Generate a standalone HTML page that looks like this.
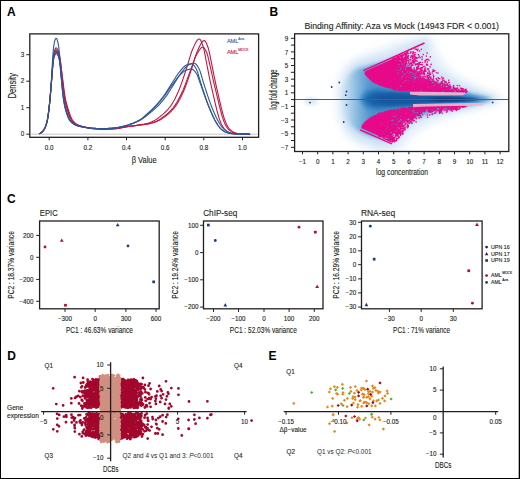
<!DOCTYPE html>
<html><head><meta charset="utf-8"><style>
html,body{margin:0;padding:0;background:#fff;}
body{width:520px;height:479px;overflow:hidden;}
svg{display:block;font-family:"Liberation Sans",sans-serif;}
</style></head><body>
<svg width="520" height="479" viewBox="0 0 520 479">
<rect x="0" y="0" width="520" height="479" fill="#fff"/>
<text x="6.9" y="15.7" font-size="12" fill="#000" font-weight="bold">A</text>
<rect x="29.8" y="33.9" width="228.8" height="103.4" fill="none" stroke="#231f20" stroke-width="1.3"/>
<line x1="31" y1="134.2" x2="257.5" y2="134.2" stroke="#d9d9d9" stroke-width="1.4"/>
<line x1="26.3" y1="134.2" x2="29.8" y2="134.2" stroke="#231f20" stroke-width="1"/>
<text x="24.2" y="136.4" font-size="6.3" fill="#231f20" stroke="#231f20" stroke-width="0.12" text-anchor="end">0</text>
<line x1="26.3" y1="107.7" x2="29.8" y2="107.7" stroke="#231f20" stroke-width="1"/>
<text x="24.2" y="109.9" font-size="6.3" fill="#231f20" stroke="#231f20" stroke-width="0.12" text-anchor="end">1</text>
<line x1="26.3" y1="81.2" x2="29.8" y2="81.2" stroke="#231f20" stroke-width="1"/>
<text x="24.2" y="83.4" font-size="6.3" fill="#231f20" stroke="#231f20" stroke-width="0.12" text-anchor="end">2</text>
<line x1="26.3" y1="54.7" x2="29.8" y2="54.7" stroke="#231f20" stroke-width="1"/>
<text x="24.2" y="56.9" font-size="6.3" fill="#231f20" stroke="#231f20" stroke-width="0.12" text-anchor="end">3</text>
<line x1="49.2" y1="137.3" x2="49.2" y2="140.3" stroke="#231f20" stroke-width="1"/>
<text x="49.2" y="149.6" font-size="6.3" fill="#231f20" stroke="#231f20" stroke-width="0.12" text-anchor="middle">0.0</text>
<line x1="87.9" y1="137.3" x2="87.9" y2="140.3" stroke="#231f20" stroke-width="1"/>
<text x="87.9" y="149.6" font-size="6.3" fill="#231f20" stroke="#231f20" stroke-width="0.12" text-anchor="middle">0.2</text>
<line x1="126.5" y1="137.3" x2="126.5" y2="140.3" stroke="#231f20" stroke-width="1"/>
<text x="126.5" y="149.6" font-size="6.3" fill="#231f20" stroke="#231f20" stroke-width="0.12" text-anchor="middle">0.4</text>
<line x1="165.2" y1="137.3" x2="165.2" y2="140.3" stroke="#231f20" stroke-width="1"/>
<text x="165.2" y="149.6" font-size="6.3" fill="#231f20" stroke="#231f20" stroke-width="0.12" text-anchor="middle">0.6</text>
<line x1="203.8" y1="137.3" x2="203.8" y2="140.3" stroke="#231f20" stroke-width="1"/>
<text x="203.8" y="149.6" font-size="6.3" fill="#231f20" stroke="#231f20" stroke-width="0.12" text-anchor="middle">0.8</text>
<line x1="242.5" y1="137.3" x2="242.5" y2="140.3" stroke="#231f20" stroke-width="1"/>
<text x="242.5" y="149.6" font-size="6.3" fill="#231f20" stroke="#231f20" stroke-width="0.12" text-anchor="middle">1.0</text>
<text x="131.7" y="162.5" font-size="9" fill="#231f20" stroke="#231f20" stroke-width="0.12" textLength="25" lengthAdjust="spacingAndGlyphs">&#946; Value</text>
<text transform="translate(15.8 98.5) rotate(-90)" font-size="10.4" fill="#231f20" stroke="#231f20" stroke-width="0.12" textLength="25.5" lengthAdjust="spacingAndGlyphs">Density</text>
<text x="226.9" y="42.8" font-size="5.6" fill="#3b5b9b" stroke="#3b5b9b" stroke-width="0.12">AML</text>
<text x="238.3" y="39.6" font-size="3.4" fill="#3b5b9b" stroke="#3b5b9b" stroke-width="0.12">Aza</text>
<text x="226.9" y="53.8" font-size="5.6" fill="#c0234a" stroke="#c0234a" stroke-width="0.12">AML</text>
<text x="238.3" y="50.5" font-size="3.4" fill="#c0234a" stroke="#c0234a" stroke-width="0.12">MOCK</text>
<g fill="none" stroke-width="1.1" stroke-linejoin="round">
<path d="M38.96 133.62 L39.66 133.48 L40.37 133.19 L41.07 132.82 L41.78 132.32 L42.49 131.64 L43.19 130.73 L43.90 129.66 L44.60 128.41 L45.31 126.92 L46.02 125.11 L46.72 122.83 L47.43 119.82 L48.13 115.60 L48.84 110.07 L49.55 103.60 L50.25 96.25 L50.96 87.75 L51.67 78.32 L52.37 68.21 L53.08 59.18 L53.78 53.65 L54.49 50.68 L55.20 48.83 L55.90 47.91 L56.61 47.93 L57.31 48.75 L58.02 50.19 L58.73 52.12 L59.43 54.68 L60.14 58.64 L60.85 64.39 L61.55 71.02 L62.26 77.53 L62.96 83.84 L63.67 89.96 L64.38 95.34 L65.08 99.58 L65.79 102.93 L66.49 105.74 L67.20 108.23 L67.91 110.53 L68.61 112.73 L69.32 114.81 L70.02 116.68 L70.73 118.28 L71.44 119.56 L72.14 120.59 L72.85 121.48 L73.56 122.26 L74.26 122.94 L74.97 123.52 L75.67 123.99 L76.38 124.38 L77.09 124.73 L77.79 125.04 L78.50 125.32 L79.20 125.58 L79.91 125.81 L80.62 126.03 L81.32 126.23 L82.03 126.42 L82.74 126.61 L83.44 126.79 L84.15 126.96 L84.85 127.14 L85.56 127.31 L86.27 127.48 L86.97 127.64 L87.68 127.79 L88.38 127.94 L89.09 128.08 L89.80 128.21 L90.50 128.32 L91.21 128.43 L91.92 128.52 L92.62 128.59 L93.33 128.65 L94.03 128.71 L94.74 128.76 L95.45 128.82 L96.15 128.87 L96.86 128.91 L97.56 128.96 L98.27 129.00 L98.98 129.04 L99.68 129.07 L100.39 129.10 L101.09 129.12 L101.80 129.14 L102.51 129.15 L103.21 129.16 L103.92 129.16 L104.63 129.16 L105.33 129.15 L106.04 129.14 L106.74 129.12 L107.45 129.09 L108.16 129.07 L108.86 129.03 L109.57 129.00 L110.27 128.96 L110.98 128.92 L111.69 128.88 L112.39 128.84 L113.10 128.79 L113.81 128.74 L114.51 128.69 L115.22 128.64 L115.92 128.58 L116.63 128.51 L117.34 128.42 L118.04 128.32 L118.75 128.21 L119.45 128.09 L120.16 127.96 L120.87 127.83 L121.57 127.69 L122.28 127.56 L122.98 127.42 L123.69 127.28 L124.40 127.15 L125.10 127.02 L125.81 126.90 L126.52 126.78 L127.22 126.67 L127.93 126.57 L128.63 126.46 L129.34 126.36 L130.05 126.26 L130.75 126.16 L131.46 126.06 L132.16 125.97 L132.87 125.87 L133.58 125.77 L134.28 125.67 L134.99 125.57 L135.70 125.47 L136.40 125.37 L137.11 125.27 L137.81 125.16 L138.52 125.05 L139.23 124.94 L139.93 124.83 L140.64 124.71 L141.34 124.60 L142.05 124.49 L142.76 124.38 L143.46 124.26 L144.17 124.13 L144.88 123.99 L145.58 123.85 L146.29 123.69 L146.99 123.51 L147.70 123.31 L148.41 123.09 L149.11 122.85 L149.82 122.59 L150.52 122.31 L151.23 122.01 L151.94 121.69 L152.64 121.36 L153.35 121.02 L154.05 120.67 L154.76 120.29 L155.47 119.88 L156.17 119.44 L156.88 118.97 L157.59 118.48 L158.29 117.97 L159.00 117.43 L159.70 116.88 L160.41 116.32 L161.12 115.74 L161.82 115.15 L162.53 114.56 L163.23 113.95 L163.94 113.33 L164.65 112.68 L165.35 112.02 L166.06 111.33 L166.77 110.61 L167.47 109.86 L168.18 109.07 L168.88 108.24 L169.59 107.37 L170.30 106.44 L171.00 105.45 L171.71 104.39 L172.41 103.26 L173.12 102.07 L173.83 100.81 L174.53 99.50 L175.24 98.14 L175.94 96.72 L176.65 95.26 L177.36 93.76 L178.06 92.22 L178.77 90.59 L179.48 88.87 L180.18 87.05 L180.89 85.13 L181.59 83.15 L182.30 81.10 L183.01 79.01 L183.71 76.89 L184.42 74.75 L185.12 72.61 L185.83 70.47 L186.54 68.33 L187.24 66.11 L187.95 63.78 L188.66 61.38 L189.36 58.95 L190.07 56.58 L190.77 54.31 L191.48 52.21 L192.19 50.33 L192.89 48.67 L193.60 47.13 L194.30 45.61 L195.01 44.13 L195.72 42.73 L196.42 41.47 L197.13 40.40 L197.84 39.58 L198.54 39.07 L199.25 38.95 L199.95 39.34 L200.66 40.28 L201.37 41.68 L202.07 43.43 L202.78 45.41 L203.48 47.68 L204.19 50.59 L204.90 54.17 L205.60 57.96 L206.31 61.63 L207.01 65.24 L207.72 68.84 L208.43 72.44 L209.13 76.02 L209.84 79.49 L210.55 82.79 L211.25 85.95 L211.96 89.05 L212.66 92.16 L213.37 95.28 L214.08 98.39 L214.78 101.46 L215.49 104.49 L216.19 107.45 L216.90 110.27 L217.61 112.92 L218.31 115.45 L219.02 117.82 L219.73 119.95 L220.43 121.81 L221.14 123.45 L221.84 124.95 L222.55 126.28 L223.26 127.42 L223.96 128.35 L224.67 129.12 L225.37 129.81 L226.08 130.44 L226.79 130.99 L227.49 131.47 L228.20 131.88 L228.90 132.22 L229.61 132.51 L230.32 132.76 L231.02 133.00 L231.73 133.21 L232.44 133.40 L233.14 133.55 L233.85 133.68 L234.55 133.76 L235.26 133.82 L235.97 133.86 L236.67 133.89 L237.38 133.93 L238.08 133.96 L238.79 133.99 L239.50 134.01 L240.20 134.04 L240.91 134.06 L241.62 134.09 L242.32 134.10 L243.03 134.12 L243.73 134.14 L244.44 134.15 L245.15 134.17 L245.85 134.18 L246.56 134.18 L247.26 134.19 L247.97 134.20 L248.68 134.20 L249.38 134.20 L250.09 134.20" stroke="#c0183f"/>
<path d="M38.96 133.62 L39.66 133.48 L40.37 133.19 L41.07 132.82 L41.78 132.32 L42.49 131.64 L43.19 130.73 L43.90 129.66 L44.60 128.41 L45.31 126.93 L46.02 125.11 L46.72 122.84 L47.43 119.85 L48.13 115.65 L48.84 110.19 L49.55 103.83 L50.25 96.68 L50.96 88.53 L51.67 79.64 L52.37 70.35 L53.08 62.22 L53.78 57.32 L54.49 54.74 L55.20 53.15 L55.90 52.35 L56.61 52.34 L57.31 52.97 L58.02 54.07 L58.73 55.57 L59.43 57.46 L60.14 60.27 L60.85 64.59 L61.55 70.05 L62.26 75.77 L62.96 81.33 L63.67 86.90 L64.38 92.27 L65.08 96.88 L65.79 100.52 L66.49 103.47 L67.20 106.02 L67.91 108.32 L68.61 110.51 L69.32 112.64 L70.02 114.68 L70.73 116.56 L71.44 118.17 L72.14 119.47 L72.85 120.51 L73.56 121.41 L74.26 122.20 L74.97 122.89 L75.67 123.47 L76.38 123.95 L77.09 124.35 L77.79 124.70 L78.50 125.01 L79.20 125.30 L79.91 125.56 L80.62 125.79 L81.32 126.01 L82.03 126.22 L82.74 126.41 L83.44 126.59 L84.15 126.77 L84.85 126.95 L85.56 127.12 L86.27 127.29 L86.97 127.46 L87.68 127.62 L88.38 127.78 L89.09 127.93 L89.80 128.07 L90.50 128.19 L91.21 128.31 L91.92 128.42 L92.62 128.51 L93.33 128.58 L94.03 128.65 L94.74 128.70 L95.45 128.76 L96.15 128.81 L96.86 128.86 L97.56 128.91 L98.27 128.95 L98.98 128.99 L99.68 129.03 L100.39 129.07 L101.09 129.10 L101.80 129.12 L102.51 129.14 L103.21 129.15 L103.92 129.16 L104.63 129.16 L105.33 129.16 L106.04 129.15 L106.74 129.14 L107.45 129.12 L108.16 129.10 L108.86 129.07 L109.57 129.04 L110.27 129.01 L110.98 128.97 L111.69 128.93 L112.39 128.89 L113.10 128.84 L113.81 128.80 L114.51 128.75 L115.22 128.70 L115.92 128.64 L116.63 128.58 L117.34 128.50 L118.04 128.41 L118.75 128.30 L119.45 128.17 L120.16 128.04 L120.87 127.90 L121.57 127.75 L122.28 127.60 L122.98 127.45 L123.69 127.30 L124.40 127.16 L125.10 127.02 L125.81 126.90 L126.52 126.78 L127.22 126.68 L127.93 126.58 L128.63 126.48 L129.34 126.38 L130.05 126.29 L130.75 126.20 L131.46 126.11 L132.16 126.03 L132.87 125.94 L133.58 125.86 L134.28 125.77 L134.99 125.69 L135.70 125.60 L136.40 125.52 L137.11 125.43 L137.81 125.35 L138.52 125.26 L139.23 125.17 L139.93 125.07 L140.64 124.98 L141.34 124.88 L142.05 124.79 L142.76 124.69 L143.46 124.60 L144.17 124.51 L144.88 124.41 L145.58 124.31 L146.29 124.21 L146.99 124.10 L147.70 123.99 L148.41 123.86 L149.11 123.73 L149.82 123.59 L150.52 123.44 L151.23 123.27 L151.94 123.08 L152.64 122.88 L153.35 122.67 L154.05 122.44 L154.76 122.20 L155.47 121.94 L156.17 121.68 L156.88 121.40 L157.59 121.10 L158.29 120.80 L159.00 120.48 L159.70 120.12 L160.41 119.74 L161.12 119.32 L161.82 118.88 L162.53 118.41 L163.23 117.92 L163.94 117.42 L164.65 116.89 L165.35 116.35 L166.06 115.80 L166.77 115.23 L167.47 114.66 L168.18 114.06 L168.88 113.45 L169.59 112.81 L170.30 112.15 L171.00 111.46 L171.71 110.74 L172.41 109.99 L173.12 109.20 L173.83 108.38 L174.53 107.51 L175.24 106.60 L175.94 105.62 L176.65 104.57 L177.36 103.45 L178.06 102.27 L178.77 101.03 L179.48 99.74 L180.18 98.39 L180.89 96.99 L181.59 95.55 L182.30 94.07 L183.01 92.54 L183.71 90.95 L184.42 89.26 L185.12 87.47 L185.83 85.59 L186.54 83.64 L187.24 81.63 L187.95 79.58 L188.66 77.50 L189.36 75.40 L190.07 73.30 L190.77 71.22 L191.48 69.13 L192.19 66.98 L192.89 64.72 L193.60 62.39 L194.30 60.04 L195.01 57.73 L195.72 55.52 L196.42 53.47 L197.13 51.63 L197.84 50.02 L198.54 48.53 L199.25 47.07 L199.95 45.64 L200.66 44.29 L201.37 43.07 L202.07 42.03 L202.78 41.22 L203.48 40.69 L204.19 40.53 L204.90 40.84 L205.60 41.67 L206.31 42.96 L207.01 44.60 L207.72 46.47 L208.43 48.61 L209.13 51.32 L209.84 54.71 L210.55 58.37 L211.25 61.95 L211.96 65.46 L212.66 68.96 L213.37 72.48 L214.08 75.99 L214.78 79.41 L215.49 82.68 L216.19 85.81 L216.90 88.87 L217.61 91.94 L218.31 95.04 L219.02 98.12 L219.73 101.17 L220.43 104.19 L221.14 107.15 L221.84 109.98 L222.55 112.64 L223.26 115.17 L223.96 117.56 L224.67 119.72 L225.37 121.61 L226.08 123.27 L226.79 124.78 L227.49 126.13 L228.20 127.30 L228.90 128.25 L229.61 129.04 L230.32 129.74 L231.02 130.37 L231.73 130.93 L232.44 131.42 L233.14 131.84 L233.85 132.19 L234.55 132.48 L235.26 132.73 L235.97 132.97 L236.67 133.19 L237.38 133.38 L238.08 133.54 L238.79 133.66 L239.50 133.75 L240.20 133.81 L240.91 133.85 L241.62 133.89 L242.32 133.92 L243.03 133.95 L243.73 133.98 L244.44 134.01 L245.15 134.04 L245.85 134.06 L246.56 134.08 L247.26 134.10 L247.97 134.12 L248.68 134.14 L249.38 134.15 L250.09 134.16" stroke="#c0183f"/>
<path d="M38.96 133.62 L39.66 133.48 L40.37 133.19 L41.07 132.82 L41.78 132.32 L42.49 131.64 L43.19 130.73 L43.90 129.66 L44.60 128.41 L45.31 126.93 L46.02 125.11 L46.72 122.85 L47.43 119.85 L48.13 115.66 L48.84 110.22 L49.55 103.90 L50.25 96.81 L50.96 88.76 L51.67 80.03 L52.37 70.99 L53.08 63.11 L53.78 58.40 L54.49 55.94 L55.20 54.42 L55.90 53.67 L56.61 53.71 L57.31 54.41 L58.02 55.66 L58.73 57.35 L59.43 59.70 L60.14 63.48 L60.85 68.86 L61.55 74.92 L62.26 80.93 L62.96 86.94 L63.67 92.71 L64.38 97.60 L65.08 101.41 L65.79 104.52 L66.49 107.19 L67.20 109.58 L67.91 111.83 L68.61 113.96 L69.32 115.92 L70.02 117.64 L70.73 119.05 L71.44 120.17 L72.14 121.11 L72.85 121.94 L73.56 122.66 L74.26 123.28 L74.97 123.80 L75.67 124.22 L76.38 124.58 L77.09 124.91 L77.79 125.20 L78.50 125.47 L79.20 125.71 L79.91 125.94 L80.62 126.15 L81.32 126.34 L82.03 126.53 L82.74 126.71 L83.44 126.89 L84.15 127.06 L84.85 127.23 L85.56 127.40 L86.27 127.57 L86.97 127.73 L87.68 127.88 L88.38 128.02 L89.09 128.15 L89.80 128.27 L90.50 128.38 L91.21 128.48 L91.92 128.56 L92.62 128.63 L93.33 128.68 L94.03 128.74 L94.74 128.79 L95.45 128.84 L96.15 128.89 L96.86 128.94 L97.56 128.98 L98.27 129.02 L98.98 129.05 L99.68 129.09 L100.39 129.11 L101.09 129.13 L101.80 129.15 L102.51 129.16 L103.21 129.16 L103.92 129.16 L104.63 129.15 L105.33 129.14 L106.04 129.12 L106.74 129.10 L107.45 129.08 L108.16 129.05 L108.86 129.02 L109.57 128.98 L110.27 128.94 L110.98 128.90 L111.69 128.85 L112.39 128.81 L113.10 128.76 L113.81 128.71 L114.51 128.66 L115.22 128.61 L115.92 128.54 L116.63 128.47 L117.34 128.37 L118.04 128.27 L118.75 128.16 L119.45 128.04 L120.16 127.92 L120.87 127.79 L121.57 127.66 L122.28 127.52 L122.98 127.39 L123.69 127.26 L124.40 127.13 L125.10 127.01 L125.81 126.89 L126.52 126.79 L127.22 126.68 L127.93 126.58 L128.63 126.49 L129.34 126.39 L130.05 126.30 L130.75 126.21 L131.46 126.12 L132.16 126.03 L132.87 125.94 L133.58 125.85 L134.28 125.76 L134.99 125.67 L135.70 125.59 L136.40 125.50 L137.11 125.40 L137.81 125.31 L138.52 125.22 L139.23 125.12 L139.93 125.02 L140.64 124.92 L141.34 124.82 L142.05 124.72 L142.76 124.63 L143.46 124.53 L144.17 124.43 L144.88 124.33 L145.58 124.22 L146.29 124.11 L146.99 123.99 L147.70 123.86 L148.41 123.72 L149.11 123.57 L149.82 123.41 L150.52 123.22 L151.23 123.02 L151.94 122.81 L152.64 122.58 L153.35 122.34 L154.05 122.08 L154.76 121.81 L155.47 121.52 L156.17 121.22 L156.88 120.91 L157.59 120.58 L158.29 120.23 L159.00 119.85 L159.70 119.43 L160.41 118.99 L161.12 118.52 L161.82 118.03 L162.53 117.52 L163.23 117.00 L163.94 116.45 L164.65 115.90 L165.35 115.34 L166.06 114.76 L166.77 114.18 L167.47 113.57 L168.18 112.94 L168.88 112.29 L169.59 111.61 L170.30 110.90 L171.00 110.17 L171.71 109.39 L172.41 108.59 L173.12 107.74 L173.83 106.85 L174.53 105.89 L175.24 104.87 L175.94 103.79 L176.65 102.64 L177.36 101.44 L178.06 100.18 L178.77 98.87 L179.48 97.53 L180.18 96.14 L180.89 94.72 L181.59 93.26 L182.30 91.75 L183.01 90.15 L183.71 88.47 L184.42 86.70 L185.12 84.88 L185.83 83.00 L186.54 81.09 L187.24 79.17 L187.95 77.24 L188.66 75.32 L189.36 73.42 L190.07 71.54 L190.77 69.63 L191.48 67.65 L192.19 65.61 L192.89 63.56 L193.60 61.56 L194.30 59.65 L195.01 57.88 L195.72 56.31 L196.42 54.95 L197.13 53.71 L197.84 52.52 L198.54 51.35 L199.25 50.24 L199.95 49.24 L200.66 48.39 L201.37 47.72 L202.07 47.28 L202.78 47.12 L203.48 47.34 L204.19 47.97 L204.90 48.98 L205.60 50.28 L206.31 51.79 L207.01 53.52 L207.72 55.72 L208.43 58.54 L209.13 61.67 L209.84 64.77 L210.55 67.85 L211.25 70.98 L211.96 74.15 L212.66 77.35 L213.37 80.51 L214.08 83.56 L214.78 86.50 L215.49 89.40 L216.19 92.32 L216.90 95.29 L217.61 98.27 L218.31 101.23 L219.02 104.17 L219.73 107.08 L220.43 109.87 L221.14 112.51 L221.84 115.03 L222.55 117.41 L223.26 119.58 L223.96 121.48 L224.67 123.15 L225.37 124.67 L226.08 126.03 L226.79 127.21 L227.49 128.18 L228.20 128.98 L228.90 129.68 L229.61 130.32 L230.32 130.88 L231.02 131.38 L231.73 131.81 L232.44 132.16 L233.14 132.45 L233.85 132.71 L234.55 132.95 L235.26 133.17 L235.97 133.36 L236.67 133.53 L237.38 133.65 L238.08 133.75 L238.79 133.81 L239.50 133.85 L240.20 133.88 L240.91 133.92 L241.62 133.95 L242.32 133.98 L243.03 134.01 L243.73 134.03 L244.44 134.06 L245.15 134.08 L245.85 134.10 L246.56 134.12 L247.26 134.14 L247.97 134.15 L248.68 134.16 L249.38 134.17 L250.09 134.18" stroke="#c0183f"/>
<path d="M38.96 133.62 L39.66 133.48 L40.37 133.19 L41.07 132.82 L41.78 132.32 L42.49 131.64 L43.19 130.73 L43.90 129.65 L44.60 128.41 L45.31 126.92 L46.02 125.10 L46.72 122.81 L47.43 119.77 L48.13 115.48 L48.84 109.83 L49.55 103.11 L50.25 95.31 L50.96 86.06 L51.67 75.43 L52.37 63.54 L53.08 52.56 L53.78 45.66 L54.49 41.85 L55.20 39.43 L55.90 38.25 L56.61 38.48 L57.31 40.09 L58.02 42.83 L58.73 46.75 L59.43 52.96 L60.14 61.85 L60.85 71.49 L61.55 80.54 L62.26 88.85 L62.96 95.75 L63.67 100.89 L64.38 104.84 L65.08 108.04 L65.79 110.73 L66.49 113.12 L67.20 115.25 L67.91 117.10 L68.61 118.62 L69.32 119.82 L70.02 120.82 L70.73 121.69 L71.44 122.45 L72.14 123.10 L72.85 123.64 L73.56 124.09 L74.26 124.47 L74.97 124.82 L75.67 125.13 L76.38 125.42 L77.09 125.68 L77.79 125.92 L78.50 126.13 L79.20 126.33 L79.91 126.51 L80.62 126.67 L81.32 126.82 L82.03 126.95 L82.74 127.08 L83.44 127.21 L84.15 127.32 L84.85 127.43 L85.56 127.54 L86.27 127.63 L86.97 127.73 L87.68 127.81 L88.38 127.89 L89.09 127.96 L89.80 128.02 L90.50 128.08 L91.21 128.13 L91.92 128.19 L92.62 128.24 L93.33 128.29 L94.03 128.34 L94.74 128.38 L95.45 128.43 L96.15 128.47 L96.86 128.51 L97.56 128.54 L98.27 128.57 L98.98 128.59 L99.68 128.61 L100.39 128.62 L101.09 128.63 L101.80 128.63 L102.51 128.62 L103.21 128.61 L103.92 128.60 L104.63 128.58 L105.33 128.55 L106.04 128.52 L106.74 128.49 L107.45 128.46 L108.16 128.42 L108.86 128.38 L109.57 128.34 L110.27 128.29 L110.98 128.24 L111.69 128.19 L112.39 128.14 L113.10 128.09 L113.81 128.03 L114.51 127.96 L115.22 127.87 L115.92 127.78 L116.63 127.67 L117.34 127.55 L118.04 127.43 L118.75 127.29 L119.45 127.15 L120.16 127.00 L120.87 126.85 L121.57 126.69 L122.28 126.52 L122.98 126.35 L123.69 126.18 L124.40 126.00 L125.10 125.82 L125.81 125.63 L126.52 125.45 L127.22 125.26 L127.93 125.06 L128.63 124.86 L129.34 124.64 L130.05 124.42 L130.75 124.19 L131.46 123.94 L132.16 123.69 L132.87 123.43 L133.58 123.16 L134.28 122.88 L134.99 122.59 L135.70 122.29 L136.40 121.99 L137.11 121.67 L137.81 121.34 L138.52 121.01 L139.23 120.66 L139.93 120.30 L140.64 119.93 L141.34 119.54 L142.05 119.12 L142.76 118.65 L143.46 118.16 L144.17 117.64 L144.88 117.10 L145.58 116.54 L146.29 115.97 L146.99 115.39 L147.70 114.81 L148.41 114.22 L149.11 113.64 L149.82 113.07 L150.52 112.50 L151.23 111.92 L151.94 111.34 L152.64 110.74 L153.35 110.14 L154.05 109.53 L154.76 108.91 L155.47 108.27 L156.17 107.61 L156.88 106.94 L157.59 106.25 L158.29 105.54 L159.00 104.80 L159.70 104.05 L160.41 103.27 L161.12 102.47 L161.82 101.66 L162.53 100.82 L163.23 99.96 L163.94 99.08 L164.65 98.19 L165.35 97.27 L166.06 96.33 L166.77 95.36 L167.47 94.35 L168.18 93.29 L168.88 92.20 L169.59 91.09 L170.30 89.95 L171.00 88.81 L171.71 87.66 L172.41 86.52 L173.12 85.38 L173.83 84.26 L174.53 83.16 L175.24 82.04 L175.94 80.91 L176.65 79.76 L177.36 78.62 L178.06 77.48 L178.77 76.35 L179.48 75.26 L180.18 74.20 L180.89 73.18 L181.59 72.23 L182.30 71.32 L183.01 70.46 L183.71 69.59 L184.42 68.74 L185.12 67.91 L185.83 67.12 L186.54 66.40 L187.24 65.76 L187.95 65.22 L188.66 64.80 L189.36 64.46 L190.07 64.17 L190.77 63.90 L191.48 63.66 L192.19 63.46 L192.89 63.31 L193.60 63.23 L194.30 63.25 L195.01 63.48 L195.72 63.97 L196.42 64.69 L197.13 65.60 L197.84 66.66 L198.54 67.82 L199.25 69.14 L199.95 70.84 L200.66 73.01 L201.37 75.47 L202.07 77.95 L202.78 80.31 L203.48 82.60 L204.19 84.87 L204.90 87.12 L205.60 89.34 L206.31 91.53 L207.01 93.69 L207.72 95.83 L208.43 97.92 L209.13 99.95 L209.84 101.91 L210.55 103.84 L211.25 105.71 L211.96 107.54 L212.66 109.30 L213.37 111.00 L214.08 112.64 L214.78 114.24 L215.49 115.80 L216.19 117.31 L216.90 118.75 L217.61 120.12 L218.31 121.41 L219.02 122.64 L219.73 123.82 L220.43 124.94 L221.14 125.97 L221.84 126.90 L222.55 127.72 L223.26 128.46 L223.96 129.15 L224.67 129.80 L225.37 130.39 L226.08 130.91 L226.79 131.37 L227.49 131.74 L228.20 132.06 L228.90 132.34 L229.61 132.60 L230.32 132.84 L231.02 133.05 L231.73 133.23 L232.44 133.38 L233.14 133.49 L233.85 133.59 L234.55 133.67 L235.26 133.74 L235.97 133.80 L236.67 133.86 L237.38 133.91 L238.08 133.96 L238.79 133.99 L239.50 134.02 L240.20 134.04 L240.91 134.06 L241.62 134.07 L242.32 134.08 L243.03 134.10 L243.73 134.11 L244.44 134.12 L245.15 134.13 L245.85 134.14 L246.56 134.15 L247.26 134.16 L247.97 134.17 L248.68 134.18 L249.38 134.18 L250.09 134.19" stroke="#2e5596"/>
<path d="M38.96 133.62 L39.66 133.48 L40.37 133.19 L41.07 132.82 L41.78 132.32 L42.49 131.64 L43.19 130.73 L43.90 129.66 L44.60 128.41 L45.31 126.93 L46.02 125.11 L46.72 122.84 L47.43 119.83 L48.13 115.62 L48.84 110.12 L49.55 103.70 L50.25 96.43 L50.96 88.07 L51.67 78.86 L52.37 69.09 L53.08 60.43 L53.78 55.16 L54.49 52.35 L55.20 50.61 L55.90 49.75 L56.61 49.86 L57.31 50.86 L58.02 52.59 L58.73 54.99 L59.43 58.69 L60.14 64.50 L60.85 71.67 L61.55 78.88 L62.26 85.92 L62.96 92.53 L63.67 97.98 L64.38 102.15 L65.08 105.51 L65.79 108.34 L66.49 110.83 L67.20 113.11 L67.91 115.19 L68.61 117.03 L69.32 118.56 L70.02 119.78 L70.73 120.78 L71.44 121.65 L72.14 122.41 L72.85 123.07 L73.56 123.62 L74.26 124.07 L74.97 124.46 L75.67 124.80 L76.38 125.11 L77.09 125.40 L77.79 125.67 L78.50 125.91 L79.20 126.12 L79.91 126.32 L80.62 126.50 L81.32 126.66 L82.03 126.81 L82.74 126.95 L83.44 127.08 L84.15 127.20 L84.85 127.32 L85.56 127.43 L86.27 127.53 L86.97 127.63 L87.68 127.72 L88.38 127.81 L89.09 127.88 L89.80 127.96 L90.50 128.02 L91.21 128.08 L91.92 128.13 L92.62 128.18 L93.33 128.24 L94.03 128.29 L94.74 128.34 L95.45 128.38 L96.15 128.43 L96.86 128.47 L97.56 128.51 L98.27 128.54 L98.98 128.57 L99.68 128.59 L100.39 128.61 L101.09 128.63 L101.80 128.63 L102.51 128.63 L103.21 128.63 L103.92 128.62 L104.63 128.60 L105.33 128.58 L106.04 128.56 L106.74 128.53 L107.45 128.50 L108.16 128.47 L108.86 128.43 L109.57 128.39 L110.27 128.35 L110.98 128.30 L111.69 128.25 L112.39 128.20 L113.10 128.15 L113.81 128.10 L114.51 128.04 L115.22 127.96 L115.92 127.87 L116.63 127.77 L117.34 127.66 L118.04 127.53 L118.75 127.40 L119.45 127.25 L120.16 127.10 L120.87 126.93 L121.57 126.76 L122.28 126.59 L122.98 126.41 L123.69 126.22 L124.40 126.03 L125.10 125.84 L125.81 125.65 L126.52 125.45 L127.22 125.25 L127.93 125.04 L128.63 124.82 L129.34 124.59 L130.05 124.35 L130.75 124.10 L131.46 123.83 L132.16 123.56 L132.87 123.28 L133.58 122.98 L134.28 122.68 L134.99 122.36 L135.70 122.04 L136.40 121.70 L137.11 121.35 L137.81 120.98 L138.52 120.61 L139.23 120.22 L139.93 119.82 L140.64 119.38 L141.34 118.90 L142.05 118.37 L142.76 117.81 L143.46 117.23 L144.17 116.61 L144.88 115.99 L145.58 115.35 L146.29 114.71 L146.99 114.07 L147.70 113.44 L148.41 112.81 L149.11 112.17 L149.82 111.53 L150.52 110.88 L151.23 110.22 L151.94 109.54 L152.64 108.86 L153.35 108.16 L154.05 107.44 L154.76 106.71 L155.47 105.97 L156.17 105.20 L156.88 104.42 L157.59 103.62 L158.29 102.80 L159.00 101.97 L159.70 101.12 L160.41 100.25 L161.12 99.36 L161.82 98.45 L162.53 97.53 L163.23 96.58 L163.94 95.61 L164.65 94.60 L165.35 93.55 L166.06 92.47 L166.77 91.37 L167.47 90.25 L168.18 89.13 L168.88 87.99 L169.59 86.86 L170.30 85.74 L171.00 84.64 L171.71 83.55 L172.41 82.45 L173.12 81.33 L173.83 80.20 L174.53 79.07 L175.24 77.94 L175.94 76.83 L176.65 75.75 L177.36 74.70 L178.06 73.69 L178.77 72.74 L179.48 71.84 L180.18 70.99 L180.89 70.14 L181.59 69.30 L182.30 68.48 L183.01 67.70 L183.71 66.98 L184.42 66.34 L185.12 65.79 L185.83 65.36 L186.54 65.02 L187.24 64.72 L187.95 64.46 L188.66 64.22 L189.36 64.02 L190.07 63.86 L190.77 63.77 L191.48 63.76 L192.19 63.95 L192.89 64.38 L193.60 65.06 L194.30 65.92 L195.01 66.93 L195.72 68.06 L196.42 69.32 L197.13 70.91 L197.84 72.97 L198.54 75.36 L199.25 77.82 L199.95 80.17 L200.66 82.43 L201.37 84.68 L202.07 86.91 L202.78 89.12 L203.48 91.29 L204.19 93.44 L204.90 95.56 L205.60 97.65 L206.31 99.68 L207.01 101.64 L207.72 103.56 L208.43 105.44 L209.13 107.27 L209.84 109.04 L210.55 110.74 L211.25 112.39 L211.96 113.99 L212.66 115.56 L213.37 117.07 L214.08 118.52 L214.78 119.90 L215.49 121.20 L216.19 122.44 L216.90 123.62 L217.61 124.76 L218.31 125.81 L219.02 126.75 L219.73 127.59 L220.43 128.34 L221.14 129.04 L221.84 129.69 L222.55 130.29 L223.26 130.83 L223.96 131.30 L224.67 131.68 L225.37 132.01 L226.08 132.30 L226.79 132.56 L227.49 132.80 L228.20 133.01 L228.90 133.20 L229.61 133.35 L230.32 133.48 L231.02 133.57 L231.73 133.65 L232.44 133.73 L233.14 133.79 L233.85 133.85 L234.55 133.90 L235.26 133.95 L235.97 133.99 L236.67 134.02 L237.38 134.04 L238.08 134.05 L238.79 134.07 L239.50 134.08 L240.20 134.10 L240.91 134.11 L241.62 134.12 L242.32 134.13 L243.03 134.14 L243.73 134.15 L244.44 134.16 L245.15 134.17 L245.85 134.17 L246.56 134.18 L247.26 134.19 L247.97 134.19 L248.68 134.19 L249.38 134.20 L250.09 134.20" stroke="#2e5596"/>
<path d="M38.96 133.62 L39.66 133.48 L40.37 133.19 L41.07 132.82 L41.78 132.32 L42.49 131.64 L43.19 130.73 L43.90 129.66 L44.60 128.41 L45.31 126.93 L46.02 125.11 L46.72 122.84 L47.43 119.84 L48.13 115.63 L48.84 110.15 L49.55 103.76 L50.25 96.55 L50.96 88.30 L51.67 79.25 L52.37 69.72 L53.08 61.33 L53.78 56.24 L54.49 53.55 L55.20 51.88 L55.90 51.07 L56.61 51.20 L57.31 52.22 L58.02 53.99 L58.73 56.50 L59.43 60.54 L60.14 66.73 L60.85 74.03 L61.55 81.30 L62.26 88.41 L62.96 94.83 L63.67 99.89 L64.38 103.79 L65.08 106.99 L65.79 109.70 L66.49 112.11 L67.20 114.29 L67.91 116.25 L68.61 117.92 L69.32 119.27 L70.02 120.35 L70.73 121.27 L71.44 122.08 L72.14 122.79 L72.85 123.38 L73.56 123.88 L74.26 124.29 L74.97 124.65 L75.67 124.98 L76.38 125.28 L77.09 125.55 L77.79 125.80 L78.50 126.03 L79.20 126.24 L79.91 126.42 L80.62 126.59 L81.32 126.75 L82.03 126.89 L82.74 127.02 L83.44 127.15 L84.15 127.27 L84.85 127.38 L85.56 127.49 L86.27 127.59 L86.97 127.68 L87.68 127.77 L88.38 127.85 L89.09 127.92 L89.80 127.99 L90.50 128.05 L91.21 128.11 L91.92 128.16 L92.62 128.21 L93.33 128.26 L94.03 128.31 L94.74 128.36 L95.45 128.41 L96.15 128.45 L96.86 128.49 L97.56 128.52 L98.27 128.56 L98.98 128.58 L99.68 128.60 L100.39 128.62 L101.09 128.63 L101.80 128.63 L102.51 128.63 L103.21 128.62 L103.92 128.61 L104.63 128.59 L105.33 128.57 L106.04 128.55 L106.74 128.52 L107.45 128.48 L108.16 128.45 L108.86 128.41 L109.57 128.36 L110.27 128.32 L110.98 128.27 L111.69 128.23 L112.39 128.18 L113.10 128.12 L113.81 128.07 L114.51 128.00 L115.22 127.92 L115.92 127.83 L116.63 127.73 L117.34 127.61 L118.04 127.49 L118.75 127.35 L119.45 127.21 L120.16 127.06 L120.87 126.90 L121.57 126.74 L122.28 126.57 L122.98 126.39 L123.69 126.21 L124.40 126.03 L125.10 125.84 L125.81 125.65 L126.52 125.46 L127.22 125.26 L127.93 125.06 L128.63 124.84 L129.34 124.61 L130.05 124.37 L130.75 124.12 L131.46 123.86 L132.16 123.59 L132.87 123.31 L133.58 123.02 L134.28 122.71 L134.99 122.40 L135.70 122.07 L136.40 121.73 L137.11 121.38 L137.81 121.02 L138.52 120.65 L139.23 120.27 L139.93 119.87 L140.64 119.43 L141.34 118.96 L142.05 118.44 L142.76 117.89 L143.46 117.30 L144.17 116.70 L144.88 116.08 L145.58 115.46 L146.29 114.83 L146.99 114.20 L147.70 113.58 L148.41 112.97 L149.11 112.35 L149.82 111.72 L150.52 111.08 L151.23 110.44 L151.94 109.78 L152.64 109.12 L153.35 108.44 L154.05 107.75 L154.76 107.05 L155.47 106.33 L156.17 105.59 L156.88 104.84 L157.59 104.08 L158.29 103.30 L159.00 102.50 L159.70 101.69 L160.41 100.87 L161.12 100.03 L161.82 99.18 L162.53 98.31 L163.23 97.43 L163.94 96.52 L164.65 95.59 L165.35 94.62 L166.06 93.63 L166.77 92.62 L167.47 91.60 L168.18 90.57 L168.88 89.55 L169.59 88.53 L170.30 87.53 L171.00 86.55 L171.71 85.58 L172.41 84.62 L173.12 83.64 L173.83 82.66 L174.53 81.68 L175.24 80.72 L175.94 79.77 L176.65 78.84 L177.36 77.95 L178.06 77.11 L178.77 76.31 L179.48 75.57 L180.18 74.86 L180.89 74.17 L181.59 73.48 L182.30 72.82 L183.01 72.19 L183.71 71.61 L184.42 71.09 L185.12 70.66 L185.83 70.31 L186.54 70.04 L187.24 69.81 L187.95 69.60 L188.66 69.41 L189.36 69.25 L190.07 69.13 L190.77 69.05 L191.48 69.05 L192.19 69.20 L192.89 69.54 L193.60 70.08 L194.30 70.76 L195.01 71.57 L195.72 72.48 L196.42 73.50 L197.13 74.80 L197.84 76.52 L198.54 78.53 L199.25 80.61 L199.95 82.63 L200.66 84.60 L201.37 86.58 L202.07 88.58 L202.78 90.57 L203.48 92.54 L204.19 94.52 L204.90 96.48 L205.60 98.43 L206.31 100.34 L207.01 102.20 L207.72 104.03 L208.43 105.82 L209.13 107.59 L209.84 109.30 L210.55 110.95 L211.25 112.56 L211.96 114.13 L212.66 115.66 L213.37 117.15 L214.08 118.58 L214.78 119.95 L215.49 121.24 L216.19 122.46 L216.90 123.64 L217.61 124.77 L218.31 125.82 L219.02 126.76 L219.73 127.59 L220.43 128.34 L221.14 129.04 L221.84 129.69 L222.55 130.29 L223.26 130.83 L223.96 131.30 L224.67 131.68 L225.37 132.01 L226.08 132.30 L226.79 132.56 L227.49 132.80 L228.20 133.01 L228.90 133.20 L229.61 133.35 L230.32 133.48 L231.02 133.57 L231.73 133.65 L232.44 133.73 L233.14 133.79 L233.85 133.85 L234.55 133.90 L235.26 133.95 L235.97 133.99 L236.67 134.02 L237.38 134.04 L238.08 134.05 L238.79 134.07 L239.50 134.08 L240.20 134.10 L240.91 134.11 L241.62 134.12 L242.32 134.13 L243.03 134.14 L243.73 134.15 L244.44 134.16 L245.15 134.17 L245.85 134.17 L246.56 134.18 L247.26 134.19 L247.97 134.19 L248.68 134.19 L249.38 134.20 L250.09 134.20" stroke="#2e5596"/>
</g>
<text x="269.6" y="15.6" font-size="12" fill="#000" font-weight="bold">B</text>
<defs><clipPath id="bclip"><rect x="294.6" y="33.8" width="214.2" height="117.7"/></clipPath>
<filter id="bl4" x="-20%" y="-20%" width="140%" height="140%"><feGaussianBlur stdDeviation="4"/></filter>
<filter id="bl3" x="-20%" y="-20%" width="140%" height="140%"><feGaussianBlur stdDeviation="3"/></filter>
<filter id="bl2" x="-20%" y="-20%" width="140%" height="140%"><feGaussianBlur stdDeviation="2"/></filter>
<filter id="bl1" x="-20%" y="-20%" width="140%" height="140%"><feGaussianBlur stdDeviation="1.2"/></filter>
</defs>
<g clip-path="url(#bclip)">
<polygon points="336,99 337,84 341,72 348,63 360,56 385,47 405,40 425,35 433,40 436,50 444,64 458,76 480,88 500,96 504,99.2 500,103 482,108 462,113 445,118 428,125 412,135 402,148 390,152 372,150 355,143 344,133 338,118" fill="#e4eff9" filter="url(#bl4)"/>
<polygon points="342,99 343,86 347,74 353,65 362,61 385,55 405,46.5 424,39.5 429,42 428,50 428,60 440,72 460,84 490,95 499,99.2 490,103 470,107.5 455,111 432,116 414,123 402,134 394,146 380,147 360,140 349,132 344,120" fill="#cfe3f3" filter="url(#bl3)"/>
<linearGradient id="cg" gradientUnits="userSpaceOnUse" x1="342" y1="0" x2="372" y2="0"><stop offset="0" stop-color="#d7e8f6"/><stop offset="0.5" stop-color="#86b9e0"/><stop offset="1" stop-color="#4b90ca"/></linearGradient>
<polygon points="343,99.2 344,88 347,79 352,72 358,68 365,67 385,62 398,58 420,76 450,88 475,95 492,99.2 475,103.5 450,109 425,114 400,125 388,140 365,134 358,131 352,126 347,119 344,110" fill="url(#cg)" filter="url(#bl2)"/>
<polygon points="360,99.2 363,93 368,87 376,85 395,87.5 420,90 445,92.5 470,96 492,99.2 492,99.2 470,102.4 445,105.9 420,108.4 395,110.9 376,113.4 368,111.4 363,105.4 360,99.2" fill="#4f94cc" filter="url(#bl2)"/>
<polygon points="362,99.2 367,92 376,89 392,90 420,92 445,94.5 468,97.5 482,99.2 482,99.2 468,100.9 445,103.9 420,106.4 392,108.4 376,109.4 367,106.4 362,99.2" fill="#2470b6" filter="url(#bl2)"/>
<polygon points="366,99.2 374,93.5 392,93 420,94.5 448,96.5 468,98.4 476,99.2 476,99.2 468,100 448,101.9 420,103.9 392,105.4 374,104.9 366,99.2" fill="#1c63aa" filter="url(#bl1)"/>
<polygon points="372,99.2 380,95.5 395,94.5 412,95.5 440,97.5 462,98.7 470,99.2 470,99.2 462,99.7 440,100.9 412,102.9 395,103.9 380,102.9 372,99.2" fill="#14549b" filter="url(#bl2)"/>
<polygon points="425,99.2 440,97.6 458,97.6 470,98.4 479,99.2 479,99.6 470,100.4 458,101.2 440,101.2 425,99.6" fill="#0f3775" filter="url(#bl1)"/>
<ellipse cx="311" cy="101.5" rx="7" ry="3.5" fill="#d6e8f5" filter="url(#bl2)"/>
<polygon points="365,71.4 395,57.8 395,89.4 390,88.4 385,87.4 379,85.2 373,82.5 368,78 364.5,74 364.5,73.2" fill="#e8088a"/>
<polygon points="361.2,127.9 362,125 365,121.5 370,117.5 375,115 380,113.3 380,136.3 361.2,127.9" fill="#e8088a"/>
<path d="M405.1 79.5h0M416.9 87.5h0M428.8 81.4h0M408.7 74.1h0M450.7 86.8h0M415.2 86.4h0M409.3 85.8h0M396.9 76.7h0M394.5 68.9h0M421.9 88.4h0M433.8 89.8h0M433.8 86.9h0M424.6 85.2h0M413.2 77.9h0M435.9 91.2h0M420.1 78.7h0M408.9 86.8h0M453.4 90.9h0M409.2 86.3h0M425.5 90h0M423.5 73.3h0M415.4 58.5h0M398.4 80.7h0M431.5 84.2h0M409.2 78.7h0M413.3 84.5h0M408.8 78.4h0M401.8 81.9h0M416 82.1h0M407.3 82.2h0M413.9 78h0M413 89.5h0M414.4 75.1h0M421.1 68.8h0M401.2 78.7h0M423.5 86.5h0M404.1 68.4h0M406.7 69.1h0M406.8 74.1h0M393.8 85.1h0M397.4 86.9h0M396.2 65.9h0M402.5 67.4h0M403.4 72.5h0M456 88.2h0M404.5 64.3h0M395.8 89h0M418.2 57.6h0M442.3 91.2h0M421.1 89.2h0M411.6 55.6h0M415.5 86.4h0M419 75.6h0M420.4 81.1h0M405.5 90.8h0M449.3 82.5h0M404.8 65.3h0M397.4 78.1h0M436.4 72.8h0M418 79.6h0M400.2 88.4h0M444.1 90.4h0M397.5 81h0M409.8 59.7h0M418.8 87.3h0M399.1 84.5h0M449.5 86.9h0M436.1 83h0M436.8 88.2h0M396.4 75.6h0M396.6 59.2h0M429.5 91h0M417 89.1h0M402.4 81.1h0M424.4 84.9h0M417.1 79.1h0M436.3 87.2h0M440.2 86.1h0M433.8 90h0M445.5 91.7h0M444.9 90.1h0M449 91h0M427.6 90.1h0M406.5 72.4h0M399.5 82.3h0M429.9 90.7h0M427.4 80.9h0M436.5 89.5h0M407.8 51.7h0M443.9 88.6h0M432.6 71.2h0M404.4 77.9h0M424.6 81.3h0M398.2 57.6h0M399.2 67.6h0M418.1 81h0M414.9 89.1h0M461.2 90.4h0M401.7 65.8h0M412.8 58.7h0M393.6 63.8h0M438.8 88.6h0M415.6 83.4h0M422.2 86.3h0M394 87.2h0M401 64.8h0M403.8 87.8h0M405.4 64.1h0M444.4 87.4h0M395.9 80.8h0M462.7 91.1h0M438.4 91.1h0M445.8 89.7h0M440 83.3h0M422.1 59.4h0M427.5 81.9h0M401 62.7h0M403.2 78.5h0M438.1 88.7h0M434 88.1h0M393.1 83.8h0M393.3 80.8h0M427.7 65h0M420.5 69.4h0M397.9 57.2h0M406.8 70.6h0M416.1 86.9h0M425.9 84.8h0M405.3 82.1h0M412 64.3h0M397 70.9h0M463.7 90.7h0M440.9 91h0M434 84.4h0M401.5 69.9h0M405.1 65.1h0M401.5 60.6h0M401.9 75.6h0M406.7 53h0M427.2 87.9h0M394.4 88.6h0M430.5 74.3h0M442.5 78.9h0M440.4 90.2h0M428 78.6h0M402.4 69.8h0M429.9 82.5h0M417.2 61.2h0M402.3 62.7h0M404 63.9h0M396.2 60.2h0M402.8 87.3h0M397.6 71.4h0M395.9 61.6h0M429.7 90.1h0M425.7 86.6h0M413.1 55h0M396.3 86h0M395.6 88.4h0M417.9 68.6h0M396.8 86.8h0M425 62.1h0M409.3 88.8h0M411.9 79.9h0M442.4 86.8h0M404.1 64.3h0M405.7 63.5h0M402.5 57.2h0M453.5 91.6h0M444.8 91.4h0M408.9 85.6h0M419.3 73.7h0M427.4 76.1h0M394.7 73.3h0M397.3 82.6h0M458.8 90.1h0M414 71.1h0M397.5 69.4h0M441.9 83.3h0M398.1 76.6h0M411.8 71.4h0M404.4 86.3h0M411 56.3h0M422.9 77.4h0M399.8 66.7h0M423.6 90.4h0M395.6 75.7h0M450.6 90.3h0M460.5 90.9h0M417.5 89h0M408.4 88.8h0M395.5 75.9h0M430.7 77h0M401.1 55.4h0M399.9 68.2h0M403.6 89.9h0M400.6 76h0M456.6 90.9h0M413.6 70.9h0M419.9 78.9h0M425.2 62h0M393.5 66.4h0M427.8 87.8h0M396 62h0M442.8 83.9h0M405.3 54.5h0M408.6 69.4h0M423.7 79.6h0M426.9 59.8h0M412.9 80h0M459.1 92h0M397.7 76h0M415 72.6h0M418.2 90.2h0M407.4 78.5h0M397 65.1h0M395.1 65h0M396.9 84h0M394.5 88.4h0M424.6 91h0M438.5 90.4h0M409.7 67.2h0M402.2 81.9h0M401.3 67.1h0M426.4 88.7h0M417.2 86.7h0M428.6 85.3h0M407.3 77.3h0M408.7 72.5h0M397.6 66.7h0M411 71.2h0M465.5 92.2h0M393.3 72.9h0M412.9 84.7h0M407.4 75.5h0M431.6 83.6h0M401.1 82.4h0M403.8 75.2h0M417.3 83.6h0M409.5 65h0M415.5 82.9h0M406.4 71.7h0M437.9 83.7h0M399.8 58.9h0M399.5 90.4h0M410.3 79.3h0M406.9 80.4h0M401 78.1h0M403.6 81.9h0M395.6 77.9h0M405 78.8h0M425.6 60.4h0M430.2 85.4h0M421 70.6h0M442 91h0M429.5 84.4h0M395 63.6h0M404 89.3h0M409.5 79.9h0M433.1 90.8h0M444.7 91.5h0M411.9 86.3h0M410.9 81.9h0M399.6 77.9h0M396.8 85.5h0M428.3 88.4h0M453.1 91.1h0M407.2 87.7h0M408.4 69.3h0M438 73.1h0M459.4 92h0M423 90.9h0M412.9 75.3h0M408.5 69.9h0M415 54.6h0M397.6 78.9h0M397.3 78.8h0M460.4 92h0M395.9 75.4h0M396.4 62.8h0M400.5 74.5h0M431.6 89.9h0M415.3 87.6h0M417.4 81.9h0M393.2 78h0M397.7 82.6h0M394.5 68h0M402.7 69.4h0M435.8 82.1h0M393.8 61.8h0M407.7 58.3h0M441.5 82.4h0M418.3 77.2h0M421.2 81.6h0M440.3 91.6h0M405.5 86.1h0M394.3 84.5h0M404.8 68.5h0M399.3 81.6h0M406.3 62.6h0M412.3 80.3h0M401.2 56.2h0M421.9 80h0M410.5 60.1h0M395.6 85.5h0M401.5 75.3h0M450.1 91.2h0M402.7 90.6h0M399.6 88.2h0M433.3 91.1h0M404.4 79.2h0M410 67.6h0M402.2 85.1h0M410.2 73.2h0M427.3 90.6h0M428.9 84.6h0M405.5 83.8h0M457.3 91.3h0M395.1 63.7h0M410.8 86.2h0M428.8 89.7h0M393.4 65.2h0M402.3 65.8h0M404.4 85.1h0M419.5 86.5h0M399 61.8h0M397.4 87.2h0M412.5 61.1h0M415.3 60.9h0M404.9 70.2h0M410.3 70.1h0M431.7 90h0M397.4 87.5h0M459.5 85.8h0M411.4 73.2h0M426.8 87.7h0M424.1 88.5h0M395.5 89.4h0M395.6 78.4h0M412.9 86.2h0M414.1 83.3h0M417.7 69.8h0M433.9 90.4h0M403 70.4h0M447 88.4h0M399.4 56.7h0M395 84.6h0M411.6 83.7h0M416.7 82.7h0M394.1 66.7h0M402.3 86.4h0M410.8 68.7h0M410.2 53.3h0M447 85.1h0M411.1 90.4h0M407 63.8h0M440.5 83.5h0M394 80.7h0M411.5 77.3h0M423.9 72.2h0M421 84.9h0M420.1 77.7h0M409.4 90.6h0M407.9 78.5h0M402.8 67h0M418.3 87.4h0M419.5 71.7h0M422.2 83.8h0M417.1 72.1h0M438.7 90.6h0M393.6 59.7h0M401.1 89.2h0M400.2 87.5h0M420.4 84h0M408.5 76.2h0M408.4 81.4h0M416.7 60.9h0M397 74.4h0M409.7 70.9h0M398.5 68h0M408.2 84h0M427.5 82.3h0M426.6 90.7h0M414 83.3h0M419.8 91.3h0M393.8 84.5h0M394.1 71.1h0M434.7 91h0M395.9 73.6h0M397.2 74.3h0M393.9 64.2h0M457.6 88.1h0M393.4 68.2h0M428.1 90.2h0M453.2 88.1h0M418.4 65.8h0M393.2 89.3h0M401 88.2h0M393.3 67.5h0M419.6 63.2h0M427.8 81.5h0M413.8 87.4h0M397.8 59h0M411.1 85.4h0M421.8 80.2h0M457.5 90.9h0M401.3 83.3h0M406.2 78.7h0M393.5 71.3h0M406.2 70.7h0M402.9 61.7h0M394 87.4h0M407.7 57.7h0M414.5 62.1h0M422.4 79.5h0M417.6 78.7h0M449.5 91.1h0M461.5 91.5h0M406.9 80.9h0M395.2 86.8h0M430.5 82.3h0M402.7 90h0M408.2 86.3h0M403.6 87h0M397.9 85.4h0M439.3 86.2h0M398.6 75.6h0M427.4 65.1h0M409.3 79.7h0M412 86.9h0M400 72.7h0M423 85.3h0M417.9 88.1h0M415.1 80h0M434.6 87.2h0M419.5 79.4h0M420.1 86.4h0M407.1 70.2h0M421.9 82.7h0M402.7 55h0M414 63.4h0M394.4 59.7h0M415 61.8h0M400.8 81.4h0M420.6 85.1h0M412.7 86h0M434.9 82.1h0M397.1 86.8h0M434.6 88.7h0M396.6 64.2h0M412.3 85.5h0M409.8 87.6h0M396.7 61.2h0M411.4 62.2h0M419.6 89.1h0M396.1 59.1h0M403.8 64.3h0M411.3 75.4h0M454.4 89.1h0M399.9 55.6h0M409.9 83.2h0M404.5 76.3h0M394.8 67.8h0M406.6 89h0M404.1 87h0M426 81.1h0M424 85h0M439 87.8h0M394.4 69.2h0M463.7 91.9h0M420.9 67.6h0M420.5 69.6h0M424.3 90.2h0M457.1 91.7h0M431.1 64.4h0M417.8 82h0M459 91.1h0M418.1 75.2h0M422.5 80.7h0M418.5 84.5h0M417.7 89.1h0M441.2 90.3h0M394.7 85.2h0M402.4 73.6h0M421.4 49.3h0M438.6 84.6h0M396.9 71.2h0M425.5 81.4h0M409 82.1h0M398.9 61.9h0M405.7 88.8h0M421.8 85.1h0M408.4 83.3h0M437.5 87.7h0M420.2 83.9h0M411 82.6h0M427.5 88.5h0M421.7 80.8h0M437.4 86.2h0M426.4 56.1h0M411.5 69h0M422 56.9h0M404.7 77h0M429.9 90.6h0M405.6 87.6h0M416 76.5h0M442.5 83.2h0M405.2 61.4h0M395.9 65h0M404.2 67.4h0M416.7 88.2h0M423.8 83.1h0M430.6 78.3h0M410.2 85.6h0M394.2 69.1h0M401 79.4h0M418.8 87h0M405.2 75.2h0M438.6 78.5h0M410.6 86.7h0M401 75.7h0M435 90.2h0M438.1 89.2h0M445.9 85.2h0M394.3 76.5h0M396.9 82h0M402.9 86.7h0M444.5 88.1h0M431.6 89.5h0M467 91.4h0M405 71.3h0M433.9 87.5h0M427.4 88.6h0M395.8 83.2h0M416.9 74.6h0M412.8 85.2h0M402.2 85.6h0M423.3 54.6h0M405.3 80.1h0M398.9 81.8h0M427.8 91.2h0M403.3 65.7h0M398.4 90h0M450.9 87.2h0M396.3 67.6h0M438.9 85.5h0M453.5 91.8h0M424.3 82.3h0M401 87.2h0M411.3 79.1h0M403.3 79.3h0M402.1 61.5h0M409.9 76.1h0M416.2 78.7h0M397.3 70.2h0M415.1 86.8h0M396.4 60h0M414 90.9h0M407.6 78.9h0M420.9 78.4h0M394.9 74h0M426.6 88.1h0M402.3 66h0M413 80.8h0M429.5 85.6h0M445.9 87.4h0M406 87h0M411.6 76.6h0M419 86.2h0M435.8 86.4h0M398 74.7h0M421.6 87.4h0M399.2 79.3h0M443.5 78h0M423 87.7h0M394.7 74.1h0M451.2 90.6h0M399.7 64h0M461.8 89.4h0M432.3 73h0M438.6 88.4h0M399.9 83.2h0M428.2 82.4h0M404.2 86.6h0M410.8 52.5h0M458.9 90.9h0M430.7 82h0M423 87h0M412.7 70.3h0M396.5 58h0M425.6 87.9h0M393.1 84.2h0M416 63.8h0M400.9 84.6h0M440.1 91.3h0M440.5 88.6h0M394.9 65h0M395.9 63.3h0M422.4 83.3h0M419.1 84.5h0M409.5 86.5h0M403.3 73.3h0M400 72.3h0M395.6 69.7h0M401.3 90.4h0M396.9 77.7h0M395.1 63.9h0M407.5 73.8h0M401.7 55.8h0M424.9 86.3h0M398.2 58.7h0M403.7 85.6h0M414.7 90.7h0M404.1 82h0M448.8 80.3h0M420.6 88.8h0M424.2 78.9h0M465.8 92.1h0M417.1 82.9h0M426.5 85.9h0M394.8 84.3h0M398.3 56.4h0M415.9 89.4h0M399.2 79.9h0M407.4 85.6h0M420.9 82.4h0M465.9 89.4h0M423.4 66.7h0M434.7 88.1h0M394.7 82.8h0M424.4 81.4h0M397.9 66.1h0M448.8 87.2h0M403.7 71.5h0M397.1 61.4h0M423.1 82.4h0M443.1 89.2h0M393.5 60.5h0M444 80.3h0M452.8 90.9h0M422.1 69h0M428.4 90.2h0M408.8 85.3h0M411.4 89.3h0M405 58.8h0M398.1 74.8h0M431.8 91.2h0M444.5 91.6h0M402.2 80.8h0M405.9 87.2h0M429.3 76.3h0M398.1 77.8h0M395.3 58.6h0M408 82.7h0M420.7 69.8h0M435.9 87h0M396.7 79.7h0M466.6 91.9h0M394.6 60.1h0M426.3 88.8h0M397.6 63.8h0M395.9 71.9h0M397.3 73.6h0M394.7 84.9h0M439.5 89.1h0M394 84.4h0M408.2 74.8h0M411.9 73.7h0M435 88.6h0M406.4 54.1h0M414.5 80.3h0M466.2 91.4h0M406.2 75.4h0M417.1 78.9h0M394.2 70.4h0M416.4 69.3h0M430 84.7h0M429.4 84.6h0M408.1 86.7h0M444.4 83.4h0M423.4 85.3h0M410.9 70.3h0M410.5 90.6h0M395.7 78.9h0M416.4 90.5h0M417.5 84.5h0M424.6 88.5h0M402.8 87.2h0M435.3 90.6h0M463.5 89.1h0M407.4 70.7h0M416.5 88.2h0M433.5 78h0M426.6 64.3h0M444.4 90.8h0M421.3 87.3h0M396.2 62.4h0M444.9 85.2h0M449.5 91.4h0M394.4 85.8h0M406.1 79.5h0M404 54.3h0M422.9 88h0M451 90.3h0M397.6 82h0M396.5 64h0M402.6 90.3h0M404.3 73.1h0M429.3 90.6h0M394.9 81.3h0M426.8 59.5h0M435.9 85.5h0M423.9 74.2h0M421.7 87.8h0M426.9 85.2h0M401.1 89.1h0M394.5 75.6h0M431 78.1h0M399.4 85.3h0M405.1 63.9h0M441.3 88.8h0M395.3 70.4h0M410.2 84.3h0M398.2 63.4h0M426.4 65.1h0M400.8 63.2h0M436.4 85.1h0M444.7 85.2h0M405.9 79.3h0M455.2 90.2h0M455.8 90.5h0M427.1 53.1h0M397.4 82.2h0M394.6 70.4h0M401 74.8h0M403.9 66.9h0M408.6 86.3h0M410.3 67.3h0M406.4 85.1h0M397.7 65.2h0M421.4 71.5h0M412.8 82.4h0M398.8 89.5h0M404.7 61.8h0M418.4 84.5h0M394.5 66.6h0M417.3 85.5h0M427.5 78h0M408 81.9h0M411.7 63.6h0M396.6 73.2h0M436.9 90.1h0M405.7 72.4h0M441.7 77.1h0M399.9 73.7h0M437.4 81h0M409.1 74.3h0M397 87.6h0M431.3 83.1h0M428 70h0M397.6 63.4h0M398.2 65.7h0M439.5 91.4h0M427.7 80.4h0M404.2 60.1h0M430.1 66.8h0M398 78.8h0M435.7 91.5h0M409.9 89.6h0M433.5 90.3h0M434.7 82.4h0M422.2 86.2h0M425.6 84.4h0M399 77.1h0M423.6 85.1h0M400.7 88.9h0M445.8 89.7h0M420.7 88.1h0M412.8 57.8h0M398.1 56.2h0M407 80.9h0M401.7 73.3h0M421.4 85.8h0M398.4 69.2h0M396.2 77.5h0M418.4 88.5h0M398.4 89.9h0M398 74.4h0M393.9 67.4h0M394.6 77.7h0M400.6 62.8h0M427.3 86.4h0M397.2 68h0M407.7 86.9h0M420.8 88h0M465.8 90.2h0M411 67.1h0M444.2 91h0M417.5 73.9h0M414.6 91.2h0M430 87.4h0M401.7 90.4h0M417.1 90.5h0M397.6 79.2h0M414.2 68h0M400.5 59.6h0M423.5 89.8h0M430.5 91.4h0M403.6 79.5h0M423.4 88.3h0M433.4 87.6h0M408.1 67.6h0M455 89.3h0M400.8 80.1h0M403.3 55.2h0M412.5 88.6h0M397 90h0M424.7 84.3h0M401.7 73h0M449.5 91.5h0M430.6 83.6h0M453.5 90.6h0M410.5 78.5h0M395.2 73.6h0M403.7 89.5h0M401 59.9h0M397.7 62.9h0M410.3 78.1h0M418 84.8h0M422 78.9h0M417.4 50.4h0M428.8 84.6h0M408.7 62.9h0M393.1 81.2h0M430.9 83h0M416.7 67.4h0M404.2 58.4h0M395.1 78.5h0M405 75.1h0M399 89.1h0M433.7 76.4h0M400.4 76.7h0M448.2 91.4h0M409.1 78.9h0M398.1 77.5h0M401.3 73.5h0M397.4 68.9h0M437.5 86h0M412.1 82.5h0M395.2 69.3h0M393.2 58.4h0M440.6 91.4h0M458.9 91.6h0M419.1 79.1h0M394.4 87.2h0M426.2 87.9h0M406.3 89.6h0M434.1 87.6h0M430 87.3h0M421.6 72.3h0M403.4 76.2h0M437.5 86.9h0M407.1 69.2h0M416.1 86.7h0M395.7 65.8h0M432.8 81.4h0M419.4 85.7h0M404.4 83.7h0M428.2 91.1h0M430.6 88.5h0M421.8 85.7h0M398.9 89.4h0M403.5 77.1h0M409.4 87.4h0M445.4 85.3h0M443.1 88.8h0M421.5 87.1h0M417.5 67h0M442.7 87.7h0M449.1 88.8h0M396.8 60.4h0M416.3 49.3h0M425.6 89.1h0M403.2 87.1h0M406.9 54.1h0M413.5 60.1h0M416.8 64.3h0M423.3 89.6h0M442.5 87h0M417 90.6h0M426 90.7h0M451.5 90.2h0M412.8 77.9h0M429.4 71.2h0M393.3 63.3h0M450.6 86.7h0M415.5 89.4h0M435.6 83.5h0M420.7 88.2h0M438.9 88.6h0M402.7 84.7h0M393.7 60h0M398.5 78.3h0M418.3 74.1h0M409.2 68h0M423.8 85.6h0M431.7 86.5h0M410.1 79.4h0M397 56.9h0M421.3 73h0M402 84.2h0M427.4 62.1h0M424.4 73.5h0M422.5 90h0M442.2 81.7h0M408.3 87.5h0M405.7 85.5h0M422.9 79.7h0M431.8 89.1h0M419.1 62.5h0M408.3 74.6h0M416.8 71.8h0M408.8 90.8h0M414.8 58.4h0M409.9 87.6h0M458.8 90.9h0M424.8 68.7h0M399.6 82.1h0M407.5 68.5h0M406.6 72.2h0M420.6 73.9h0M418.3 63.8h0M419.8 84.8h0M428.6 69h0M401.5 55.2h0M397.1 88.7h0M420.4 90.3h0M397.6 78.9h0M404.3 70.5h0M407.7 56.9h0M462.1 89h0M430.1 73.1h0M415.2 65.1h0M410.8 73.6h0M403.7 67.3h0M410.4 80.8h0M397.7 58.5h0M409 86.8h0M412.4 56.5h0M400.2 72.5h0M438.8 91h0M397.6 86.3h0M401.7 89.4h0M432.5 90.9h0M408.1 89.5h0M402.1 58.3h0M417.5 88.8h0M423.6 85.2h0M415.3 76.1h0M437.1 91.3h0M396.2 58.3h0M444.7 91.3h0M430.5 90.4h0M436.7 90.9h0M418.2 84.8h0M433.5 88.2h0M405.8 60.3h0M406.3 79.4h0M424.3 87.1h0M416.8 80.6h0M405.6 88.8h0M434.8 89.4h0M402.1 80h0M404.9 65h0M427.6 73.5h0M405 77h0M403.9 77.2h0M403.6 85.5h0M402.4 81.2h0M398.8 78.3h0M400.8 83.8h0M436.7 90.1h0M407.9 79.2h0M463.4 92.2h0M404.6 57.4h0M409.1 80.7h0M411.8 89h0M399.3 59.9h0M395.5 58.2h0M448 89.5h0M429.2 71.6h0M421 89h0M400.1 81.3h0M398.2 85.8h0M396.7 62.6h0M393.6 85h0M395.8 68.6h0M398.4 86.5h0M444.4 90.9h0M411.6 85h0M411 67.2h0M431.1 81.9h0M412.9 84.6h0M442.5 85.6h0M402.3 78.3h0M395.3 74.8h0M413.5 59.7h0M446.5 90.4h0M423 90.2h0M422.3 85.9h0M446.2 82.6h0M402.3 74h0M395.3 63.7h0M409.7 88.4h0M406.5 57.3h0M413.7 80.2h0M402.5 69.9h0M419.7 68.8h0M419.9 80.2h0M412.8 82.4h0M415.3 89.8h0M427.6 73h0M435.8 87.8h0M439.4 90.5h0M444.1 87.9h0M407.3 85.5h0M405.2 88.5h0M394.9 64.3h0M424.6 90.4h0M423 88h0M438 88.6h0M439.4 84.4h0M426.2 89.3h0M411 90.6h0M436 84.2h0M400.6 70.7h0M411.4 70.8h0M396.6 60.9h0M408 85.3h0M393.7 68.9h0M428.6 82.9h0M423.9 79.4h0M400.9 73.3h0M424 80.5h0M437.2 84.9h0M394.4 67.2h0M462.6 91.4h0M406.2 87.6h0M434.2 84.5h0M397.1 80.7h0M428.8 85.7h0M403.1 63.2h0M403.3 76.5h0M417.8 80.2h0M410.9 82.2h0M450 91.6h0M422.3 89.7h0M395.4 62.5h0M397.4 65.1h0M422.8 70.8h0M444.6 86.1h0M394.8 89.6h0M408 88.3h0M447.2 84.4h0M407.1 67.2h0M399.4 58.1h0M415.2 90.7h0M404.6 72.9h0M423 90.3h0M427.7 68.9h0M398.7 58.2h0M430.6 83.6h0M400.8 80.9h0M397.6 66.5h0M424.6 66.6h0M405.5 79.7h0M396.2 85.4h0M428 59.2h0M427.1 82h0M440.1 89.5h0M397.3 57.3h0M426.1 87h0M449.7 86h0M399.3 82h0M407.6 86.6h0M404.9 62.1h0M463.4 90.9h0M414.2 55.1h0M439.8 78.8h0M406.4 84.7h0M430 83.4h0M413.6 60.9h0M433.3 81.2h0M396.5 60.1h0M393.5 70.5h0M404.2 80.1h0M400 73.5h0M445 88.8h0M446.2 90.7h0M395.9 82.7h0M400.7 72.7h0M419.3 87.9h0M405.1 88.9h0M459 90.7h0M396.9 71.3h0M424.7 74h0M406.3 78.1h0M415.9 58.5h0M406.1 89h0M441.6 90.7h0M430.6 78.5h0M445.2 87.5h0M447.9 89.3h0M398.6 74.9h0M400.5 81.2h0M407.7 77.3h0M401.3 57.6h0M424.2 88.4h0M454.2 88.7h0M407.6 89.1h0M450.1 91.5h0M449.1 89.9h0M413.2 75.5h0M393.2 70.7h0M424.7 74.8h0M400.5 66.5h0M416.2 70.4h0M401.5 64.6h0M406.5 82.1h0M406.2 62.2h0M401 82.5h0M404.5 90.7h0M395.1 78.3h0M440.4 87h0M436.9 82.9h0M417.2 75.7h0M422.7 79.2h0M422.6 86.2h0M405.1 89.9h0M425.4 70h0M441.5 89.1h0M413 65.2h0M423.2 89h0M434.2 70.8h0M408.3 70.9h0M419.6 81.2h0M412 86h0M407.6 86h0M425.5 87.5h0M394.9 63.6h0M423.5 89.6h0M406.9 75.9h0M430.2 91.4h0M428.7 75.2h0M447.8 83.7h0M414.3 80.4h0M396.4 84.8h0M416.3 84.3h0M424.6 69.2h0M458.5 91.8h0M410.7 90.7h0M416 85.2h0M397.2 87.6h0M400.1 74.6h0M398.9 62.6h0M403.3 78.9h0M402.7 85.4h0M427.1 86.1h0M422.1 88.5h0M397.7 63.5h0M398.4 67.2h0M393.2 80.5h0M409.5 70.3h0M408 60.4h0M445.4 91.3h0M406.5 59.3h0M407.7 84.2h0M393.7 88.1h0M400.6 73.4h0M398.8 67.3h0M401.6 67.2h0M407.6 75.3h0M397.9 80.1h0M394.2 67.9h0M457.3 88.5h0M405 87.7h0M399.8 65.6h0M395.3 59.1h0M415.2 83.2h0M418.7 86.1h0M414.7 56.4h0M446.8 91.4h0M466.5 91.3h0M406 87.7h0M411.1 91h0M415.5 82.3h0M396.2 82.7h0M425.8 79.5h0M399.5 86h0M440.8 83.3h0M412.3 90.3h0M401.7 65.3h0M399.8 82h0M412.8 60.5h0M393.3 76.7h0M429.1 74.8h0M455.3 88.8h0M397.3 66h0M431.1 86.7h0M413.5 83.4h0M413.8 84.5h0M450.8 90.9h0M451.1 90.8h0M444.9 89.3h0M398.5 61.4h0M406.8 86.3h0M405.7 90.2h0M393.4 75.5h0M397.6 69.4h0M397.3 81.6h0M422.1 85.6h0M399.7 75.1h0M399.7 62.3h0M419.1 86.2h0M445.7 91.3h0M415.4 71h0M438 88h0M439 85.1h0M407.5 89.1h0M395.9 88.9h0M430.6 90.3h0M422.5 88.5h0M415.7 64.2h0M422.4 64.7h0M430.1 66.9h0M402.6 74.3h0M397.6 59.5h0M424.2 87.7h0M419.8 72.8h0M395.9 63.5h0M438 88.7h0M413.6 80.8h0M405.6 87.6h0M395 72.5h0M422.3 83.1h0M395.9 74.3h0M396.5 74.8h0M438.2 77.8h0M401.8 73.7h0M425.5 68.1h0M438.8 87.5h0M398.5 76.5h0M402.9 70.2h0M406.9 75.8h0M397.1 67.7h0M404.9 88h0M419.4 56.1h0M450.5 86.6h0M428.3 77.9h0M414.3 87.3h0M432.4 89.6h0M393.6 66.5h0M393.6 75h0M403.8 78.7h0M399.8 87.8h0M416.7 68.4h0M406.9 68.4h0M445.9 81.5h0M413.4 72.9h0M420.1 57.7h0M406.9 52.5h0M410.7 81.1h0M399.1 62.5h0M398 58.3h0M402.3 68.4h0M408.5 55.5h0M394.2 77h0M395.7 67.4h0M398.4 77.9h0M399 85.9h0M449 91.7h0M403.1 90.4h0M395.4 77.8h0M414.5 83.5h0M436.8 89.5h0M439.8 90.5h0M404 69.4h0M445.4 89.7h0M408.7 86.9h0M466.1 92.2h0M434.2 91h0M436.8 79.6h0M420.2 81.3h0M394.5 63.9h0M431.5 89.8h0M436.3 91h0M399.2 84.8h0M403.5 70.7h0M414.2 85.2h0M395.5 88.1h0M421 89h0M454.1 87.9h0M414.8 83h0M409.5 69.4h0M401.3 74.1h0M395.2 68.3h0M434.8 87.8h0M412.6 91.1h0M416.9 69.1h0M408.8 69.9h0M397.7 69.1h0M429.9 88.1h0M403 78.3h0M429.6 88.6h0M411.9 85.8h0M396.1 60.8h0M434 81.7h0M396.1 61.4h0M404.2 78.5h0M394.6 80.7h0M397.2 65.3h0M411.1 62.8h0M407 83.4h0M433.2 86.3h0M448.4 87h0M405.6 82.7h0M437.3 91.4h0M394.9 83.2h0M403.1 88.8h0M424.7 86.4h0M420.1 83.5h0M425.3 88.9h0M426.5 87.2h0M428.9 90h0M410.9 66.5h0M401 75h0M406.2 58.9h0M395.6 67.8h0M452.2 89.5h0M399.7 68h0M424.9 80.6h0M432.2 84.9h0M407.4 90.6h0M420.1 87.1h0M403.3 80.3h0M400.7 76.9h0M427 75.3h0M402.2 87.6h0M443.4 87.7h0M407.7 87.1h0M406.3 83.9h0M423.9 90.3h0M425.9 89.6h0M397.8 89.8h0M447.8 89h0M395.6 75.2h0M413.8 84.1h0M428.5 89.2h0M433.6 80.8h0M419.8 64.6h0M410.6 79.1h0M440.7 90.5h0M395 81.7h0M441.4 81.7h0M426 71.3h0M403.8 59.4h0M420 84h0M394.7 64h0M405.3 67h0M428.3 80.1h0M420.6 74.2h0M457.3 85.5h0M421.9 85.9h0M407.8 56.1h0M393.2 62.5h0M410.5 86.3h0M412.6 84.6h0M406.8 88.3h0M414.2 90.5h0M400.8 83.1h0M423.4 79.4h0M403.1 79.2h0M432.2 85.9h0M422.6 82h0M409.9 63.6h0M458.2 91.8h0M424.1 90.3h0M415.6 88.1h0M411 51.9h0M406.5 83.6h0M408.7 67.2h0M402.5 57.9h0M414.6 74.1h0M436.4 87.1h0M413 84.5h0M416.8 90.7h0M428.2 82.2h0M427.1 64.2h0M405 88.4h0M399.7 90.4h0M401.4 59.1h0M393.9 73.5h0M399.1 85.7h0M394.2 79.2h0M443 80.5h0M419.5 51.1h0M413.7 72.8h0M429 60.3h0M393.5 65.4h0M410.1 80.1h0M424.4 90.7h0M427.7 85.7h0M420.6 81.2h0M426.8 84.1h0M436.2 90.7h0M397.4 68.2h0M435.8 90.5h0M399.1 77.3h0M393.6 70.5h0M395.6 65.8h0M416.2 88h0M440.8 84.4h0M398.1 87.3h0M430.4 82.6h0M395.5 86.7h0M394.6 69.7h0M422.6 80.4h0M401.1 64.3h0M404.9 88.2h0M409.9 89.8h0M399.2 68.5h0M405.3 57.2h0M412.9 72.1h0M393.7 58.5h0M429.4 76.1h0M425.9 87.6h0M405.8 56.2h0M401.8 89.5h0M414.6 58.9h0M407 75.7h0M400.5 72.5h0M421 76.3h0M437.7 90.1h0M403.7 61.9h0M395.6 79h0M424.7 71h0M420.1 70.8h0M421.2 87.9h0M396.7 71.6h0M399.7 76.2h0M396.2 89.1h0M397.1 81.3h0M405.6 58.5h0M417.1 89.1h0M410.5 57.5h0M411.4 82.4h0M430 80.7h0M424.6 71.9h0M394.6 89.2h0M393.8 83.1h0M410.9 88.6h0M399.7 80.7h0M401.9 90.4h0M448 91.5h0M454.6 88.5h0M395 58.1h0M396.9 81.4h0M426.2 90h0M415.2 84h0M418.8 84.2h0M410.6 90.3h0M394.3 61.8h0M464.3 91h0M410.8 59.6h0M398.5 79.5h0M426.9 82.2h0M413.9 72.8h0M444.2 87h0M464.7 90.4h0M405.7 84.5h0M431 81.9h0M400.6 71.6h0M417.5 63.7h0M402.3 62.5h0M433.8 90.8h0M411.9 71.5h0M447.1 90.7h0M441.8 88.6h0M413.7 56.9h0M421.4 89.6h0M410.8 88.8h0M435.7 87h0M400.5 62.1h0M405.8 74.6h0M425.1 91.2h0M424.6 85.5h0M414.3 69.6h0M415.4 72.1h0M444.7 88.4h0M410 77.3h0M423 84.7h0M417.9 64.6h0M398.9 87.9h0M413.2 85.4h0M393.2 61.8h0M407.4 75.8h0M399.1 63.8h0M412.2 87.1h0M453.6 85.5h0M394.6 87.2h0M458.5 89.5h0M418.8 90.8h0M418.7 66.9h0M450.8 87.4h0M416 85.1h0M401.1 58.1h0M448.8 91h0M403.1 86h0M395.5 88.4h0M404.1 76.2h0M403.1 85.3h0M402.9 67.2h0M411.9 69.6h0M417 73h0M415 91.2h0M418.9 82.2h0M428 78.7h0M396 81.6h0M435.9 91.3h0M400 55.5h0M421.8 84.4h0M409.2 68.3h0M393.8 63.2h0M403 89.3h0M427 80.2h0M427.7 83.9h0M416.1 87.6h0M415.3 90.8h0M412.8 53.4h0M415.3 60.4h0M405.5 72.5h0M414.8 71.9h0M411.7 90.6h0M399.3 72.6h0M399.8 71h0M426.1 81.2h0M411.5 87.9h0M417.6 78.3h0M412 79.3h0M416.8 58.1h0M407.4 82.5h0M402.1 56.8h0M404 83.7h0M413 62.4h0M416.7 74.1h0M412.6 60.8h0M425 83.1h0M412.2 57.9h0M414.7 87h0M466 89.6h0M425.7 76.8h0M451.4 91.1h0M407 78.8h0M420.5 73.6h0M419.5 85.8h0M418.2 83.3h0M406.4 88.7h0M432.6 89.3h0M401.8 80.6h0M464.9 90.1h0M415.5 86h0M401.1 71.4h0M425.4 86.2h0M394.7 75.3h0M403 73h0M415.9 90.7h0M420.9 76.4h0M419 88.3h0M418.3 68.6h0M410.4 89.6h0M425.5 79.5h0M432.3 80.9h0M456.4 91.1h0M411.9 83.8h0M413.5 77.9h0M434.9 70.8h0M412.2 71.5h0M422.9 84.1h0M425 90h0M406.4 59.4h0M400.9 59.3h0M416.9 80.8h0M436.5 83.3h0M422.3 67.6h0M397.5 57.6h0M414.5 87.9h0M423.3 76.5h0M426.5 90.5h0M442 89.9h0M432.9 87.7h0M433.1 79.3h0M402.8 85h0M406.7 84.3h0M424.5 70h0M430.6 82.3h0M439 90.8h0M417.6 68.5h0M426.5 80.1h0M403.7 81.6h0M424.1 88.1h0M398.8 68.8h0M395.5 76.8h0M393.5 85.2h0M417.1 73.5h0M400.9 59h0M431.5 90.5h0M456.3 89.9h0M394.8 86h0M439.4 86h0M401.7 70.6h0M415.8 86.8h0M433.3 75.1h0M396.7 84.9h0M394.1 73.8h0M410.4 69.7h0M405.9 58.2h0M425.2 60.5h0M411.5 65.4h0M398.4 83.7h0M408.2 53.4h0M416.4 76.1h0M400.1 84.2h0M412.7 84.1h0M413.7 83.3h0M412.6 89.5h0M406.9 72.2h0M417.3 83.3h0M439.9 91.6h0M462.8 88.9h0M398.6 69.3h0M410.9 84.7h0M410.5 83.1h0M393.9 60.5h0M412.9 90.3h0M417.9 49.4h0M419.6 76h0M450 87.4h0M425.7 90.6h0M396.9 71.6h0M427 89.5h0M393.8 69.8h0M397.4 89.7h0M402 60.3h0M395.4 71.7h0M446.1 89h0M411 85.3h0M403 56h0M404.8 53.6h0M433.4 71.5h0M423.3 90.6h0M460.6 88.2h0M402.9 63h0M396.8 77.9h0M406.8 89.6h0M393.1 78.9h0M395.9 81.5h0M403.8 75.6h0M395.4 68.7h0M462 90.3h0M434.1 86.2h0M424.7 76.8h0M413.2 75.5h0M423.3 87.4h0M428.9 79.4h0M410.5 63.1h0M432 87.4h0M457.2 91.2h0M415.8 81.5h0M404.3 79.8h0M406.9 52.3h0M398.5 71.9h0M412.6 75.6h0M438.7 88.8h0M447.8 87.2h0M433.2 69.9h0M399.4 87.2h0M440.3 84.6h0M403.7 90.3h0M431.5 90.2h0M394.3 67.3h0M441.9 89.8h0M396.4 85.2h0M418.3 54.6h0M418.9 89.6h0M452.2 91.7h0M410.3 75.3h0M416.3 89.4h0M394.1 58.2h0M395 83.1h0M434.6 86.8h0M405.7 56.9h0M418.7 90.9h0M443.1 89.2h0M402.8 81.1h0M413.2 81.4h0M427.7 84.9h0M398.9 85h0M406.7 84.6h0M416.6 87.1h0M395.9 61.2h0M400.6 56.3h0M393.3 77.1h0M397.8 89.4h0M451.3 90.2h0M401.8 75.2h0M431.1 86.2h0M431.9 79.5h0M421.7 85h0M401.8 82.3h0M418 83.4h0M394.7 65h0M440.4 86.6h0M422.8 84.2h0M428.6 78.1h0M409.9 79.2h0M445.4 82.3h0M399 83.8h0M446.2 84.3h0M399.1 87.1h0M449.8 90.2h0M395.2 81h0M453.5 86.5h0M413.4 70.8h0M429.1 83.4h0M394.7 71.4h0M411.4 89.3h0M415.9 74h0M416.8 77h0M423.5 73.1h0M429.5 87.1h0M462.7 91.6h0M437 87.1h0M448.8 88.7h0M399.4 76.1h0M429.3 77.2h0M403.3 84.6h0M448.4 90h0M415.1 54.7h0M418.3 71.8h0M403 82.6h0M401.6 85.4h0M414.4 71.1h0M400.6 64.4h0M402.1 57.2h0M394.4 67.6h0M403.7 89.8h0M439.3 91.6h0M412.3 57.5h0M398.6 61.1h0M410.6 82.4h0M426.4 86.9h0M409.9 64.8h0M400.4 63.5h0M440.7 91.1h0M419.1 74h0M438.2 80.9h0M403.6 60.9h0M433.8 83.3h0M406.5 55.4h0M403 89h0M423.1 79.4h0M422.7 79.3h0M395.3 64.5h0M409.1 84.3h0M429.3 82.1h0M408.9 61.4h0M405.6 85.3h0M411.6 74.7h0M415.4 71.5h0M420.4 62.2h0M403.8 69.4h0M414.1 68.1h0M418.8 81.2h0M402.1 84.7h0M439.3 86.4h0M402.1 54.9h0M420.1 79.3h0M394.4 86.1h0M444.4 91h0M424.5 90.8h0M428.9 73h0M400.1 66.1h0M446.3 88.3h0M426.7 85.2h0M441.8 89.2h0M405.6 53.3h0M442.6 88.2h0M447.2 90.3h0M404.4 64.7h0M408.3 56.9h0M409.6 67.7h0M393.6 72.1h0M403 78.2h0M403.3 59.3h0M405 76.9h0M393.6 70.9h0M413.9 88.4h0M394.5 79.8h0M403 59.8h0M432.9 83.9h0M436.2 78.6h0M398.5 57.8h0M420.2 78.4h0M432 85.8h0M441.1 89.9h0M413.4 90.7h0M405.6 75.9h0M461.7 90.7h0M398 59.5h0M398.7 58.4h0M400.9 80h0M402.6 61.1h0M443.8 88.4h0M400.3 89.3h0M397.9 85.6h0M397 75.9h0M413.8 52.6h0M418.5 65.1h0M405.7 65.4h0M431.7 89.7h0M398.5 60.7h0M426 83.2h0M437.2 86.9h0M409.6 87.5h0M404.5 54.2h0M400.9 60.1h0M398.5 77.5h0M401.2 78h0M425.7 81.6h0M394.8 78.4h0M396.4 74.3h0M439.4 88.6h0M405 59.3h0M408.4 58.8h0M424.9 71.3h0M404.6 87h0M395.4 83.8h0M418 90.5h0M416.8 58.2h0M397.5 82.3h0M429.2 89.4h0M444.9 81.5h0M420.2 82.4h0M419 75.3h0M430.3 56.9h0M417.3 86.1h0M435.1 86.4h0M393.3 78.6h0M393 70.9h0M393.4 84.6h0M423.2 72.5h0M405.6 64h0M461.6 88.2h0M430 88.3h0M402.1 82.7h0M448.8 82.4h0M409.1 81.5h0M407.1 84.4h0M394.7 88.2h0M453.8 91.9h0M399.4 70.1h0M415.2 81.4h0M429.8 86.3h0M397.2 64.7h0M410.3 77.8h0M404.4 78.5h0M443.4 88.2h0M422.4 62.5h0M418.8 76.9h0M395.5 78.5h0M411.7 81.8h0M430 80h0M413.9 87.6h0M429.5 90.8h0M421.7 70.6h0M410.3 84.6h0M397.7 81.4h0M415 52.8h0M417.8 87.5h0M413.1 79.1h0M427.5 76.7h0M407.3 84.3h0M437.2 90.4h0M424.7 69.6h0M443.6 90h0M416.9 83.4h0M405.8 74.9h0M433.2 89.5h0M410.5 81.8h0M423.3 88h0M442.5 81.3h0M411.4 73.7h0M429.4 88.2h0M415.8 76.3h0M415.9 57.3h0M395 70.1h0M438.1 85.3h0M405.1 55.1h0M406.6 60.8h0M414.6 85.7h0M399.6 88.2h0M446.1 90.8h0M423.9 73.3h0M413.5 59.9h0M415.1 49h0M403.1 86.6h0M450.1 91.6h0M425.4 91.1h0M406.7 68.8h0M452.7 89.9h0M401.4 83.2h0M408.9 76h0M394 66.6h0M406.5 63.7h0M400 64.2h0M439.3 85h0M399.4 79.5h0M413 51.8h0M463.2 90.5h0M394.5 65.8h0M402.5 59.1h0M418.1 72.8h0M448.2 85.8h0M394.8 71.4h0M443.8 85.1h0M397.3 83.6h0M395.3 67.3h0M423 85.2h0M410.7 90.4h0M428.3 78.4h0M400.8 82h0M397.1 87.4h0M396.8 70.2h0M407.7 67.3h0M403 87h0M414.4 83.8h0M410 75.7h0M397.9 57.6h0M398.5 68.8h0M395.8 83h0M404.7 75.8h0M430.1 84.6h0M415.5 82.8h0M407.1 88.8h0M411.9 88.4h0M450.6 88.2h0M441.7 86.7h0M410.4 85.7h0M429 88.2h0M406.2 61.7h0M429 85.3h0M423.7 71.8h0M435.7 83.2h0M403.1 63.8h0M399 79.3h0M416.3 79.4h0M434 83.2h0M404 85.5h0M421.2 64.5h0M408.1 65.2h0M422.8 85.1h0M412.6 82.9h0M398 80.2h0M397.9 84.8h0M406.5 62.2h0M427.7 73.5h0M407.4 69.1h0M413.9 63.1h0M407 60.6h0M417.6 73.7h0M401.9 83h0M401.2 73.6h0M449.7 84.9h0M447.9 85.6h0M422.3 74h0M395.7 73.5h0M426.7 87.9h0M400.7 111.4h0M389.2 125.6h0M378.6 116.8h0M392.4 133.7h0M416.4 109h0M388.4 123.6h0M390 123.3h0M404.5 116.6h0M398.7 115.2h0M406.7 109.4h0M404.9 108.3h0M403.6 114.6h0M431.1 106.4h0M408.3 117h0M385.3 133.3h0M391.6 127.6h0M406.2 116.2h0M403 111.9h0M446.6 106.1h0M455.4 108.4h0M399.2 125.9h0M389.2 114.6h0M413.9 115.1h0M388.1 122.2h0M407.5 112.2h0M402.4 125.1h0M398.7 115.8h0M381.1 122.3h0M397.8 135.2h0M446 107.8h0M382 113.8h0M404.8 112.3h0M423.3 111.2h0M385 118.1h0M378.2 123.4h0M380.2 119.8h0M391.5 131.2h0M395.4 117.2h0M388.2 117.9h0M398.7 120.1h0M402.8 113.8h0M406.4 117h0M380.1 116.5h0M449.8 106.3h0M379.1 114.3h0M385.8 123h0M384 131.7h0M395.3 120.2h0M398.7 126.2h0M386.9 113.5h0M387.8 133.8h0M408.3 110.7h0M410.4 118.3h0M386 125.2h0M400.2 121.7h0M442.7 107.4h0M381.9 130.1h0M391.8 139h0M409.2 112.7h0M384.7 112.8h0M446.9 107.3h0M411.2 112.3h0M401.4 113.3h0M460.4 106.7h0M403.1 133.2h0M400.7 133.8h0M397.8 110.4h0M400.2 113.2h0M382.7 127.8h0M395.3 125.3h0M424.3 107.9h0M402.3 110.6h0M455.3 105.9h0M394.3 129.9h0M398.4 115.6h0M389.5 136.2h0M403.7 115.9h0M430.2 105.9h0M411.5 113.6h0M385.3 126.3h0M405 128.4h0M383.1 124.8h0M398.7 136.5h0M381 132.3h0M464.2 106.7h0M448.5 108.8h0M384.7 118h0M418.4 114.2h0M390.2 135.2h0M425.2 106.9h0M421.9 111.5h0M380 120.9h0M401.7 118.1h0M418.1 106.5h0M391.4 125.1h0M392.9 130.8h0M392.4 140h0M448.7 106.1h0M400.7 111.5h0M449.1 106.5h0M457.2 108.8h0M391.8 123.8h0M399.1 110.3h0M381.5 130.1h0M442.3 108.8h0M385 119.2h0M380.8 122.6h0M379.8 119.9h0M408.5 121.7h0M385.1 120.3h0M444 106.4h0M386.5 127.5h0M409.7 120.4h0M391.6 137.9h0M378 115.4h0M404.9 116.2h0M456.6 107.6h0M385.9 127.5h0M380.4 118.7h0M438.8 105.8h0M392.8 112h0M412.9 119h0M391.9 137.6h0M411.8 120.3h0M448.8 107.8h0M394.2 118h0M389.1 125.7h0M381.4 133.9h0M390.9 136.4h0M397.3 133.6h0M414.3 113.5h0M427 105.7h0M413.2 116.2h0M405 112.3h0M389.8 110.5h0M384.4 129h0M391.4 130.4h0M388.4 128.4h0M463.4 107h0M410.8 114.1h0M381.7 116.7h0M390.1 134.6h0M379.7 119.3h0M437.1 107h0M378.1 131.7h0M389.8 128.3h0M379.6 120.5h0M388.2 124.9h0M401.8 114.8h0M388.2 127h0M409.5 107.4h0M398.2 110.1h0M384.7 125.4h0M386.6 122.1h0M393.1 135.6h0M404.3 115.6h0M398 112h0M417.2 115.3h0M386.8 115.3h0M414.1 109h0M386.6 111.6h0M426 108.3h0M404.6 116h0M384 112.8h0M390.8 115.4h0M403.6 116.1h0M414.8 117.5h0M391.9 110.1h0M408.4 114.2h0M395.4 120.6h0M399.1 116h0M383.3 113.6h0M397.9 122.8h0M404.1 112.9h0M402.8 114.1h0M402.1 114.1h0M405.5 114.9h0M381.4 118.5h0M383.6 117.3h0M411.1 113.4h0M407.4 124.8h0M391.8 118.7h0M381.8 124.5h0M384.9 125.9h0M395.1 112.1h0M407.2 114h0M419 109.5h0M392.8 127.9h0M403.3 126.3h0M418.7 111.9h0M442.5 106h0M430.6 112.2h0M385.3 117.8h0M421.5 112.9h0M432.9 108.6h0M420.4 109.4h0M427.4 115.1h0M400.4 121.7h0M380.3 113.2h0M448.3 106.7h0M407.8 121.9h0M404.7 117.1h0M411 118.2h0M378.8 114.9h0M416.8 114.7h0M395.5 121.2h0M420.2 111.4h0M388.3 129.7h0M396.2 112.4h0M405 112.6h0M440 108h0M399.4 115.1h0M432.7 105.7h0M382.8 131.2h0M396.3 119.6h0M398.3 116.3h0M383.3 119.1h0M394.3 120.9h0M435.4 109.7h0M408.4 108.3h0M409.3 116.6h0M388.4 135.7h0M401.5 124.9h0M464.6 106.6h0M390.6 114.4h0M394.4 114.7h0M414.6 116.3h0M382.4 113.3h0M439.5 113.2h0M378.3 132.4h0M381.1 117.7h0M430.5 109.9h0M424.6 109.6h0M426.7 106.1h0M441.1 105.6h0M393.2 129.7h0M445.2 106.2h0M388 122.3h0M397.7 109.7h0M383 135.3h0M389.4 128.7h0M398.8 123.3h0M388.8 134h0M381.4 122h0M427.4 105.7h0M451.2 107.8h0M393.7 117.8h0M428.4 106.6h0M405.4 112.7h0M407.2 117.6h0M411 112.9h0M444.8 106h0M407.5 110.1h0M441.7 105.9h0M393.1 112.8h0M428.9 110.4h0M398.2 134.3h0M429.6 109.6h0M385.6 119.6h0M396.2 110.5h0M452.7 105.8h0M379.3 131.2h0M393.7 121.4h0M453.1 108.2h0M439.3 106.6h0M459.5 107.2h0M429.5 106.1h0M397.7 116.6h0M385.7 114.4h0M388.9 122.3h0M395.4 126.7h0M402.9 120.4h0M438.3 106.3h0M432.3 107.1h0M448.6 106.3h0M387.3 115.2h0M409 108.7h0M382.8 128.6h0M415.8 107h0M383.1 115h0M386.6 136.8h0M425 107.8h0M381.2 113.5h0M417.9 107.3h0M416.2 107.4h0M396.8 111.4h0M390.6 112.8h0M382.2 128.2h0M421.9 106.5h0M429.9 106.7h0M425.3 107.5h0M446.5 107.7h0M389.6 113.4h0M379.6 135.2h0M390.7 116.5h0M455.7 108.7h0M379.8 115.6h0M409.7 116.2h0M381.5 135.5h0M434.2 105.7h0M399.1 117.2h0M385.7 116.1h0M396.3 117.2h0M395.7 127.5h0M445.1 105.8h0M394.2 129h0M453.9 106.7h0M394.7 115.2h0M386.6 125.6h0M396.1 131.7h0M395.6 114.4h0M396.8 139.3h0M382.8 118.6h0M378.5 114.3h0M407.5 116.6h0M401.3 114.9h0M413.8 114.3h0M412.3 114.8h0M388.6 139.5h0M411 116.9h0M403.2 109h0M395.4 127.2h0M406.3 120.5h0M449.3 105.5h0M424.4 107.4h0M457 107.9h0M449.9 105.7h0M398.6 120.7h0M419.4 113.6h0M396.8 117h0M413.8 117.7h0M420.1 111.4h0M395.9 122h0M407.7 112.8h0M432.3 108.4h0M389.5 115.2h0M400.6 114.8h0M418.6 107h0M389.6 123.4h0M390 123.9h0M400 134.1h0M439 106.3h0M400.9 108.5h0M423.2 107h0M414.8 110.5h0M446.7 112.3h0M422.5 107.3h0M419.3 110.4h0M389.9 128.1h0M431.7 106.9h0M384.1 119.6h0M462 106.6h0M387.4 120.9h0M388.1 140h0M385.6 131.2h0M439.6 109.7h0M393.7 129.7h0M387.3 139.8h0M443.5 109h0M386.6 114.1h0M394.8 114h0M449.4 105.8h0M439.7 111.8h0M384.1 126.9h0M419.5 114.1h0M378.6 135.6h0M394.5 130.4h0M380 118.5h0M380 118.5h0M393.3 115.2h0M380.7 114.7h0M387.5 132.8h0M455.4 109.2h0M455.3 107.3h0M418 108.9h0M391.4 131.3h0M403.3 110.4h0M381.3 132.8h0M393.2 135.3h0M431.7 108.7h0M380.6 121.4h0M444.8 110.2h0M411.7 113.4h0M402.1 117.1h0M391.3 137.9h0M417.1 110.6h0M452.3 107.6h0M417.9 110.1h0M412.5 108.6h0M406.6 110.6h0M378.7 113.6h0M380.1 119.9h0M405.3 114.6h0M427.6 117.3h0M391.3 141.7h0M419.4 106.4h0M383.7 117.9h0M379.7 124.4h0M381.9 121.4h0M402.3 130.7h0M383.1 122h0M413.3 120.7h0M391.1 113.1h0M403.6 110.3h0M393 110.6h0M385.3 124.5h0M399.2 126.8h0M384.1 135h0M393.2 132.5h0M388.8 136.9h0M378.4 127.3h0M381.8 134h0M398.3 129.3h0M402.4 122.3h0M378.1 117.1h0M383.9 133.1h0M417.6 111.4h0M391.4 125.4h0M400.1 117.9h0M428.7 105.9h0M397.6 131.7h0M406.6 120h0M412.7 108h0M378.2 128h0M408.7 111.9h0M382.5 119.5h0M429.1 106.5h0M448.8 108h0M416 108.1h0M401.1 131.5h0M385 124.3h0M394.6 123.4h0M432.7 114.1h0M385.7 120.4h0M383.9 129.7h0M452.9 107.1h0M383 117.7h0M390.1 132.9h0M389.4 128.1h0M392.2 125h0M383 118h0M392.5 122.2h0M452.3 107.6h0M402.3 120.7h0M384.7 112.9h0M385.7 134.5h0M410.2 108.3h0M390.2 119.4h0M380.1 135.8h0M426.9 107.4h0M444.2 107.2h0M382.2 113.1h0M394.9 133.3h0M389.6 118.4h0M401.6 128.6h0M385.9 122h0M381.8 114.1h0M388.3 111.5h0M393.6 137.8h0M378.9 124.1h0M386.1 112.4h0M410.6 116.9h0M403.5 118.5h0M391.8 125h0M398.3 118.6h0M411.9 110.9h0M405.2 129.8h0M398.5 125h0M416 110.5h0M393.8 118.8h0M394.3 131h0M384.5 135.6h0M387.1 130.2h0M413.1 117.9h0M402.9 134h0M401.2 109.9h0M388.8 113.9h0M388.9 140h0M419.1 110.9h0M387.4 131.6h0M383.1 123.3h0M418.6 109.4h0M382.8 116.5h0M394.3 139h0M451.9 110.5h0M412.8 108.9h0M378.6 126.6h0M388 127.5h0M399.2 131.7h0M417.8 109.6h0M397.7 109.7h0M384 135.3h0M389.5 125.2h0M385.8 123.8h0M434.4 106.5h0M393.5 139.8h0M409.7 113.6h0M385.8 135.4h0M379.9 133.7h0M436.7 109.7h0M431.9 106h0M456.3 110.5h0M411.2 121.5h0M380.9 128.4h0M380.2 116.5h0M381 121h0M388.2 140.5h0M458.5 106.2h0M378.5 120.4h0M390.2 120.7h0M402.1 133.6h0M450.4 106.5h0M381.5 129.8h0M383.3 128h0M416.6 106.3h0M420.7 106.6h0M433.4 106.9h0M392.3 133.1h0M381.9 135.8h0M383.8 125h0M380.2 135.2h0M408 121.6h0M389.9 126.6h0M409.6 111.6h0M430.4 106h0M380 131.5h0M398.9 110h0M391.3 122.9h0M425.3 110.2h0M380.5 130.9h0M390 112.2h0M405 111h0M404.3 109.8h0M393.5 110.6h0M383.8 138.3h0M431 110.1h0M383.8 115.1h0M390.8 113.6h0M430.5 110.3h0M385.6 121.5h0M380.7 119.7h0M398.4 111.5h0M407.4 126h0M440.3 111h0M385.6 132.3h0M398.9 109.5h0M459.3 106.4h0M443.4 107.2h0M411.3 116.4h0M443.3 106.1h0M452.7 105.8h0M383.7 130.5h0M402.7 115.6h0M406 115.4h0M378.2 125.5h0M434.1 109.3h0M392.6 118.3h0M412.5 117.4h0M403 133.1h0M384.5 133.4h0M390.3 135.6h0M422.6 107h0M388.7 115.6h0M380 132.3h0M388.9 134.6h0M386.9 130.3h0M382.4 136.9h0M397.5 117.2h0M398.5 136h0M390 133.3h0M378.5 124h0M390.5 126.1h0M384.1 124.4h0M395.4 124.8h0M418.4 113.2h0M446.9 105.4h0M379.4 122.1h0M385.4 119.5h0M431.9 114.2h0M403.1 114.3h0M391.6 110.8h0M394.7 122.2h0M381.9 128.1h0M437 106.2h0M422.9 111.5h0M390.3 114.5h0M403.9 115.1h0M409.1 107.6h0M391.3 129.1h0M384.4 118.7h0M399.4 115.4h0M382.7 136.2h0M390.2 119.5h0M414.7 111.3h0M383.5 116.2h0M379.9 115.1h0M389.7 110.6h0M409.6 113.4h0M451.2 107.7h0M395.7 134.2h0M381 126.8h0M385.9 122.6h0M391.3 136.1h0M399.6 112.1h0M392.6 110.4h0M384.7 119.7h0M381.5 130.2h0M394 117.5h0M378.3 127.5h0M407.1 111.9h0M412.8 117.3h0M411.7 112.3h0M384.9 112.4h0M435.6 113h0M398.3 123.2h0M452.2 111.3h0M417.5 109.3h0M393.4 132.4h0M395.6 114.6h0M420.5 107.2h0M399.7 111.4h0M451.7 110.5h0M401.3 118.1h0M437.1 110.3h0M436.4 107.7h0M391.6 114.8h0M392.9 141.2h0M392.7 117.3h0M429.4 106.7h0M430.3 108.8h0M408.1 121.4h0M386.1 122.1h0M443.6 108.6h0M456.4 105.4h0M403.1 117.2h0M403.6 130.9h0M387.6 129.9h0M402.3 132h0M387 120.1h0M406.3 111.4h0M403.8 115.6h0M386.2 133.3h0M398 109.7h0M384 137h0M422 107.9h0M403.8 112.2h0M378.6 115.7h0M379.8 127.1h0M408.5 114.4h0M390.7 110.5h0M402.2 116.5h0M382.9 120.1h0M392.8 116h0M385 116.7h0M392.1 111.6h0M387.1 115.9h0M422 109h0M410.5 114.4h0M383 134.6h0M408.2 117.4h0M391 127.2h0M381 114.8h0M390.1 138.1h0M410.2 111.6h0M394.2 122.2h0M387.7 132.1h0M444.9 105.6h0M446.7 107.3h0M405.6 115.7h0M406.2 118.7h0M383.9 120.5h0M399.3 137.1h0M454.9 106.2h0M392.8 139.7h0M458.5 106.5h0M391.1 135h0M440.5 108.6h0M398.2 120.4h0M420.4 116.1h0M416 109.9h0M384.5 122.2h0M393.4 131.5h0M382.2 112.4h0M396.9 112.2h0M402.1 109.2h0M415.6 108.4h0M383.5 121.2h0M384.8 117h0M394.4 129.3h0M393 117.7h0M398.8 138h0M385.4 113.3h0M387.3 114.5h0M378.9 120.7h0M440.4 111h0M388 119.6h0M423 107.8h0M421.8 106.1h0M391.8 128.7h0M428.1 108.1h0M405.3 124.6h0M397.1 120.2h0M413.2 108.3h0M379.6 113.5h0M381.4 135.9h0M384 136.8h0M395.3 109.9h0M396.7 113.4h0M387.7 111h0M419.3 106.6h0M380.6 120.8h0M449.2 107.2h0M438.2 107.4h0M397.7 133.8h0M415 115.6h0M386.5 134.7h0M389.4 128.5h0M396.3 127.2h0M389.8 112.9h0M389.8 115.9h0M403.8 130.1h0M406.9 115h0M379.1 121.6h0M443.1 108.4h0M385.6 120.3h0M394.8 120.7h0M390.2 114.2h0M386 136.8h0M450 109.2h0M406.1 112.2h0M381.7 133.9h0M389.5 135.9h0M383.9 124.9h0M392.5 142h0M396.6 120.8h0M380.1 135.2h0M463.5 106.7h0M381.2 128h0M378.2 134.3h0M417.9 106.9h0M423.7 109.6h0M389.3 138.8h0M382.6 118.4h0M387.3 113.3h0M457 107.5h0M387 117.8h0M388.1 131.5h0M419.9 106h0M385.1 111.5h0M391.2 139.6h0M403.7 126.7h0M404 115.3h0M389.4 134.4h0M430.8 109.3h0M436.9 107.6h0M389.5 132.6h0M388.7 116.3h0M400.1 129.3h0M388.2 124.1h0M447.7 109.6h0M413.2 106.7h0M396.2 118.2h0M381.1 133.1h0M394.2 112h0M400.3 118.1h0M387.2 119.6h0M403.4 110.2h0M385.8 122h0M395.6 119.2h0M393.8 122.7h0M392.7 136.6h0M386.6 118.1h0M388.6 133.9h0M379.3 117h0M387.4 139.2h0M442.1 113.3h0M443.3 107.7h0M423.8 109.6h0M388.7 118.5h0M378.1 113.8h0M382.8 121.7h0M382.8 122.7h0M439.6 108h0M384.5 138.5h0M393.3 118.3h0M437.7 110.5h0M395.2 110.1h0M383.7 119.9h0M382.6 118.8h0M441.4 105.7h0M384 121.2h0M398.9 110.1h0M398 111.5h0M400.9 121.5h0M385.6 124.8h0M389.4 137.3h0M395.2 136.7h0M401.2 118h0M379 123.7h0M384 119.5h0M457.1 107.4h0M441.5 107.5h0M445.7 106.7h0M421.7 110h0M385.6 139.2h0M401.9 126.5h0M379.3 115.6h0M457 107.3h0M387.1 114h0M387.6 125.3h0M386.2 134.5h0M381.2 114.4h0M409 111.6h0M381.3 116h0M378.5 113.6h0M379.8 127.1h0M381.2 120.2h0M380.6 129.4h0M457.9 106.3h0M386.8 132.9h0M383.6 121.9h0M389.5 140.1h0M393.3 122.5h0M399.7 114.8h0M435.3 105.7h0M381.9 124.3h0M380 131.7h0M442 110.3h0M404.9 115.5h0M380.6 128.6h0M464.3 106.7h0M426.6 106.5h0M378.8 126.8h0M379.3 114.5h0M399.8 112.2h0M383.8 124.4h0M394.7 125.9h0M401.9 114.4h0M406.4 111.8h0M391.1 116.1h0M457.8 109.5h0M420.8 106.6h0M456 106h0M386.5 130.9h0M400.4 131.7h0M387.2 116.3h0M460.1 107.4h0M401 115.3h0M427.4 105.8h0M381.6 114.1h0M384.5 136.3h0M409.8 116.5h0M391.8 115.5h0M410.8 111.6h0M452.3 105.3h0M409.4 108.8h0M414.8 114h0M382.8 126.6h0M401.1 121.2h0M382.9 115.3h0M402 118.7h0M391.8 111h0M392 122.1h0M388.8 124.3h0M389.3 120.7h0M399.2 133.4h0M386.7 121.6h0M382.2 115.3h0M384.4 114.7h0M429.4 111.2h0M404.4 120.9h0M397.2 113.1h0M442 108.2h0M395 127.9h0M415.3 107.8h0M378.8 129.4h0M408.7 113.2h0M403.2 126.2h0M424.7 106.1h0M380.3 116.5h0M378.2 133.5h0M403.9 115.1h0M380.9 124h0M404.1 120.9h0M390.5 135.5h0M378.5 132.6h0M396.2 128.9h0M392.5 131.7h0M390.4 138.5h0M382.9 123.6h0M385.1 119.7h0M383.3 115.2h0M463.5 106.9h0M449 106.4h0M402.9 130.5h0M443.9 106.9h0M410.6 109.7h0M455.9 106.6h0M381 118h0M394.5 138.2h0M387.2 137.6h0M441.2 111.8h0M456.6 110.1h0M393.4 112.1h0M410.3 112.1h0M384 131.5h0M440.3 109.1h0M408.4 115.9h0M378.8 128.8h0M408.9 114.5h0M409.9 109.6h0M437.3 106h0M411.2 112.1h0M386 129h0M422.6 109.5h0M448.1 105.7h0M400.4 132.9h0M394.9 117.2h0M396.2 117.9h0M396.6 116.6h0M393.3 111.5h0M450.6 108.1h0M395.4 112.3h0M387.8 128.8h0M399.4 131.5h0M420.9 106.8h0M387 131.3h0M383.9 127.5h0M389.9 128.5h0M385.1 121.9h0M412.1 109.5h0M399.6 133.5h0M380.1 117.3h0M456.9 107.2h0M461.9 105.9h0M401 127.2h0M394.2 137.9h0M392 119.1h0M388.8 139.5h0M393.6 125.5h0M382.7 130.1h0M384.7 136.6h0M388.7 124.5h0M393.1 110.2h0M385.5 132.5h0M418.4 110.5h0M436.9 105.6h0M400.8 115.5h0M430.7 106.2h0M394.9 140.5h0M400.7 132.1h0M406.3 110.8h0M404.9 118h0M383.7 127.8h0M414.7 116h0M442.1 107.2h0M394.3 110h0M378.8 113.7h0M396.5 122.4h0M390 116h0M400.4 111h0M384.6 131.8h0M385.4 134.2h0M388.9 131.2h0M386.2 113.9h0M379.1 124.8h0M405.9 111.6h0M413 112.7h0M425.9 108.6h0M432.9 105.7h0M393.8 125h0M431.8 105.8h0M429.3 105.8h0M395.4 135.5h0M391.3 137.5h0M445.4 109.7h0M380.6 127.4h0M397.5 134h0M397.5 110.1h0M404 114h0M378.2 119.9h0M390.7 123h0M384.8 123.5h0M388.5 112.2h0M404.7 114.5h0M420.8 107h0M415.3 106.3h0M432 111.6h0M424.2 109.3h0M429.6 115.1h0M418.8 110.2h0M386.4 127h0M457.3 108.8h0M401.8 114.1h0M403.6 110.7h0M436.2 106.5h0M411.4 114.4h0M384.6 125h0M387 121.4h0M393.3 129.4h0M393.4 118.7h0M385.1 127h0M389 120.1h0M398.6 119.7h0M391.4 133.7h0M440.8 105.7h0M397.1 130.4h0M378.8 124.9h0M388.8 132.9h0M401.1 117h0M435.4 106.5h0M446.4 107.9h0M382.5 121.7h0M398.1 113.7h0M408.4 126.4h0M407.3 120.3h0M427.1 107.9h0M422.9 109.7h0M390.1 137.3h0M459.2 105.6h0M394.9 127h0M410.4 108.1h0M383.8 124.4h0M414.3 107.7h0M394.3 141.1h0M398.9 112.1h0M389.4 114.7h0M400.3 126.6h0M386.6 131.1h0M380.5 121.1h0M383.7 113.6h0M428.5 109.7h0M381.1 116.1h0M391.2 113.8h0M389.4 115.3h0M397 135.5h0M385.2 116.3h0M422 105.9h0M404.6 116h0M380.9 124h0M384.4 123.2h0M428 106.2h0M393.3 127.9h0M383.8 138h0M399.9 124.4h0M384.9 114.3h0M398.9 131.4h0M429.4 107.5h0M385 122.1h0M384.9 113.8h0M386.2 136.1h0M385.5 117.3h0M379.9 120.4h0M443 108.2h0M387.9 136.1h0M384.3 115.8h0M384.7 119.5h0M398 109.1h0M441.3 105.4h0M435 108.9h0M442.8 107.1h0M400.3 129.9h0M398.6 112.1h0M378.9 129.2h0M437.5 106.6h0M379.4 123.7h0M434.9 106.4h0M417.5 114h0M386.3 120.5h0M402.3 109.9h0M434.2 107.7h0M438.8 106h0M382.2 116.5h0M390.6 130.5h0M393.4 118.8h0M417.4 114.7h0M440.8 105.9h0M406.9 114.5h0M378.1 117.6h0M464 107h0M404 110.7h0M450.1 110.1h0M389.2 117.4h0M400.6 135.3h0M400.4 129.7h0M413.9 106.7h0M389.6 121.3h0M393 117.5h0M415.8 106.5h0M402.1 118.8h0M396 119.3h0M379.5 119h0M381.1 122.7h0M400.6 121.3h0M405.2 120.2h0M423.2 109h0M465.9 106.5h0M379.9 132.8h0M387.5 116h0M429 106.4h0M390.2 134.2h0M433.1 109.7h0M386 134.2h0M402.2 119.7h0M414 109h0M398.1 129.1h0M390.7 126h0M382.6 125.2h0M385 130.7h0M393.6 111.3h0M388.8 136.5h0M395.8 118.1h0M397.8 128.4h0M389.4 140.9h0M396.5 113.5h0M405.4 110.1h0M384.8 134h0M407.5 117.3h0M435.4 107.3h0M392.5 141.1h0M440.6 112.5h0M439 111.8h0M386.3 127.1h0M396.9 133.9h0M392.7 110.9h0M462.8 106.4h0M385.8 115.6h0M455.2 106.4h0M400.8 124.6h0M386.7 114.7h0M412.7 112.6h0M421.3 113.3h0M399.1 137.5h0M392.5 118h0M412.1 119.3h0M389.6 117.4h0M384.6 125.4h0M410.8 119.6h0M385.7 128.5h0M400.2 131.2h0M379.2 132.6h0M381.9 129.4h0M388.3 113.9h0M390.1 111.7h0M398.2 119.2h0M398.7 109.6h0M399.7 114.7h0M396.6 138.2h0M445.2 106.5h0M388.8 128.9h0M434.7 106.2h0M461.1 106.3h0M391.6 128h0M397.5 128.8h0M432.9 106.9h0M378.5 129.9h0M397.7 114.3h0M454.5 106.5h0M435.8 108.3h0M395.7 111.8h0M390.6 141.1h0M459.1 107.3h0M385.1 117.7h0M405.6 117.8h0M391.2 127.6h0M382.8 135.5h0M394.9 138h0M392.1 111.5h0M380.8 113.2h0M405.4 110.6h0M388 136.2h0M455.7 105.4h0M390.2 123.4h0M380.9 120.4h0M392.5 136.7h0M379 133.4h0M419.5 115.2h0M381.2 131.9h0M400.2 115.8h0M395.7 112.6h0M401.3 118.3h0M395.9 125.2h0M416.3 118.3h0M415.7 110h0M429.6 105.9h0M390.6 125.4h0M404.4 113.2h0M409.6 109.4h0M380.6 115.1h0M383.4 127.4h0M383.3 124.2h0M391.3 139.2h0M396.2 133h0M395.4 110.1h0M396.3 116.7h0M379.5 130.7h0M378.7 132.7h0M413.7 108.2h0M378.7 114.2h0M388.3 115h0M388.2 119.8h0M387 139.5h0M398.1 120.5h0M395.5 136.1h0M380.2 120.8h0M416.7 109.4h0M379.4 120.9h0M457.2 105.7h0M378.3 124h0M389.9 132.7h0M385.2 124h0M409.5 114.1h0M380.6 119.9h0M385.9 126h0M408.4 110.5h0M386.6 133.1h0M388.2 137.1h0M402.2 134.2h0M411.3 107.6h0M409.7 117.8h0M397.6 109.6h0M395.6 133.2h0M403.3 125.9h0M441.5 108.2h0M391.5 111.7h0M411.2 112.2h0M382.7 114.7h0M456.7 105.3h0M421.2 117.4h0M419 115.4h0M406.8 110.1h0M403.5 117.1h0M407.1 111.4h0M383.8 135.4h0M400.2 131.7h0M400.7 112h0M402.6 112.5h0M445.3 105.8h0M402.8 124h0M400.1 131.1h0M386 112.8h0M388.9 122.7h0M382.2 122.3h0M379.1 117.9h0M392.6 124h0M433.3 108h0M420.5 106.4h0M399.3 114.1h0M412.5 108.4h0M442.8 107.8h0M408.9 112.2h0M392.5 122.5h0M385.6 123.9h0M393.7 128.9h0M383.3 121.5h0M398.9 112.5h0M441.4 109.7h0M426 107.3h0M380.2 126h0M379.4 127.8h0M382 112.4h0M426.6 108.6h0M413 109.4h0M381.3 126.7h0M406.5 121.3h0M386.8 136.8h0M399.9 124.3h0M403.8 108.7h0M378.9 124.5h0M428.1 106.1h0M452.1 110.7h0M387.4 138h0M399.5 119.3h0M395.1 121.5h0M388.5 124.4h0M391.4 127.3h0M388.2 115.4h0M388.5 115h0M447.8 106.5h0M416.8 107.1h0M403.7 118.6h0M454.9 107.3h0M383.2 126h0M394.2 140.7h0M383.4 134.3h0M390.7 125.7h0M425.9 106.4h0M386.4 131.9h0M400.8 113.4h0M389.2 128.3h0M457 109.3h0M423.5 110.3h0M410.2 110.3h0M387.1 114.4h0M394.1 130.3h0M389.3 117.7h0M379.6 115h0M407.5 111.2h0M393 128.6h0M394.8 126.5h0M405.9 127h0M402.2 115.7h0M382.9 131.7h0M428.2 110.6h0M396 122.7h0M432 107.7h0M385.4 128.4h0M387.1 120.1h0M391.8 117.5h0M401.4 123.4h0M402.6 128.6h0M424.2 108.4h0M389.9 121.7h0M384.8 132.9h0M455.2 105.7h0M396.5 120.1h0M383.8 122.7h0M393.5 137.7h0M387.3 134.4h0M390.1 124.7h0M454.1 106.5h0M428.4 109.2h0M389.5 135.7h0M389 130.4h0M383.9 120.2h0M419.1 106.3h0M388.8 129.7h0M395.8 122.4h0M394.7 130h0M389.7 120h0M419.8 112.9h0M392.5 114.2h0M437.7 106.3h0M445.1 106.6h0M442.1 106.2h0M451.9 108.3h0M446.7 110.3h0M397.1 123.8h0M445 107.3h0M399.5 131.9h0M424.6 106.4h0M390.4 116.7h0M400.9 132.2h0M451.3 105.4h0M391.9 136.6h0M419.5 106.1h0M400.5 133.2h0M422.5 114.7h0M455.5 105.9h0M410.6 113.7h0M399.7 122.7h0M439.3 110.5h0M433 107.9h0M385.7 114.1h0M380.5 124.6h0M403.4 115.9h0M392.9 114.9h0M387 129.7h0M416.1 122.1h0M398.8 111.3h0M449.4 107.2h0M406.5 109.5h0M404.8 116.1h0M405.5 119.6h0M402.4 112.4h0M412.7 106.8h0M397.8 126.1h0M378.9 121.3h0M411.4 110.6h0M391.7 139.4h0M429.2 106.5h0M416.2 118.6h0M391.7 136.9h0M412.1 119.8h0M414.7 111.2h0M386.5 126.9h0M405.4 110.7h0M455.3 106.9h0M399.1 110.4h0M386.1 121.5h0M424.8 110.5h0M451.6 109.4h0M393 132h0M415.6 113.9h0M398.2 110.9h0M441.6 110.4h0M379.6 117.7h0M447.6 109.2h0M380.9 119.3h0M399.7 113.2h0M397.3 134.1h0M379.9 134.2h0M382.4 133.3h0M384.7 116.1h0M426.2 106.3h0M394 118.5h0M400.6 127.8h0M396 111.7h0M383.8 119.2h0M385.3 117.9h0M394 139.8h0M447.1 111.5h0M409.9 123.1h0M410.6 112.3h0M404.9 128.4h0M459.9 108.6h0M405 109.1h0M448.1 105.3h0M398.5 130.6h0M380.4 115.2h0M402.7 108.8h0M399.2 124.6h0M412.1 113h0M419.5 106.2h0M380.3 114.7h0M381.8 132.9h0M394.8 119.1h0M408.3 116.2h0M386.1 113.2h0M431.2 106.9h0M382.7 124.9h0M407.3 109.5h0M391 135.8h0M395.5 141h0M393.9 129.7h0M427.6 108.1h0M378.5 134.3h0M417.5 109.7h0M387.2 137.4h0M384.4 120.4h0M392.6 137.7h0M449.2 106.9h0M408 110.9h0M394.4 114.4h0M395.8 122.9h0M451.2 106.8h0M382.3 127.4h0M391.8 118.6h0M379.1 113.5h0M431.5 108.4h0M415.5 108.2h0M413.8 116.2h0M430.7 112.2h0M406.2 116.6h0M390.6 120h0M383 119.9h0M390.2 111.3h0M408.7 116.4h0M395.3 132.1h0M404 128.4h0M430.3 107.9h0M390.8 125.2h0M380.2 115.3h0M418.2 115.8h0M421.1 108.8h0M383.6 135.5h0M418.5 111.4h0M387.1 111.3h0M382.8 129.6h0M400.4 124.8h0M391 129.8h0M379.7 126.7h0M435.8 106.6h0M412.6 116.5h0M390.7 125.5h0M383.9 120.9h0M389.5 121.7h0M385.1 128.9h0M412 118h0M379.6 124.4h0M392.4 123.2h0M457.8 106.2h0M391.8 111.7h0M380.8 114.4h0M402.4 132.2h0M405.9 108.5h0M388.8 112.5h0M385.3 134.5h0M383.1 124.1h0M396.9 111.2h0M437.8 106.6h0M381.3 135h0M404.6 109.5h0M396.5 116.1h0M429.1 109.9h0M398.5 133.2h0M408.1 120.8h0M406.5 115.9h0M426.4 106h0M386.5 129.6h0M378.8 116.4h0M420.5 113.5h0M433 110.9h0M429.6 112h0M397.9 132.7h0M393.4 121.5h0M393.7 138h0M410.8 110.8h0M401.3 113.3h0M390.3 135.4h0M428.7 106.1h0M399.5 124.3h0M449.4 106.5h0M383.5 124h0M389.7 124.9h0M400.6 112.6h0M446 106.9h0M395.7 141h0M383.1 120.3h0M396.9 126.1h0M390 137.3h0M398 124.5h0M431 110.3h0M380.4 118.6h0M447.8 105.9h0M439.9 105.8h0M399.1 129.2h0M378.3 130.8h0M413.1 115.7h0M391.2 129.9h0M409.7 120.7h0M408.5 117.2h0M424.5 111h0M462.6 107.2h0M386.7 125.6h0M393.6 127h0M384.5 118.3h0M409.6 111.7h0M387.4 122.2h0M417.5 107.6h0M387.4 123.2h0M388.7 137.6h0M380.5 131.2h0M392.1 134.1h0M384 137.9h0M407.3 121.3h0M385.5 133.2h0M397.5 122.2h0M390 133h0M388.6 126.5h0M403 111.8h0M405.2 124.9h0M407 112.3h0M405.2 114.9h0M390.9 137.5h0M398 132.5h0M388.8 124.1h0M426.5 107.6h0M458.9 109h0M379.4 115.2h0M380.5 126.1h0M398.3 116.4h0M379.5 126.6h0M389.2 114.3h0M414.5 111.4h0M392 131.2h0M395.6 121.5h0M386.2 123.6h0M392.6 115.9h0M390.8 121.6h0M421.3 112.1h0M385 119.3h0M385.4 131.8h0M405.6 114.5h0M398.1 117.8h0M401.6 110.9h0M393 112.4h0M405.4 123.6h0M383.6 113.8h0M389.7 114.7h0M380 113.7h0M432.5 106.5h0M385.1 129.2h0M383.2 123.1h0M386.4 124.1h0M388.4 126.6h0M442 109.7h0M388.7 123.5h0M403.7 118.3h0M378.4 117.5h0M391.6 128.4h0M400.2 112.3h0M400.7 128.4h0M410.3 112.3h0M391.2 121.6h0M403.9 125.7h0M416.3 109.4h0M387.1 111.9h0M392.3 125.3h0M416 112.1h0M403.5 119.6h0M400.8 128.1h0M391 126.2h0M384.2 123.5h0M389 120.7h0M405.1 110.1h0M383.5 121.8h0M394 120h0M410.3 109.8h0M378.2 114.9h0M392.3 125.4h0M382.3 130.8h0M388.9 113.8h0M392.8 139.1h0M382.5 113.5h0M428.5 111.1h0M391.5 112.6h0M393.1 111.5h0M411.2 110.1h0M420.4 109.4h0M386.7 125.6h0M381.9 118.1h0M379.6 120.8h0M421.5 110.4h0M391.2 138.9h0M410.3 108.7h0M385.5 121.1h0M407.9 108.5h0M407.6 115.7h0M391.7 138.3h0M386.2 112.2h0M380.3 136.6h0M379.2 117.4h0M455.2 106.9h0M386.4 122.8h0M448.6 105.5h0M399.1 116.5h0M391.3 137.2h0M401.8 109.9h0M408.7 114.7h0M389.2 119.5h0M388.7 114.3h0M385.1 135.2h0M424.3 108.4h0M397.5 130.5h0M400.6 113.2h0M395.2 110.9h0M439.8 105.5h0M394 132.9h0M385.4 114.4h0M448.8 108.7h0M397.8 127.7h0M383.3 117.3h0M384.4 132.4h0M392.4 114.4h0M451.8 107.1h0M388 125.7h0M408 127h0M390.1 120.1h0M407.9 110.5h0M435.9 111.8h0M410.8 114.3h0M393.6 115h0M440.3 108.5h0M407.7 116.9h0M383.9 124h0M394.6 114.2h0M396.7 128.7h0M402.8 115.7h0M404.7 122.2h0M383.8 126.4h0M418.1 108.3h0M386.5 118h0M392.5 129.4h0M402.1 122.9h0M383.9 126.6h0M419.2 117.9h0M387.7 131.8h0M383.2 115.7h0M378.6 129.7h0M396.2 136h0M398 125.4h0M394 114.9h0M392.9 115.2h0M415.8 111.6h0M394.6 140.9h0M397 122.4h0M399.4 111.3h0M412.4 113h0M396.4 140.1h0M382.1 126h0M381 122.6h0M381.7 132.5h0M380.9 114.6h0M388.3 117.1h0M399.3 131.1h0M418.4 107.7h0M386 133.9h0M391.7 129.8h0M416.1 113.9h0M390.7 127.2h0M388.7 137.5h0M383.8 130.3h0M384 116.6h0M380.5 120h0M379.2 123h0M394.3 111.8h0M400.4 124.9h0M388.4 127.2h0M412.9 112.9h0M391.7 119.3h0M383.5 128.4h0M410.6 110.3h0M389 110.8h0M421.3 106.5h0M391.3 119.2h0M379.4 126.1h0M386.5 133.3h0M392.7 140.5h0M390.1 119.2h0M379 125.8h0M444.9 105.7h0M387.5 131h0M394 132.1h0M401.7 121.2h0M410.9 111h0M458.9 105.7h0M425.2 108.6h0M386.3 122.3h0M398.6 136.5h0M385.9 125.8h0M424.9 111.4h0M408.5 110h0M399.7 118h0M396.6 132.6h0M428.7 109.6h0M390.3 115.2h0M393.9 114.3h0M434.4 107.5h0M395.7 119.3h0M400.3 113.4h0M418 110h0M386.6 131.1h0M398 120.7h0M397.7 110.9h0M393.1 118h0M392 110.2h0M390.6 139.8h0M378.7 128.8h0M393 122h0M434.5 107.1h0M389.3 126.4h0M403.4 116.8h0M455.2 108.1h0M408.2 125.4h0M388.3 113h0M396.1 134.5h0M400 127.8h0M407 123.1h0M395.3 111.7h0M378.6 130.6h0M387.6 123.6h0M464.4 106.7h0M388.7 119h0M430.5 110.1h0M428.4 111.5h0M378.9 118.9h0M396.4 134.4h0M419.1 106.9h0M419.8 106.9h0M383.2 124.2h0M429.4 107.1h0M378 128.1h0M403.3 130.5h0M408.3 111.7h0M395.5 110.6h0M415.4 108.8h0M408.1 114.6h0M384.8 127.8h0M401.3 114h0M429.8 106.3h0M407.3 118.3h0M410.8 115.5h0M417 111.2h0M389.3 114.7h0M385.4 115.7h0M395.7 126.9h0M396.7 140.2h0M448.8 105.8h0M458.7 105.6h0M379.2 118.6h0M390 131.2h0M390.4 119.3h0M384.2 115.4h0M407.7 127.8h0M426.7 106.2h0M414.5 120.7h0M455.6 105.8h0M389.5 112.1h0M390.9 121.9h0M420 107.9h0M399.4 130.5h0M437.9 106.1h0M390.4 119h0M391.9 126.3h0M389.1 115.7h0M383.5 127.5h0M381.2 122.9h0M463.7 106.2h0M388.1 127h0M462.5 105.9h0M444.9 105.9h0M384.1 124.5h0M399.1 124.3h0M387.2 130.8h0M390.6 114.9h0M398.3 118.9h0M415.8 107.8h0M405.4 113.4h0M404 108.1h0M397.1 113.1h0M381.2 121.6h0M430.5 111.3h0M436.2 107.1h0M424.9 111.6h0M449.9 105.8h0M386.2 116.4h0M419.2 111.3h0M441.8 106.2h0M428.9 109h0M381 113.7h0M397.6 116.4h0M397.6 113.1h0M390.5 126.5h0M442.1 109.3h0M441.3 106.1h0M396.3 132.3h0M382.1 126.4h0M415.6 116.4h0M398.7 111.6h0M448.1 107.8h0M390.3 124.2h0M383.6 134.5h0M387 124.1h0M390.9 118h0M394.7 112h0M383.1 134.3h0M387.2 120.8h0M402.9 113.1h0M409 123.2h0M396.2 119.3h0M456.8 109.3h0M381.9 131.8h0M413.2 117.4h0M392.7 128h0M423.8 109.1h0M396 110.4h0M381.9 120h0M385 113.2h0M379.3 132.6h0M396 115.1h0M403 122.3h0M400 126.8h0M381.5 118.4h0M390 123.3h0M397.9 110.9h0M420 107.1h0M397.8 114.1h0M443.1 106.6h0M385.3 134.2h0M397.4 138.5h0M387.7 118.5h0M409 117.7h0M400.5 117.9h0M447.1 110.1h0M396.1 112.3h0M386 124.5h0M397.5 114.8h0M410.5 109.9h0M382.6 121.3h0M399.6 114.3h0M388.5 117.2h0M394.4 141.8h0M391.6 127.5h0M380 130.1h0M413 119.4h0M400.8 123.2h0M456.8 105.5h0M379.5 125.7h0M384.5 118.5h0M389.2 130.3h0M412.3 108.7h0M423 107.4h0M404.2 127.6h0M405.6 109.4h0M386.6 130.7h0M402.5 126.7h0M384.3 126.9h0M405.4 117.6h0M454.2 108.9h0M434 110.3h0M383.4 126h0M378.2 130.1h0M408.5 110.2h0M402.8 108.5h0M404.9 128.8h0M384.4 132.2h0M448.4 109.3h0M378 114.2h0M380.7 119.9h0M453.4 109.5h0M395.2 132.9h0M405 120.1h0M416 110.7h0M421.2 109.2h0M397.8 136.1h0M394.7 122.2h0M389.4 140.9h0M409.5 118.6h0M380 127.1h0M423 106.4h0M383.6 125.2h0M385 132.9h0M396.2 118.6h0M391.8 130.6h0M424.4 105.7h0M378.3 125.3h0M395.2 129.6h0M399.3 112.2h0M453.5 105.4h0M436.5 109.9h0M391.3 141.5h0M384.5 119.1h0M430.3 106.6h0M438.3 105.6h0M395.7 130.1h0M383.9 127.2h0M390.1 115.5h0M434.9 108h0M424.5 107.6h0M407.3 109.2h0M449.3 105.8h0M395.8 112.2h0M399.6 111h0M407.7 112.5h0M383.8 122h0M402.1 130.4h0M415.6 111.4h0M393.6 112.9h0M389.5 117.8h0M399.4 132.5h0M392.6 121.8h0M378.7 134.7h0M380 133.7h0M379.2 136.2h0M453.3 107.3h0M452.4 107.8h0M387.6 139.8h0M394 117.5h0M392 126.4h0M410.2 121.9h0M389.1 115.4h0M389.6 134.9h0M400.4 131.5h0M392.6 129.2h0M382.2 128.2h0M393.5 114h0M390 132.2h0M382.9 115.6h0M392.2 127.5h0M393.8 119.1h0M411.6 113.7h0M451.9 106.1h0M400.7 111.1h0M385.3 117.9h0M388.6 111.6h0M428.6 109.6h0M386.1 120.8h0M423.8 109.7h0M382.9 136.7h0M397.5 131h0M434.6 113.2h0M389 111.2h0M402 108.4h0M384.1 137.4h0M442.3 108.2h0M411.8 113.4h0M396.9 122.1h0M394.4 126.5h0M411.9 109.9h0M426.8 106.7h0M382.4 120h0M409.8 112.5h0M387.5 121.1h0M394.8 137.7h0M405.1 113.1h0M402.6 117.9h0" stroke="#e8088a" stroke-width="1.6" stroke-linecap="round" fill="none"/>
<line x1="363.3" y1="70.6" x2="424.5" y2="43" stroke="#e8088a" stroke-width="1.4"/>
<line x1="360.1" y1="129.8" x2="391.9" y2="143.8" stroke="#e8088a" stroke-width="1.4"/>
<polygon points="410,91.8 440,92.1 463,92.4 466,93.6 463,95.3 440,95.5 420,95.4 410,94.6" fill="#f4b4cf" opacity="0.92"/>
<polygon points="413,104 440,103.4 470,103 482,103 484,104.2 482,105.4 470,105.8 440,106.2 420,106.8 413,107.2" fill="#f4b4cf" opacity="0.92"/>
<circle cx="310" cy="102.6" r="0.9" fill="#2a2f8a"/>
<circle cx="331.7" cy="87" r="0.9" fill="#2a2f8a"/>
<circle cx="339.3" cy="82.5" r="0.9" fill="#2a2f8a"/>
<circle cx="346.5" cy="91.5" r="0.9" fill="#2a2f8a"/>
<circle cx="345.7" cy="95.2" r="0.9" fill="#2a2f8a"/>
<circle cx="346.5" cy="105" r="0.9" fill="#2a2f8a"/>
<circle cx="343.7" cy="122" r="0.9" fill="#2a2f8a"/>
<circle cx="492.6" cy="102.4" r="0.9" fill="#2a2f8a"/>
<circle cx="412" cy="123.1" r="0.9" fill="#2a2f8a"/>
</g>
<line x1="294.6" y1="99.5" x2="508.8" y2="99.5" stroke="#5a4fa8" stroke-width="1"/>
<rect x="294.6" y="33.8" width="214.2" height="117.7" fill="none" stroke="#231f20" stroke-width="1.3"/>
<text x="304.5" y="28.5" font-size="8.5" fill="#231f20" stroke="#231f20" stroke-width="0.12" textLength="194.5" lengthAdjust="spacingAndGlyphs">Binding Affinity: Aza vs Mock (14943 FDR &lt; 0.001)</text>
<line x1="290.9" y1="147.3" x2="294.6" y2="147.3" stroke="#231f20" stroke-width="1"/>
<text x="288.2" y="149.9" font-size="6.3" fill="#231f20" stroke="#231f20" stroke-width="0.12" text-anchor="end">&#8722;7</text>
<line x1="290.9" y1="140.5" x2="294.6" y2="140.5" stroke="#231f20" stroke-width="1"/>
<line x1="290.9" y1="133.7" x2="294.6" y2="133.7" stroke="#231f20" stroke-width="1"/>
<text x="288.2" y="136.3" font-size="6.3" fill="#231f20" stroke="#231f20" stroke-width="0.12" text-anchor="end">&#8722;5</text>
<line x1="290.9" y1="126.8" x2="294.6" y2="126.8" stroke="#231f20" stroke-width="1"/>
<line x1="290.9" y1="120" x2="294.6" y2="120" stroke="#231f20" stroke-width="1"/>
<text x="288.2" y="122.6" font-size="6.3" fill="#231f20" stroke="#231f20" stroke-width="0.12" text-anchor="end">&#8722;3</text>
<line x1="290.9" y1="113.2" x2="294.6" y2="113.2" stroke="#231f20" stroke-width="1"/>
<line x1="290.9" y1="106.4" x2="294.6" y2="106.4" stroke="#231f20" stroke-width="1"/>
<text x="288.2" y="109" font-size="6.3" fill="#231f20" stroke="#231f20" stroke-width="0.12" text-anchor="end">&#8722;1</text>
<line x1="290.9" y1="99.6" x2="294.6" y2="99.6" stroke="#231f20" stroke-width="1"/>
<line x1="290.9" y1="92.8" x2="294.6" y2="92.8" stroke="#231f20" stroke-width="1"/>
<text x="288.2" y="95.4" font-size="6.3" fill="#231f20" stroke="#231f20" stroke-width="0.12" text-anchor="end">1</text>
<line x1="290.9" y1="86" x2="294.6" y2="86" stroke="#231f20" stroke-width="1"/>
<line x1="290.9" y1="79.2" x2="294.6" y2="79.2" stroke="#231f20" stroke-width="1"/>
<text x="288.2" y="81.8" font-size="6.3" fill="#231f20" stroke="#231f20" stroke-width="0.12" text-anchor="end">3</text>
<line x1="290.9" y1="72.3" x2="294.6" y2="72.3" stroke="#231f20" stroke-width="1"/>
<line x1="290.9" y1="65.5" x2="294.6" y2="65.5" stroke="#231f20" stroke-width="1"/>
<text x="288.2" y="68.1" font-size="6.3" fill="#231f20" stroke="#231f20" stroke-width="0.12" text-anchor="end">5</text>
<line x1="290.9" y1="58.7" x2="294.6" y2="58.7" stroke="#231f20" stroke-width="1"/>
<line x1="290.9" y1="51.9" x2="294.6" y2="51.9" stroke="#231f20" stroke-width="1"/>
<text x="288.2" y="54.5" font-size="6.3" fill="#231f20" stroke="#231f20" stroke-width="0.12" text-anchor="end">7</text>
<line x1="290.9" y1="45.1" x2="294.6" y2="45.1" stroke="#231f20" stroke-width="1"/>
<line x1="290.9" y1="38.3" x2="294.6" y2="38.3" stroke="#231f20" stroke-width="1"/>
<text x="288.2" y="40.9" font-size="6.3" fill="#231f20" stroke="#231f20" stroke-width="0.12" text-anchor="end">9</text>
<line x1="302.5" y1="151.5" x2="302.5" y2="154.3" stroke="#231f20" stroke-width="1"/>
<text x="302.5" y="163.6" font-size="6.3" fill="#231f20" stroke="#231f20" stroke-width="0.12" text-anchor="middle">&#8722;1</text>
<line x1="317.7" y1="151.5" x2="317.7" y2="154.3" stroke="#231f20" stroke-width="1"/>
<text x="317.7" y="163.6" font-size="6.3" fill="#231f20" stroke="#231f20" stroke-width="0.12" text-anchor="middle">0</text>
<line x1="332.9" y1="151.5" x2="332.9" y2="154.3" stroke="#231f20" stroke-width="1"/>
<text x="332.9" y="163.6" font-size="6.3" fill="#231f20" stroke="#231f20" stroke-width="0.12" text-anchor="middle">1</text>
<line x1="348.1" y1="151.5" x2="348.1" y2="154.3" stroke="#231f20" stroke-width="1"/>
<text x="348.1" y="163.6" font-size="6.3" fill="#231f20" stroke="#231f20" stroke-width="0.12" text-anchor="middle">2</text>
<line x1="363.3" y1="151.5" x2="363.3" y2="154.3" stroke="#231f20" stroke-width="1"/>
<text x="363.3" y="163.6" font-size="6.3" fill="#231f20" stroke="#231f20" stroke-width="0.12" text-anchor="middle">3</text>
<line x1="378.5" y1="151.5" x2="378.5" y2="154.3" stroke="#231f20" stroke-width="1"/>
<text x="378.5" y="163.6" font-size="6.3" fill="#231f20" stroke="#231f20" stroke-width="0.12" text-anchor="middle">4</text>
<line x1="393.7" y1="151.5" x2="393.7" y2="154.3" stroke="#231f20" stroke-width="1"/>
<text x="393.7" y="163.6" font-size="6.3" fill="#231f20" stroke="#231f20" stroke-width="0.12" text-anchor="middle">5</text>
<line x1="408.9" y1="151.5" x2="408.9" y2="154.3" stroke="#231f20" stroke-width="1"/>
<text x="408.9" y="163.6" font-size="6.3" fill="#231f20" stroke="#231f20" stroke-width="0.12" text-anchor="middle">6</text>
<line x1="424.1" y1="151.5" x2="424.1" y2="154.3" stroke="#231f20" stroke-width="1"/>
<text x="424.1" y="163.6" font-size="6.3" fill="#231f20" stroke="#231f20" stroke-width="0.12" text-anchor="middle">7</text>
<line x1="439.3" y1="151.5" x2="439.3" y2="154.3" stroke="#231f20" stroke-width="1"/>
<text x="439.3" y="163.6" font-size="6.3" fill="#231f20" stroke="#231f20" stroke-width="0.12" text-anchor="middle">8</text>
<line x1="454.5" y1="151.5" x2="454.5" y2="154.3" stroke="#231f20" stroke-width="1"/>
<text x="454.5" y="163.6" font-size="6.3" fill="#231f20" stroke="#231f20" stroke-width="0.12" text-anchor="middle">9</text>
<line x1="469.7" y1="151.5" x2="469.7" y2="154.3" stroke="#231f20" stroke-width="1"/>
<text x="469.7" y="163.6" font-size="6.3" fill="#231f20" stroke="#231f20" stroke-width="0.12" text-anchor="middle">10</text>
<line x1="484.9" y1="151.5" x2="484.9" y2="154.3" stroke="#231f20" stroke-width="1"/>
<text x="484.9" y="163.6" font-size="6.3" fill="#231f20" stroke="#231f20" stroke-width="0.12" text-anchor="middle">11</text>
<line x1="500.1" y1="151.5" x2="500.1" y2="154.3" stroke="#231f20" stroke-width="1"/>
<text x="500.1" y="163.6" font-size="6.3" fill="#231f20" stroke="#231f20" stroke-width="0.12" text-anchor="middle">12</text>
<text x="376" y="175.3" font-size="8.8" fill="#231f20" stroke="#231f20" stroke-width="0.12" textLength="52" lengthAdjust="spacingAndGlyphs">log concentration</text>
<text transform="translate(276.6 109.4) rotate(-90)" font-size="10.2" fill="#231f20" stroke="#231f20" stroke-width="0.12" textLength="40" lengthAdjust="spacingAndGlyphs">log fold change</text>
<text x="7" y="202.6" font-size="12" fill="#000" font-weight="bold">C</text>
<rect x="39.6" y="221" width="119.6" height="87.8" fill="none" stroke="#231f20" stroke-width="1.3"/>
<text x="39.8" y="216" font-size="9.2" fill="#231f20" stroke="#231f20" stroke-width="0.12" textLength="17.9" lengthAdjust="spacingAndGlyphs">EPIC</text>
<line x1="36.2" y1="235.4" x2="39.6" y2="235.4" stroke="#231f20" stroke-width="1"/>
<text x="33.4" y="237.6" font-size="6.3" fill="#231f20" stroke="#231f20" stroke-width="0.12" text-anchor="end">200</text>
<line x1="36.2" y1="257.3" x2="39.6" y2="257.3" stroke="#231f20" stroke-width="1"/>
<text x="33.4" y="259.5" font-size="6.3" fill="#231f20" stroke="#231f20" stroke-width="0.12" text-anchor="end">0</text>
<line x1="36.2" y1="279.4" x2="39.6" y2="279.4" stroke="#231f20" stroke-width="1"/>
<text x="33.4" y="281.6" font-size="6.3" fill="#231f20" stroke="#231f20" stroke-width="0.12" text-anchor="end">&#8722;200</text>
<line x1="36.2" y1="301.3" x2="39.6" y2="301.3" stroke="#231f20" stroke-width="1"/>
<text x="33.4" y="303.5" font-size="6.3" fill="#231f20" stroke="#231f20" stroke-width="0.12" text-anchor="end">&#8722;400</text>
<line x1="65" y1="308.8" x2="65" y2="311.9" stroke="#231f20" stroke-width="1"/>
<text x="65" y="320.8" font-size="6.3" fill="#231f20" stroke="#231f20" stroke-width="0.12" text-anchor="middle">&#8722;300</text>
<line x1="95.2" y1="308.8" x2="95.2" y2="311.9" stroke="#231f20" stroke-width="1"/>
<text x="95.2" y="320.8" font-size="6.3" fill="#231f20" stroke="#231f20" stroke-width="0.12" text-anchor="middle">0</text>
<line x1="125.9" y1="308.8" x2="125.9" y2="311.9" stroke="#231f20" stroke-width="1"/>
<text x="125.9" y="320.8" font-size="6.3" fill="#231f20" stroke="#231f20" stroke-width="0.12" text-anchor="middle">300</text>
<line x1="156" y1="308.8" x2="156" y2="311.9" stroke="#231f20" stroke-width="1"/>
<text x="156" y="320.8" font-size="6.3" fill="#231f20" stroke="#231f20" stroke-width="0.12" text-anchor="middle">600</text>
<text transform="translate(14.2 264.9) rotate(-90)" font-size="8.8" fill="#231f20" stroke="#231f20" stroke-width="0.12" text-anchor="middle" textLength="67.5" lengthAdjust="spacingAndGlyphs">PC2 : 18.37% variance</text>
<text x="99.4" y="332.7" font-size="8.8" fill="#231f20" stroke="#231f20" stroke-width="0.12" text-anchor="middle" textLength="67" lengthAdjust="spacingAndGlyphs">PC1 : 46.63% variance</text>
<circle cx="45" cy="247" r="1.4" fill="#b0102b"/>
<polygon points="61.8,238.4 63.7,241.8 59.9,241.8" fill="#b0102b"/>
<rect x="64.1" y="303.9" width="2.7" height="2.7" fill="#b0102b"/>
<polygon points="117.7,222.9 119.6,226.3 115.8,226.3" fill="#1d3b7e"/>
<circle cx="128" cy="245.9" r="1.4" fill="#1d3b7e"/>
<rect x="152.3" y="280.5" width="2.7" height="2.7" fill="#1d3b7e"/>
<rect x="203.5" y="221" width="119.5" height="87.8" fill="none" stroke="#231f20" stroke-width="1.3"/>
<text x="203.2" y="216" font-size="9.2" fill="#231f20" stroke="#231f20" stroke-width="0.12" textLength="34.1" lengthAdjust="spacingAndGlyphs">ChIP-seq</text>
<line x1="200.1" y1="225.3" x2="203.5" y2="225.3" stroke="#231f20" stroke-width="1"/>
<text x="198.4" y="227.5" font-size="6.3" fill="#231f20" stroke="#231f20" stroke-width="0.12" text-anchor="end">100</text>
<line x1="200.1" y1="252.6" x2="203.5" y2="252.6" stroke="#231f20" stroke-width="1"/>
<text x="198.4" y="254.8" font-size="6.3" fill="#231f20" stroke="#231f20" stroke-width="0.12" text-anchor="end">0</text>
<line x1="200.1" y1="279.8" x2="203.5" y2="279.8" stroke="#231f20" stroke-width="1"/>
<text x="198.4" y="282" font-size="6.3" fill="#231f20" stroke="#231f20" stroke-width="0.12" text-anchor="end">&#8722;100</text>
<line x1="200.1" y1="307.1" x2="203.5" y2="307.1" stroke="#231f20" stroke-width="1"/>
<text x="198.4" y="309.3" font-size="6.3" fill="#231f20" stroke="#231f20" stroke-width="0.12" text-anchor="end">&#8722;200</text>
<line x1="213.5" y1="308.8" x2="213.5" y2="311.9" stroke="#231f20" stroke-width="1"/>
<text x="213.5" y="320.8" font-size="6.3" fill="#231f20" stroke="#231f20" stroke-width="0.12" text-anchor="middle">&#8722;200</text>
<line x1="238.5" y1="308.8" x2="238.5" y2="311.9" stroke="#231f20" stroke-width="1"/>
<text x="238.5" y="320.8" font-size="6.3" fill="#231f20" stroke="#231f20" stroke-width="0.12" text-anchor="middle">&#8722;100</text>
<line x1="264" y1="308.8" x2="264" y2="311.9" stroke="#231f20" stroke-width="1"/>
<text x="264" y="320.8" font-size="6.3" fill="#231f20" stroke="#231f20" stroke-width="0.12" text-anchor="middle">0</text>
<line x1="289.1" y1="308.8" x2="289.1" y2="311.9" stroke="#231f20" stroke-width="1"/>
<text x="289.1" y="320.8" font-size="6.3" fill="#231f20" stroke="#231f20" stroke-width="0.12" text-anchor="middle">100</text>
<line x1="314.3" y1="308.8" x2="314.3" y2="311.9" stroke="#231f20" stroke-width="1"/>
<text x="314.3" y="320.8" font-size="6.3" fill="#231f20" stroke="#231f20" stroke-width="0.12" text-anchor="middle">200</text>
<text transform="translate(178.4 264.9) rotate(-90)" font-size="8.8" fill="#231f20" stroke="#231f20" stroke-width="0.12" text-anchor="middle" textLength="67.5" lengthAdjust="spacingAndGlyphs">PC2 : 19.24% variance</text>
<text x="263.3" y="332.7" font-size="8.8" fill="#231f20" stroke="#231f20" stroke-width="0.12" text-anchor="middle" textLength="67" lengthAdjust="spacingAndGlyphs">PC1 : 52.03% variance</text>
<rect x="207" y="223.7" width="2.7" height="2.7" fill="#1d3b7e"/>
<circle cx="215.3" cy="240.5" r="1.4" fill="#1d3b7e"/>
<polygon points="225.3,303.1 227.2,306.5 223.4,306.5" fill="#1d3b7e"/>
<circle cx="299" cy="227.2" r="1.4" fill="#b0102b"/>
<rect x="314" y="230.8" width="2.7" height="2.7" fill="#b0102b"/>
<polygon points="317.2,284.7 319.1,288.1 315.3,288.1" fill="#b0102b"/>
<rect x="361.5" y="221" width="120.6" height="87.8" fill="none" stroke="#231f20" stroke-width="1.3"/>
<text x="360.9" y="216" font-size="9.2" fill="#231f20" stroke="#231f20" stroke-width="0.12" textLength="34.3" lengthAdjust="spacingAndGlyphs">RNA-seq</text>
<line x1="358.1" y1="222.3" x2="361.5" y2="222.3" stroke="#231f20" stroke-width="1"/>
<text x="356.3" y="224.5" font-size="6.3" fill="#231f20" stroke="#231f20" stroke-width="0.12" text-anchor="end">30</text>
<line x1="358.1" y1="236.8" x2="361.5" y2="236.8" stroke="#231f20" stroke-width="1"/>
<text x="356.3" y="239" font-size="6.3" fill="#231f20" stroke="#231f20" stroke-width="0.12" text-anchor="end">20</text>
<line x1="358.1" y1="250.8" x2="361.5" y2="250.8" stroke="#231f20" stroke-width="1"/>
<text x="356.3" y="253" font-size="6.3" fill="#231f20" stroke="#231f20" stroke-width="0.12" text-anchor="end">10</text>
<line x1="358.1" y1="264.7" x2="361.5" y2="264.7" stroke="#231f20" stroke-width="1"/>
<text x="356.3" y="266.9" font-size="6.3" fill="#231f20" stroke="#231f20" stroke-width="0.12" text-anchor="end">0</text>
<line x1="358.1" y1="278.9" x2="361.5" y2="278.9" stroke="#231f20" stroke-width="1"/>
<text x="356.3" y="281.1" font-size="6.3" fill="#231f20" stroke="#231f20" stroke-width="0.12" text-anchor="end">&#8722;10</text>
<line x1="358.1" y1="292.9" x2="361.5" y2="292.9" stroke="#231f20" stroke-width="1"/>
<text x="356.3" y="295.1" font-size="6.3" fill="#231f20" stroke="#231f20" stroke-width="0.12" text-anchor="end">&#8722;20</text>
<line x1="358.1" y1="307.1" x2="361.5" y2="307.1" stroke="#231f20" stroke-width="1"/>
<text x="356.3" y="309.3" font-size="6.3" fill="#231f20" stroke="#231f20" stroke-width="0.12" text-anchor="end">&#8722;30</text>
<line x1="389.4" y1="308.8" x2="389.4" y2="311.9" stroke="#231f20" stroke-width="1"/>
<text x="389.4" y="320.8" font-size="6.3" fill="#231f20" stroke="#231f20" stroke-width="0.12" text-anchor="middle">&#8722;30</text>
<line x1="421.2" y1="308.8" x2="421.2" y2="311.9" stroke="#231f20" stroke-width="1"/>
<text x="421.2" y="320.8" font-size="6.3" fill="#231f20" stroke="#231f20" stroke-width="0.12" text-anchor="middle">0</text>
<line x1="453.3" y1="308.8" x2="453.3" y2="311.9" stroke="#231f20" stroke-width="1"/>
<text x="453.3" y="320.8" font-size="6.3" fill="#231f20" stroke="#231f20" stroke-width="0.12" text-anchor="middle">30</text>
<text transform="translate(339.4 264.9) rotate(-90)" font-size="8.8" fill="#231f20" stroke="#231f20" stroke-width="0.12" text-anchor="middle" textLength="67.5" lengthAdjust="spacingAndGlyphs">PC2 : 16.29% variance</text>
<text x="421.6" y="332.7" font-size="8.8" fill="#231f20" stroke="#231f20" stroke-width="0.12" text-anchor="middle" textLength="57" lengthAdjust="spacingAndGlyphs">PC1 : 71% variance</text>
<circle cx="370.3" cy="226.2" r="1.4" fill="#1d3b7e"/>
<rect x="372.8" y="257.8" width="2.7" height="2.7" fill="#1d3b7e"/>
<polygon points="366.4,302.8 368.3,306.2 364.5,306.2" fill="#1d3b7e"/>
<polygon points="477,222.5 478.9,225.9 475.1,225.9" fill="#b0102b"/>
<rect x="467.4" y="269.4" width="2.7" height="2.7" fill="#b0102b"/>
<circle cx="472.4" cy="303.2" r="1.4" fill="#b0102b"/>
<circle cx="486.6" cy="247.1" r="1.4" fill="#3b1d5e"/>
<polygon points="486.6,252.1 488.4,255.3 484.8,255.3" fill="#3b1d5e"/>
<rect x="485.3" y="259.2" width="2.6" height="2.6" fill="#3b1d5e"/>
<circle cx="486.6" cy="275.6" r="1.4" fill="#b0102b"/>
<circle cx="486.6" cy="282.4" r="1.4" fill="#1d3b7e"/>
<text x="491" y="248.9" font-size="5.0" fill="#231f20" stroke="#231f20" stroke-width="0.12" textLength="18.6" lengthAdjust="spacingAndGlyphs">UPN 16</text>
<text x="491" y="255.7" font-size="5.0" fill="#231f20" stroke="#231f20" stroke-width="0.12" textLength="18.6" lengthAdjust="spacingAndGlyphs">UPN 17</text>
<text x="491" y="262.3" font-size="5.0" fill="#231f20" stroke="#231f20" stroke-width="0.12" textLength="18.6" lengthAdjust="spacingAndGlyphs">UPN 19</text>
<text x="491" y="277.4" font-size="5.0" fill="#231f20" stroke="#231f20" stroke-width="0.12" textLength="10.5" lengthAdjust="spacingAndGlyphs">AML</text>
<text x="502.3" y="273.9" font-size="3.3" fill="#231f20" stroke="#231f20" stroke-width="0.12" textLength="9.8" lengthAdjust="spacingAndGlyphs">MOCK</text>
<text x="491" y="284.2" font-size="5.0" fill="#231f20" stroke="#231f20" stroke-width="0.12" textLength="10.5" lengthAdjust="spacingAndGlyphs">AML</text>
<text x="502.3" y="280.7" font-size="3.3" fill="#231f20" stroke="#231f20" stroke-width="0.12" textLength="6" lengthAdjust="spacingAndGlyphs">Aza</text>
<text x="7.2" y="360.2" font-size="12" fill="#000" font-weight="bold">D</text>
<path d="M90.3 394.8h0M85.2 393.8h0M88.5 413.4h0M89.8 423.5h0M91.8 391.6h0M96.2 402.5h0M89.5 394.4h0M98.2 394h0M86.8 393.8h0M97.2 397.7h0M92.6 414.8h0M90.8 389.3h0M98.2 386.7h0M95.5 432.1h0M90.2 420.7h0M97.5 423.3h0M90.9 418.6h0M97 383.4h0M98.5 396.6h0M97.3 386.3h0M95.1 390.6h0M93.2 429.3h0M93.8 399.2h0M93.8 400.1h0M95 436.8h0M91.3 398.7h0M88.7 426.7h0M89.2 400.7h0M91.1 414.1h0M100.8 415h0M90.1 428.3h0M96.1 434.3h0M87.1 392h0M93.5 406.5h0M89.7 430.7h0M100.8 389h0M97.4 422.4h0M87.8 402.1h0M93.2 417.8h0M97.8 429.4h0M87.7 419.8h0M96.8 397.7h0M87.1 386.3h0M88.5 403.4h0M97.9 387.1h0M97.4 387.1h0M88.2 424.2h0M94.8 380.8h0M90.6 391.1h0M84.9 398.3h0M90.8 389.9h0M87 428.3h0M91.5 424h0M98.2 434.1h0M97.3 381.2h0M97.4 407.1h0M91.2 407.7h0M98.2 426.5h0M96.2 392.8h0M100.2 399.2h0M86.5 414.4h0M98.7 438.9h0M97.5 429h0M86.9 400.2h0M83.8 430.2h0M88.9 415.2h0M99.4 387h0M92.1 402.6h0M100.2 383.6h0M96.7 434.8h0M94.7 435h0M96.6 392.8h0M95.1 393.7h0M93 420.8h0M97 400.8h0M89.1 390h0M95.9 381h0M95.3 389.3h0M94 400h0M90 414.9h0M95.9 401.7h0M99.1 396.2h0M99.6 381.4h0M96.6 436.9h0M93.5 403h0M93.7 406.6h0M92.9 381.6h0M87.8 424.3h0M97.2 428.9h0M91.8 390.1h0M89 433.1h0M86.3 406.5h0M88.7 404h0M94.4 401.1h0M97.3 401.1h0M92.9 424.5h0M95.7 422.1h0M94.7 381.3h0M94.6 423.1h0M100.5 397.4h0M98 416.6h0M98.5 379.3h0M94.9 418h0M92.1 395.1h0M90.7 392.6h0M99.8 419.5h0M87.9 422h0M95.5 389h0M99.5 434.5h0M99.3 425h0M87.6 433.9h0M75.1 418.1h0M100 405.5h0M90 424h0M94.5 383.8h0M100 380.3h0M90 383h0M93.2 416.3h0M98.1 389.6h0M87.5 397.1h0M99.2 397h0M100.3 403.6h0M97.6 392.1h0M86 406.6h0M100 404.4h0M90.9 424.1h0M93.3 419.9h0M91.5 422.3h0M98.8 438.6h0M90.8 399.5h0M99.7 415.7h0M100.4 418.5h0M90.7 422.2h0M90.3 401.9h0M97.9 388h0M85.1 422.9h0M95.6 403.3h0M99.8 437h0M97.3 415.1h0M80.1 415.1h0M90.1 423.2h0M95.4 406.5h0M89.1 413.7h0M99.4 436.6h0M91.3 396.7h0M96 421.8h0M94 417.3h0M95.5 386.8h0M92 425.5h0M91.6 417.1h0M96.7 405.5h0M89.1 414.5h0M95.2 395.6h0M90.3 402.7h0M89.7 387.6h0M98.6 432.5h0M92.7 415.9h0M99.3 432.4h0M88.4 386.4h0M94.1 432.8h0M97.4 403.1h0M99.9 399.3h0M88.5 431.6h0M96 402.3h0M97.8 430.8h0M92.5 379.1h0M95.4 418.2h0M96.4 425.5h0M81.7 423.6h0M90.5 385.9h0M86.9 384.2h0M93.8 402h0M91.1 393.4h0M88.4 382.5h0M96.3 407.6h0M100.6 415.7h0M92.8 435.2h0M95.4 405.4h0M96.2 394.5h0M100.3 392.1h0M99.8 423.1h0M93.2 400.1h0M101 423.2h0M92.1 416.6h0M99 381.4h0M97.2 426.7h0M94 386.3h0M92.8 393.7h0M93.3 379.9h0M95 398.9h0M99.2 405.3h0M100.5 426.9h0M100.2 405.5h0M100 404.3h0M92 415h0M93.7 423.7h0M100.9 394.5h0M97.3 434h0M93 401.4h0M94.7 387.5h0M99.6 388.4h0M92.2 403.6h0M85.2 387.5h0M84.9 390.6h0M88.9 397.2h0M86.4 404.3h0M93.7 422.2h0M81.8 400h0M99.3 415h0M95 400h0M100.1 417.7h0M87.3 434.7h0M99.8 427.5h0M81.2 405.7h0M95.8 391.8h0M99.8 432.2h0M95.5 429.7h0M94.7 394.5h0M95.8 379.9h0M100.4 388.9h0M91.9 391.9h0M90.4 426.3h0M92.1 433.1h0M86.3 396.7h0M88 424.6h0M91.4 400.1h0M95.1 387.1h0M88.9 435.6h0M88.8 401.8h0M94.3 397.6h0M96.3 421.6h0M93.9 418.7h0M96.2 398.3h0M88.8 403.6h0M90 413.4h0M89.4 413.4h0M98.1 396.4h0M82.4 392.3h0M97.9 436.2h0M82.1 386.3h0M97.5 396.4h0M96.2 433.8h0M100.4 422.5h0M100.9 428.9h0M90.8 436.1h0M85.4 424.8h0M96.6 400.3h0M98.4 396.7h0M95.5 437.5h0M90.7 429.5h0M86.3 397.2h0M100.7 405.9h0M96.9 394.4h0M96.6 413.4h0M98.9 398h0M99.3 435.3h0M83.8 391.9h0M99.6 438h0M82.4 400.8h0M90.5 434.9h0M98.5 434.8h0M92.5 393.4h0M96.7 401.8h0M96.8 418.7h0M91.2 398.8h0M98 385.1h0M82.5 407.4h0M98.2 400.2h0M89 431.1h0M90.5 428.5h0M96.7 402.1h0M92.2 429.2h0M92.1 389.2h0M95 432.8h0M94.8 423.4h0M95.8 401h0M98.7 402.4h0M95.8 407.4h0M93.1 436.6h0M94.2 387.8h0M96.3 428.2h0M86.3 385.5h0M91.1 383.9h0M87.7 407.8h0M88 403.4h0M100 388.3h0M96.5 406.5h0M99.1 433.7h0M90.3 419.4h0M87.3 406.6h0M99 380h0M91.5 419.7h0M91.9 436.1h0M87.8 422.4h0M91.5 403.9h0M96.5 394.9h0M95.7 386h0M98 395.9h0M98.8 435.8h0M84 392.7h0M96.3 436.2h0M85.2 404.8h0M93.6 396.3h0M99.7 379.6h0M95.4 424.3h0M100.9 422.6h0M93.1 402.5h0M96.2 385.3h0M98.3 384.5h0M99.3 418.3h0M94 404.8h0M94.3 434.7h0M97.8 405.5h0M96.6 424.2h0M95.8 385.1h0M88.7 383.5h0M91.7 402.6h0M97.1 418h0M92 405.2h0M96.7 386.7h0M87.8 381.6h0M98 405.2h0M100.3 400.9h0M85.8 404.9h0M97.6 418.2h0M96.8 423.7h0M95.6 436.4h0M91.1 423.8h0M91.5 397.3h0M98.2 399.3h0M90.1 422.9h0M94.3 388.9h0M95.1 387.9h0M86.5 407.4h0M88.3 385.6h0M95 395.5h0M99.6 388.8h0M95.5 405.5h0M95.7 420.6h0M96.1 431.4h0M100.7 435.9h0M90.3 405h0M94.4 420.5h0M88.6 384.2h0M90.9 386.2h0M99.7 426.9h0M93.2 429h0M95.6 386.4h0M95.8 382.2h0M99.2 422.1h0M86.4 435.4h0M92.4 393.9h0M94.2 393.6h0M90.1 397.2h0M92 434.9h0M88.7 415.4h0M96.7 431.7h0M98 380.3h0M96.5 432.3h0M99.2 421h0M98.7 423.9h0M98.2 391.2h0M98.9 404.7h0M96.1 415.5h0M99.8 381.5h0M94.2 398.1h0M98.1 433.3h0M94.2 420h0M93.5 435.3h0M88.4 390.4h0M90.4 404.1h0M96.4 397.3h0M95.3 395.5h0M93.1 385.6h0M93.4 381.8h0M91.7 397.7h0M86.3 434.9h0M94 425.8h0M91.8 426.5h0M87.4 414.9h0M91.4 393.9h0M95.9 431.6h0M95.6 417h0M92.1 397.2h0M99.6 388.1h0M92.2 381.8h0M91.7 384.2h0M100.8 430h0M98.2 406.7h0M99.2 414.3h0M87.1 427.7h0M95.8 429.6h0M96.9 436.5h0M99.5 405.7h0M94.4 399.4h0M87.3 400.3h0M92.1 436.5h0M87.4 430.5h0M83 422.3h0M91.9 391.8h0M95 423.5h0M92.3 405.1h0M88.9 393h0M97.5 386.9h0M92 426.3h0M96.7 413.7h0M91 392.9h0M95 420h0M90 431.7h0M84.4 406.4h0M100.2 422h0M92.5 395.5h0M87.3 396.1h0M96.3 425.4h0M86.5 427h0M99.5 422.1h0M96.4 418.6h0M92.8 389.9h0M95.7 392.8h0M92.2 401.2h0M93.2 437.1h0M100.6 396.2h0M99.5 395.6h0M95.4 426.1h0M96.3 389.5h0M89.9 395.9h0M93.2 435.4h0M89.6 419.1h0M99.9 396.6h0M98.5 413.9h0M96.5 383h0M89.9 433.1h0M95.3 405.8h0M87.2 390.5h0M87.5 391.4h0M91 426.9h0M92.4 391.5h0M100.3 388.2h0M94.8 413.9h0M80.4 422.7h0M93 388.9h0M93 381.7h0M95.2 387.1h0M96 402.9h0M90.1 381.6h0M93.7 421.6h0M86.8 402.3h0M90 423.8h0M92.6 398.1h0M93.5 429.1h0M99.6 418.6h0M99.8 433.1h0M92.4 402.5h0M100.1 387.2h0M95.8 417.2h0M100.7 415.5h0M97.3 398.8h0M84.4 403.5h0M89.5 416.6h0M94.2 436.4h0M96.1 402.3h0M89.4 426.7h0M93 405.2h0M94.2 383.1h0M94.9 417.4h0M93.8 389.9h0M92.2 383.9h0M97.2 437.1h0M95.4 403.9h0M99.2 415.8h0M94.7 398.6h0M96.8 418h0M92.3 413.7h0M98.5 386h0M89.7 402h0M98 397.9h0M96.3 390.9h0M96 419.8h0M98.8 393.5h0M96.4 401h0M86.9 406.6h0M96 396.1h0M96.1 425.6h0M92 388.8h0M93.3 434.9h0M90.7 390.9h0M97.3 393.4h0M96.8 406.9h0M90.2 394.8h0M88.2 406.3h0M100.2 422.2h0M89.1 419.6h0M98.3 403h0M95.9 379.5h0M98.6 401.3h0M94.3 400.9h0M88.4 425.6h0M96.6 389.1h0M86.5 390.9h0M97.5 402.3h0M95.3 425.7h0M88.7 383.9h0M90.5 424h0M85.4 391.2h0M94.8 418.3h0M91 421.1h0M94.8 383.1h0M100.1 397.6h0M92.3 402.5h0M94.6 435.6h0M80.3 397.1h0M99.8 428.5h0M86.3 431.5h0M96.1 383.8h0M87.6 420.5h0M99.4 389.6h0M99.4 396.6h0M84.2 418.3h0M88.4 420h0M92.2 400.9h0M83.5 406.2h0M86.1 417.5h0M87.6 433.3h0M88.4 394.8h0M97.4 417.1h0M92.3 422.6h0M79.7 421.5h0M90 420.2h0M99 382.9h0M82.8 395.7h0M100.1 376.7h0M96.7 400.3h0M78.2 395.8h0M86.7 406.6h0M100.4 395h0M94.3 404.3h0M98.9 405.2h0M84.9 393h0M92.6 386.7h0M100.3 400.9h0M97.9 402.2h0M93.1 422.2h0M96.1 423.6h0M97.9 436.8h0M89.5 392.3h0M94.5 427.4h0M99.5 438.3h0M92 382.2h0M100.9 378.5h0M93 413.6h0M85.1 395.4h0M93.2 398.9h0M89.2 415.3h0M99.6 397.5h0M92.7 397.2h0M96.4 400.8h0M99.6 425.8h0M94.4 424h0M87.6 419.5h0M97.1 381.6h0M89.3 414.2h0M95.4 385.7h0M96.4 386h0M81.9 425h0M95.5 418.6h0M97.2 405.1h0M95.2 437h0M95.9 429.2h0M89.3 407.5h0M97.2 418.7h0M82.7 431.8h0M99 435.3h0M87.6 429.1h0M97.2 403.2h0M95.5 402.1h0M89.9 392.8h0M100.7 391.4h0M95.8 429.8h0M85.5 420.3h0M82 392.1h0M99 432.9h0M99 433.7h0M99.8 414.5h0M88.7 426.5h0M94.4 395.9h0M86.9 421h0M94.7 436.8h0M95.5 414.9h0M100.5 430h0M89.1 434.8h0M96.8 417.7h0M98.9 393.8h0M94.2 387.5h0M89.4 431.6h0M97.8 418.5h0M89.3 385.8h0M96.7 391.8h0M94.6 394.5h0M93.9 401.3h0M87.2 394.7h0M100.5 385.9h0M84.8 397h0M99.5 386.1h0M97.7 420.1h0M88.2 428.3h0M100.3 394.6h0M97.2 382.3h0M96.9 389.7h0M89.3 425h0M87 397.1h0M88.6 382.3h0M95.3 388h0M100.3 388.9h0M89.7 427.3h0M94.9 396.5h0M93.2 389.2h0M95.2 419.7h0M87.6 432.1h0M96.5 415.5h0M87.5 393h0M89.2 399.9h0M84.8 434h0M93.5 406.1h0M88.8 403.1h0M92 390.2h0M99.1 431h0M80.5 420.5h0M88.9 418.5h0M90.4 391.2h0M87.1 403.3h0M97.2 422.8h0M94.9 425.1h0M94 385.1h0M97.8 379.8h0M96.7 384.5h0M88.2 420.6h0M98.7 433.6h0M74.6 424.8h0M97.7 434.4h0M94.1 399.2h0M92.9 404h0M92.7 432.2h0M98.7 430.6h0M96.1 382.8h0M95.6 394.7h0M98 393.1h0M94.3 396.4h0M92.6 421.9h0M92 399.4h0M85.9 435.7h0M99 401.6h0M92.9 384.8h0M127.4 405.6h0M128.2 400.8h0M132.8 434.7h0M121.8 396.3h0M134 383.1h0M121.2 431.1h0M129.5 399.8h0M121.6 402.9h0M136.4 390.4h0M134.2 428.3h0M130.1 391.8h0M120.2 393.3h0M125.9 405h0M136.8 399.4h0M129.7 436.7h0M120.1 432.2h0M131 389.2h0M135.6 391h0M127.2 387.6h0M128.4 419.6h0M128.9 396.4h0M142.5 423.7h0M122.2 394.8h0M133.4 391.3h0M142.4 425.2h0M125.3 404.5h0M148.2 420.9h0M136.7 393.5h0M140.1 403.2h0M123.6 418.8h0M123.8 421.1h0M137.2 382.2h0M133.4 418.2h0M132.4 417.2h0M132.2 431.8h0M134.3 396.6h0M138.9 424.8h0M124.2 421.2h0M126.4 428.7h0M121.3 386.3h0M131 383.4h0M138.3 422.8h0M121.4 388.9h0M130.7 398.3h0M132.2 422h0M130.7 435.3h0M122.7 423.6h0M141.4 405.7h0M139.2 395.1h0M141.5 413.5h0M129.7 418.5h0M141 431.8h0M140.7 394.2h0M139.5 388.7h0M141.2 387.8h0M127.6 424.8h0M131.2 389.3h0M133.7 397h0M127 391.8h0M123.3 382.4h0M120.4 429.7h0M123.7 388.1h0M138.7 385.9h0M126.1 400.3h0M124.7 417.5h0M121.3 381.2h0M135.9 402.6h0M135.4 407.6h0M122.1 393.8h0M133.6 422.6h0M121.5 394.6h0M124.8 391.3h0M125.7 414.5h0M136 393.8h0M128.2 407.8h0M122.8 415.6h0M139.3 385.5h0M139.1 403.8h0M132.9 391.8h0M131.8 417.9h0M134.5 430.8h0M129.6 403.9h0M121.8 424.1h0M133.9 421.8h0M134.7 392.9h0M120.2 404.4h0M129.2 419h0M144.2 425.3h0M122.8 382.4h0M119.6 433.7h0M121.9 382.3h0M125.1 405.7h0M124.6 388.4h0M140 385.3h0M124.3 394.6h0M126.8 381.3h0M141.2 392h0M135.7 419.5h0M138.1 389.5h0M138 406.7h0M120.1 393.9h0M123.7 419h0M127.6 427h0M140.9 398.7h0M120.7 403.9h0M128.1 425h0M140.4 401.6h0M125 426.2h0M129.3 386.2h0M136.9 424.6h0M123.6 419h0M124.3 398.7h0M131.2 426.8h0M122.2 386.5h0M126.1 434.4h0M132.1 399.5h0M125.2 388.9h0M124.8 403.6h0M135.2 414.1h0M120.8 397.6h0M125.3 417.3h0M140.1 426.8h0M122.1 398.7h0M127.5 380.6h0M132.2 389.8h0M127 427.4h0M131 381.1h0M120.1 399.3h0M126.9 429.3h0M135.1 434.1h0M130.3 398h0M122.4 428h0M135 435.1h0M140.4 399.6h0M132.5 404.4h0M139.5 432.6h0M120.6 395.4h0M121.2 427.2h0M138.9 384h0M126.6 381.1h0M134.9 419.8h0M120.8 393.7h0M128.7 425.3h0M137.8 385.5h0M123.9 430.1h0M119.9 400.4h0M133.5 433.2h0M133.5 401.7h0M130.6 435.3h0M130.2 390.5h0M142.1 423.3h0M148.4 398.8h0M131 433.9h0M134.6 430.2h0M136.4 406.1h0M142.7 429.4h0M133.3 428h0M134 391.7h0M129 437.7h0M121.5 383.3h0M137.4 417.9h0M119.7 382.5h0M127.7 407.8h0M146.4 405.2h0M135.6 383.5h0M122.3 430h0M131.4 417.8h0M141.8 402.9h0M125.8 432.7h0M134.9 380.3h0M121.1 435.5h0M121.4 393.9h0M123.9 384.5h0M133.6 425.7h0M130.4 391.6h0M148.9 430.1h0M120.8 388.3h0M126.8 434.6h0M121 430.7h0M128.1 418.2h0M140.1 423.2h0M136.1 431.4h0M131.3 404.9h0M137.1 382.7h0M133.5 424.3h0M120.1 395.4h0M131.4 399.5h0M122 421.8h0M121.6 389.5h0M130.7 401.9h0M121.3 392.4h0M132.7 384.9h0M122.5 401.7h0M127.1 389.9h0M127.7 395.4h0M135 414.6h0M125.3 390.2h0M124.3 416h0M136.6 396.6h0M121.4 422.2h0M123.3 395.8h0M131.5 393.4h0M136.8 383.2h0M136.4 384.7h0M135.7 380.4h0M139.5 426.6h0M125.4 418.6h0M125.1 388h0M132.4 400.3h0M133.9 396.9h0M122.7 382.4h0M130.6 384h0M141.1 415.9h0M133.8 415.8h0M121.5 407.3h0M122.2 416.2h0M126.8 429.5h0M134.9 394.4h0M131.3 404.9h0M131.5 434.9h0M123.5 383.5h0M127.2 392.2h0M140.3 434.2h0M122.4 436.5h0M137.5 416.2h0M133.1 434.2h0M131.5 391h0M122.1 431.9h0M120.5 417.1h0M124.6 388.5h0M130.2 423.1h0M124.1 432.5h0M125.3 421.9h0M121.9 379.7h0M133.9 407.9h0M138 384.3h0M137.9 402.7h0M129.6 406.9h0M135.8 386.7h0M130 402.6h0M132.1 395.4h0M141.4 387.1h0M130 386h0M127.8 384.7h0M126.8 398.7h0M133.6 400.2h0M139.1 429h0M123.5 396h0M132.8 416.9h0M121.5 400.6h0M119.9 388.5h0M126.1 392.8h0M130.5 404h0M120.3 435h0M129 391.8h0M129.3 400.6h0M134.9 432.9h0M131.8 400.5h0M119.5 388.3h0M127.1 438.7h0M122.4 381.3h0M132.4 384.3h0M139.8 431.2h0M128.5 393.1h0M140.8 416.8h0M122.2 395.5h0M128.4 396.7h0M121.4 396.7h0M129.5 413.6h0M139.5 415.2h0M126.7 394.1h0M126 425h0M140.1 434.1h0M130 427.8h0M130.5 417.1h0M139.3 421.6h0M133.1 396.4h0M122.8 388.3h0M137.1 387.7h0M130.8 406.9h0M133.5 429.1h0M141.4 416h0M146.9 406.4h0M123.6 385.5h0M131.3 405.7h0M145.1 415.2h0M132 433.4h0M137.4 390h0M125 427.4h0M132.9 386.6h0M123.5 402.5h0M121.6 432.4h0M120.9 401.2h0M133.2 400.3h0M124 435.1h0M129.9 381.2h0M127.7 429.7h0M129.3 392.1h0M135.1 390.9h0M136.8 422.2h0M128.4 419.8h0M129.4 415.3h0M125.2 386.9h0M134.2 398.9h0M124 391.1h0M121.4 434h0M140.4 414.1h0M120.8 393.8h0M130.8 396.2h0M131.2 390.1h0M135.7 436.2h0M120.8 438.5h0M139 417.1h0M130.9 379.6h0M130.3 380.3h0M133.8 415.4h0M131.4 433.7h0M120.9 436.8h0M130.9 427.7h0M125.8 422.5h0M135.8 436.9h0M137.2 418.6h0M123.5 398h0M130.9 406.3h0M136.1 390.1h0M133.9 421h0M123.5 401.7h0M123.9 418.2h0M122.6 387.9h0M144.2 424.9h0M128.4 387h0M123.8 416.1h0M125.3 406.5h0M130.5 403.6h0M130.9 397h0M136.9 434.7h0M136 429.8h0M120.5 392.5h0M125.3 419.3h0M132.9 430.8h0M128.8 421.4h0M152.7 419.1h0M120.7 391.8h0M145.3 397.4h0M134.6 424.6h0M129.6 418.4h0M121.3 417h0M136.4 389.7h0M124.9 393.4h0M134.6 400.1h0M135.5 394.3h0M125.8 435.4h0M148.5 393.2h0M140.3 432.6h0M120.7 418.7h0M121 424.3h0M124.7 389h0M133.2 393.6h0M126.3 417.2h0M136.5 424.7h0M119.7 402.4h0M132.3 386.9h0M126.9 400.8h0M129.3 404h0M133.1 425.4h0M127.8 416.4h0M131.8 417.4h0M128.1 380h0M128.6 382.9h0M140.4 424.3h0M128.8 380.4h0M126.3 405.9h0M126.1 402.8h0M135.2 431h0M130.2 397.4h0M121.7 381.8h0M147.7 392.8h0M122.7 435.9h0M124.5 423.3h0M128.3 393.5h0M124.6 405.8h0M135.3 433h0M129.5 418.3h0M138.2 416.1h0M119.6 428.3h0M130.2 405.5h0M134.7 404.6h0M125.4 429.4h0M132.2 380.4h0M145 389.5h0M129.5 427.5h0M121.3 437.3h0M135.1 407.6h0M136.8 397.2h0M138.5 386.7h0M124.8 435.3h0M132.7 383.4h0M126.4 396.4h0M131.4 406.3h0M124.4 424.5h0M141.3 398.5h0M131.4 430.2h0M137.9 385.1h0M129.4 389.8h0M138.4 435.3h0M140.6 396.1h0M133.8 386.4h0M137.9 385.2h0M133.9 381.2h0M121.5 430.8h0M137.4 422.9h0M123 421.6h0M132.3 403.8h0M122.9 437.7h0M137.4 396.9h0M123.7 404.5h0M132 433.7h0M133.7 406h0M131.7 385.8h0M134.5 400.3h0M121.3 380.3h0M135.6 429.2h0M131.6 414.5h0M128 425.3h0M135 417.3h0M119.8 379.6h0M137.9 413.3h0M134.5 425.9h0M132.4 429.2h0M130.9 394.3h0M133.8 419.6h0M131.4 413.8h0M137 401h0M141.2 388.6h0M133.4 406.5h0M127.4 418.7h0M121.6 403.5h0M139.1 426.6h0M131.4 430.6h0M136.9 432.8h0M126.4 381.2h0M127.8 402.5h0M122.7 392.1h0M130.3 435.1h0M135 391.6h0M123.8 436.9h0M135.8 396.6h0M125.7 387.4h0M125.5 402.7h0M128.9 421.5h0M121.6 430.1h0M128.7 392.9h0M128.8 421.7h0M129.8 414.8h0M126.2 427h0M127.2 386.4h0M136.2 435.8h0M122.6 415.7h0M133.1 417.1h0M121 399.5h0M120.3 401h0M133.6 400.7h0M131.1 428.5h0M129.6 384.5h0M128.2 431.7h0M142.4 393.3h0M119.8 417.2h0M132.7 429.9h0M140.2 429.4h0M133.3 425.8h0M124.4 392.5h0M133.6 414.5h0M121.3 389.6h0M130.9 386h0M125.4 406.5h0M125.2 383.9h0M136.6 436.1h0M123.9 399.4h0M137.5 426.9h0M130.5 436.5h0M130.3 439.1h0M139.7 429.9h0M139 416.6h0M122.8 385.3h0M130.5 423.8h0M129.1 425.8h0M131.9 387.5h0M143.1 404.5h0M131.8 434.4h0M142 404.2h0M125.4 416.4h0M123.6 388.6h0M136.4 392.5h0M132.7 392h0M138.3 389.6h0M124.4 433.3h0M136.4 432.8h0M125.6 422.4h0M146.1 430.7h0M122.2 415.2h0M128.3 421.8h0M126.2 388.1h0M131.4 430.1h0M141.7 393.6h0M124.7 437.2h0M123 432.3h0M119.6 427.8h0M130.2 390.3h0M126.7 401.1h0M124.1 430.8h0M120.5 385.5h0M123.7 397.1h0M133.2 417.7h0M145.4 392.2h0M133.9 404.9h0M120 387.7h0M134.2 389.2h0M131.1 434.3h0M122.1 438.2h0M125.5 397.5h0M136 400.6h0M123.1 425.9h0M124.9 384.1h0M122.6 414.4h0M142.8 434.2h0M147.6 417.9h0M124.7 426.1h0M144.9 385h0M133.6 396.8h0M122.4 397h0M137.5 407.9h0M133.1 422.9h0M124.5 395.1h0M119.5 405.6h0M124.8 416.3h0M134.7 385.2h0M125.8 431.8h0M131.4 435.1h0M140.1 403.9h0M128 384.3h0M137.2 407.6h0M149.6 403.2h0M125.7 418.7h0M120.4 402.1h0M136.5 383.6h0M139.2 392.3h0M127.7 437.1h0M129.8 404.4h0M123.5 424.9h0M122 415.8h0M122 381.4h0M123.8 381.4h0M120.2 386.7h0M135 390.9h0M135.8 393.4h0M121.8 395.2h0M133.4 395.5h0M123.1 379.2h0M122 428.6h0M126.8 387.1h0M137.9 431.1h0M126.4 404.3h0M126.4 395.3h0M122.7 403.6h0M134.1 398.1h0M121.8 379.1h0M120.7 433h0M147.2 429.2h0M133.3 380.6h0M122 435.7h0M138 396.5h0M128.1 384.9h0M135.3 417.4h0M129.1 414.5h0M129.9 426.3h0M128.5 419.7h0M138.4 405.2h0M129.3 401.6h0M148 420.4h0M128.6 393.4h0M120.4 425.6h0M129 423h0M125.1 422.9h0M124.4 420h0M131.7 424.8h0M120.3 389.7h0M134.4 437.2h0M119.7 432.2h0M135.3 401h0M134.7 401.6h0M138.1 423.3h0M128.8 401.2h0M129.6 397h0M125.7 417.8h0M127.7 423.4h0M139.2 430h0M121.6 385.9h0M123.1 429.3h0M123.1 433.9h0M132 398.8h0M120.2 391.5h0M132.6 418.4h0M121 421.6h0M121.3 436.8h0M132.9 379.6h0M131.8 432h0M135.3 395h0M133.7 415.2h0M136.9 396.1h0M131.9 389.8h0M122.2 403.1h0M129.8 436.2h0M123.6 386.1h0M132.9 385h0M120.8 413.6h0M130.4 426.9h0M127.8 406.1h0M122.1 380.7h0M123.2 395.6h0M121.7 424.8h0M146.8 413.6h0M122 379.9h0M122.1 405.4h0M119.9 387.4h0M126.8 386.1h0M129.3 419.1h0M133 392.8h0M119.6 401.3h0M123.2 385.9h0M135.8 399.5h0M123.2 396.2h0M126.5 418h0M129.8 421.4h0M133.4 382.8h0M141.6 384.2h0M131.2 415.8h0M125.6 382.3h0M122.6 416.1h0M141.2 421h0M131.7 388.9h0M132 431h0M136.3 382.4h0M135.5 428.8h0M120.9 417.9h0M136.6 406h0M126.7 407.3h0M140.4 422.8h0M123.7 388.6h0M134.6 423.6h0M135.2 416.6h0M124.5 382.3h0M132.9 432.5h0M133.9 431.1h0M126.6 382.9h0M126.1 430.3h0M125.9 420.1h0M136.7 398.7h0M121.3 385.7h0M132.8 415.5h0M121.2 387h0M123.3 392.8h0M122.9 388.6h0M136.8 419.6h0M136.1 417.8h0M127.3 386.4h0M136.3 396.1h0M147.6 428.5h0M123.8 423.5h0M126.8 423.3h0M134.5 418.7h0M129.8 401.9h0M128.2 413.3h0M120.4 394.9h0M123.1 399.8h0M127.2 396.1h0M123.9 380.2h0M126.4 386.2h0M120.8 392.4h0M140.7 383.9h0M137.3 424h0M120.5 380.6h0M133.4 430.2h0M134.3 401.2h0M127.9 430.5h0M126.3 386.6h0M126.8 391.9h0M133.5 395.8h0M122.1 406.9h0M122.1 422.2h0M125.8 388.2h0M131.4 430.5h0M131 432.8h0M122.4 397.5h0M129.5 437.3h0M139.4 393.9h0M138.7 434.4h0M146.2 405.5h0M134.6 404.6h0M142.7 403.8h0M121.9 399.5h0M123.4 396h0M136.9 431.9h0M120.5 403.2h0M141.7 399.9h0M144.5 431.3h0M129.3 422.6h0M135.7 391.9h0M140.6 429.3h0M136.9 427.5h0M121.8 387.3h0M134 402.9h0M126.1 400h0M121.4 423.8h0M138 416.2h0M121.2 379.5h0M133.8 388.5h0M124.6 396.8h0M121.7 385.5h0M130 425.2h0M130.4 429.5h0M131.6 421h0M140.4 418.2h0M130.7 388.9h0M138.7 395.9h0M120.8 423.6h0M131.6 384.7h0M126.9 394.8h0M139.3 423.9h0M123.3 385.3h0M127.2 407.5h0M125.7 428.6h0M129.1 437.8h0M123.3 427.9h0M132 404.9h0M134.2 430.4h0M123.6 429.7h0M129.2 431.1h0M130.6 413.3h0M122.7 400.6h0M135.3 403.4h0M120.9 418.7h0M130.1 382.7h0M133.1 381.9h0M126.7 421.1h0M124.1 402h0M128.5 436h0M146.1 427.1h0M124.3 386.1h0M140.5 389.6h0M133.9 379.5h0M128.5 381.9h0M123.2 379.7h0M130.9 393.5h0M120.7 394.6h0M125.7 392.1h0M139.1 424h0M127.3 415.2h0M127.6 394.9h0M138.4 422.7h0M127.2 418.7h0M120.7 384.1h0M138.3 422.6h0M145.3 427.5h0M145.7 400.8h0M122.7 420.7h0M137.4 431.5h0M130 433.7h0M123.4 429.4h0M123.7 381.3h0M123.1 436.2h0M137.3 406.6h0M121.7 398.6h0M120.8 404.7h0M125.3 436h0M126.9 405h0M130.9 433h0M140.3 401.8h0M132 428.8h0M125.9 384.3h0M122.5 414.2h0M142.9 387.2h0M128 393.3h0M128.3 399.4h0M133.1 415.2h0M156.5 395.7h0M129.6 420.9h0M125.2 407.4h0M136.4 417.5h0M132.5 399.3h0M126.8 430.1h0M127.7 415.5h0M120.1 436.8h0M133.8 421.2h0M131.3 391.6h0M123.5 436h0M139.3 418.5h0M139.8 420.7h0M120.2 382.9h0M136.5 384.8h0M141.8 426.5h0M119.6 382.4h0M121.5 431h0M126 401.6h0M120.2 394h0M122 384h0M128.5 423.9h0M142 436.5h0M130.1 425.8h0M127.3 401h0M121 427.8h0M133.3 386.6h0M126.6 381.3h0M133.1 389.9h0M137.3 436.2h0M127.3 423.4h0M123.5 401.8h0M130.7 421.8h0M122.8 422.1h0M144.8 407.5h0M122.6 406.9h0M143.7 388h0M137.2 383.5h0M119.7 416.7h0M135.2 420.5h0M156.2 423.8h0M132.3 424.7h0M121.1 379.3h0M131.5 419.9h0M120 416.2h0M127 383.2h0M124.7 386.8h0M122.6 427.2h0M130.3 419.4h0M130.8 395.7h0M127 396.3h0M140.4 433.8h0M135.5 435.4h0M125.6 422.3h0M126.5 402.7h0M123.1 389.3h0M132.3 400.7h0M138.4 428.3h0M129.7 395.2h0M133.3 392h0M139.5 419.3h0M124 400.8h0M127.1 419.3h0M130.9 414.2h0M122.7 384.6h0M131.4 416.5h0M137.3 405h0M134.2 402.1h0M125 404.8h0M136.7 380.9h0M131.6 426.8h0M125.6 418.2h0M133.9 401.6h0M128.1 423.2h0M125.9 393.5h0M121.3 386.2h0M140.4 424.7h0M132.7 435h0M129.1 419h0M129.1 432.2h0M127.5 385.9h0M144.5 417.7h0M141 427.5h0M129.8 425.1h0M132.4 424.3h0M147.6 424.6h0M140.3 424.2h0M132.5 392.3h0M119.6 427.8h0M135.8 383h0M122.1 386.3h0M128.1 424.8h0M134.7 427.4h0M131.3 437.6h0M123.3 431.6h0M137.5 416.1h0M130.4 384.8h0M130.9 425.3h0M126.4 418.4h0M136.2 413.4h0M128 387.1h0M120.6 421.8h0M133.8 436.5h0M131.4 380.8h0M128.9 387.7h0M147 405.9h0M133.4 393h0M151.6 397.1h0M132.2 398.6h0M124.5 380.1h0M131.7 423.9h0M132.8 425.4h0M125.2 424.6h0M129.9 418.2h0M134.5 391.6h0M132.5 401.5h0M130.8 407.4h0M120.7 395.6h0M122.4 435.4h0M136.7 433.4h0M133.8 398.7h0M123.1 400h0M139.7 433.8h0M134.1 390.4h0M126.8 437.2h0M74.6 377.2h0M83.1 377.9h0M87.6 379.6h0M80.9 383h0M83.3 382.5h0M86 386.2h0M81.3 387.3h0M53.2 388.3h0M79.4 391.2h0M82.3 391.2h0M76.5 396.7h0M75.1 397.9h0M71.3 398.4h0M71.3 403.2h0M79 403.5h0M56.3 404.1h0M63.1 405.4h0M82.3 408.5h0M57.1 413.8h0M59.2 414.9h0M57.3 418.6h0M57.3 424.8h0M59 426.3h0M53.3 429.3h0M57.3 431.3h0M64 416.7h0M66.2 415.2h0M66.4 416.8h0M66 422.2h0M71.5 414.7h0M71.7 417.6h0M73.2 417.1h0M71.7 422.4h0M73.7 418.6h0M74.1 420.5h0M76.5 422.4h0M74.6 425.8h0M74.8 428.2h0M74.8 431.6h0M78.5 415.2h0M79.4 434.2h0M81.8 436.4h0M82.8 433.2h0M84.2 429.6h0M85.7 433h0M142.9 378h0M166 381.3h0M149.6 383.3h0M148.5 385.7h0M159.2 386h0M150.6 389h0M160.7 389.5h0M171.3 388.1h0M178.5 388.4h0M157.3 391.4h0M161.6 391h0M167.9 392.4h0M168.4 393.8h0M163.1 394.3h0M149.1 394.3h0M155.4 396.3h0M160.7 395.8h0M166.9 396.3h0M178.5 394.8h0M149.1 398.2h0M150.6 399.1h0M155.9 398.7h0M161.6 398.2h0M166 399.6h0M155.4 401.1h0M160.2 402h0M189 401.5h0M155.9 403.9h0M165 403.9h0M169.8 403.9h0M171.3 406.3h0M168.8 407.8h0M150.6 406.8h0M147.7 399.1h0M167.4 414.7h0M166.2 417.1h0M162.6 415.2h0M160.2 416.7h0M158.3 418.1h0M155.9 420h0M162.6 421.5h0M165.8 423.4h0M156.5 424.3h0M152.5 417.1h0M151.5 426.8h0M149.6 430.6h0M157.3 428.2h0M159.2 429.3h0M155.4 433.5h0M157.8 433.5h0M162.6 434.7h0M147.7 438.6h0M178.3 418.8h0M178.3 428.5h0M181.8 435.4h0M188.6 420h0M188.6 428.7h0M168.7 408.5h0M207.4 401.3h0M194.4 414.8h0M194.4 419.5h0M199.4 417.9h0M195.6 423.7h0M188.9 428.9h0M207.4 418.2h0M210.4 414.8h0M211.3 414.5h0M251.6 420.6h0" stroke="#a3062c" stroke-width="2.8" stroke-linecap="round" fill="none"/>
<path d="M112.5 381.3h0M115.5 427h0M106.1 382.9h0M100.3 386.5h0M116 410.5h0M106.2 423.4h0M105.2 412.1h0M110.2 404.7h0M119.9 388.4h0M103.3 400.7h0M101 439.9h0M109.4 380h0M112.6 407.4h0M110 425.5h0M100.4 429.3h0M113.9 428.7h0M107.5 442.1h0M103.2 424.1h0M117.6 407.7h0M116.9 398.8h0M114.9 436.1h0M110.9 407.8h0M117.4 417.8h0M112 438.3h0M107.8 420.4h0M103.1 386.8h0M107.7 375.8h0M112.1 398.9h0M113.6 432.1h0M108.9 426.1h0M108.1 435.8h0M119.3 427.7h0M113.5 421.9h0M117.5 397.3h0M102.8 384.9h0M118.9 380.9h0M111.4 432.5h0M104 379.2h0M111.1 430.1h0M117.7 398.7h0M111.4 416.8h0M108.3 426.1h0M100.9 382.7h0M109.4 405.1h0M106.5 391.2h0M100.6 417h0M100.7 434h0M119.3 397.6h0M108.6 406.7h0M117.5 418.9h0M111.9 395.8h0M107.2 407h0M115.3 380.5h0M115.1 387.2h0M102.9 413.9h0M116.3 441.4h0M115.9 407.5h0M114.5 427h0M104.1 417.7h0M103.7 418.8h0M119 403.3h0M106.9 423.9h0M119 412.1h0M119.6 407.3h0M110.5 381.4h0M114.9 402.9h0M108.6 382.6h0M108.3 379.6h0M101.5 413.1h0M110.5 377.7h0M116.1 396.3h0M114.4 399.5h0M119.4 419.7h0M108 428.6h0M101.2 427.9h0M118.3 385.2h0M102.4 401.3h0M109.7 401.9h0M113.2 421.5h0M119.2 410.7h0M112.6 399.1h0M103.8 438.1h0M108.3 390.4h0M116.3 392.7h0M102.4 380.2h0M116.1 382.6h0M110.5 380.1h0M105.2 425.4h0M103.9 403.8h0M100.9 402.2h0M103.4 396.2h0M100.6 421.2h0M118.8 405.7h0M116.2 397.6h0M112.3 429.3h0M111.5 439.7h0M119.2 384.3h0M101.2 419.3h0M106.5 434.7h0M112.6 388.1h0M106.4 383.7h0M116 433.6h0M115.4 382.3h0M104.1 403.3h0M112.8 400.9h0M102.1 397.4h0M112.7 386.3h0M116.1 420.1h0M114.5 383.4h0M117.9 431.4h0M100.7 398.1h0M104.4 404h0M118.9 416.5h0M105.2 411.3h0M113.2 435.5h0M107.7 433.3h0M113.3 385.8h0M107.6 417.1h0M110.8 427.7h0M105.1 419.9h0M109.2 436.8h0M115.1 403h0M106.1 437.1h0M115.3 433.4h0M102.8 433.5h0M101.8 380.7h0M105.5 421.5h0M116.7 400.2h0M103.9 412.8h0M117.7 416.8h0M114.2 435.8h0M114.6 389.5h0M116.5 396.5h0M107.5 438h0M110.4 390.8h0M103.9 424.2h0M110.8 391.4h0M117.9 433.8h0M103.8 388h0M112.9 393.3h0M119.9 378.5h0M115.6 415.5h0M112.9 429.8h0M115.2 390.8h0M114.5 412.1h0M107.6 413.8h0M100.8 384.9h0M110.9 416h0M111 393.3h0M107.7 385.8h0M118.4 416h0M102.9 390.6h0M119.8 432.3h0M114.3 386.2h0M118.4 434h0M103.7 403.2h0M109 391.3h0M103.9 380.1h0M104.5 390h0M101.5 410.1h0M100.8 421h0M106.3 393.4h0M109.2 438.5h0M119.9 381.9h0M118.3 425.6h0M108 426.9h0M102.6 440.1h0M102.6 430.4h0M117.2 409.4h0M103.8 396.8h0M105.4 406.5h0M105.8 407.2h0M112.6 405.9h0M108 388.6h0M117.5 430.2h0M102.9 434.7h0M119.6 378.3h0M119.4 428.2h0M110.2 408.5h0M118.3 439.6h0M112 437.8h0M104.8 410.7h0M117.6 390.6h0M116.6 390.6h0M114.2 384.5h0M113.7 392.3h0M106.1 431h0M115.2 431.1h0M118.4 401.8h0M106.7 378.6h0M110.4 436.1h0M119.3 403.2h0M116.1 423.2h0M116 394.5h0M112.9 377.7h0M108.4 395.3h0M116.7 419.6h0M113.4 428.1h0M111.1 390h0M101.4 392.8h0M100.5 377.2h0M108.3 393.3h0M110.5 392.6h0M101.8 404.1h0M111.2 378.9h0M109.1 399.4h0M111.1 437.3h0M111.9 427.2h0M104 382.6h0M104.1 411.4h0M115 394.2h0M111.1 387.4h0M109.4 400.1h0M116.4 396.2h0M112.9 414.7h0M111.2 415.4h0M114.9 416.5h0M109.4 391h0M110.1 419.4h0M116.5 416.4h0M116.9 388.9h0M109 393.9h0M100.8 415.8h0M117.2 402.9h0M111.2 397.1h0M113.6 402.7h0M108.5 429.9h0M106 422.4h0M109 417.1h0M111.7 377.9h0M107.6 424.2h0M117.7 408.8h0M113.7 437.4h0M117.3 421.1h0M110 428.9h0M108.5 386h0M116.6 410.1h0M115.4 411.2h0M107.6 405.2h0M104.1 420.8h0M114.2 389.9h0M101.3 392.5h0M116.4 412.1h0M101.4 395.9h0M105 398.6h0M107.6 399h0M105.3 409.9h0M110.6 399.4h0M106.2 424.9h0M101.5 413.6h0M115.5 394.1h0M104 433h0M106.5 390.1h0M109.8 379.5h0M113.2 400.1h0M115.4 391.3h0M107 424.9h0M108.8 409.1h0M103 412.3h0M112.8 433.1h0M102.9 430.5h0M103.8 431.1h0M103.4 424h0M115.9 429.8h0M112.4 414.7h0M108.4 386.8h0M103.3 379.5h0M117.9 396.9h0M101.1 397.2h0M112.1 389.8h0M104.4 377.5h0M102.4 420.9h0M100.8 385.8h0M113.4 396.2h0M111.5 377.6h0M106.8 407.5h0M100.5 393.1h0M113.9 413.7h0M117 391h0M106.8 437.1h0M102.8 429.8h0M106.2 411.9h0M118.6 423.4h0M118 396.1h0M117.1 414.9h0M100.2 388.8h0M105 432.7h0M116 395.7h0M104.4 424.2h0M118.8 424.1h0M114.1 433.5h0M116.3 434.4h0M110.4 440h0M116.9 436.6h0M105.6 390.3h0M112.2 421.1h0M112.6 411.4h0M117.3 422.4h0M115.2 399.1h0M114.8 416.6h0M114.5 394.8h0M107.8 440.6h0M114.3 428.4h0M114.6 423.4h0M109.5 383.9h0M109 422.8h0M106.2 437.1h0M104.5 423.9h0M103.6 438.1h0M109.4 427.8h0M114.8 379.6h0M105.6 403.4h0M110.2 437.2h0M102.6 382.2h0M109.6 387.6h0M101.5 401.9h0M117.3 383.4h0M100.3 406.9h0M107.5 390.6h0M101.6 424.3h0M116.3 410.4h0M101 415.7h0M103.2 436.8h0M111.4 377.5h0M113 420.3h0M111.5 391.2h0M111.8 387.7h0M111.1 428.9h0M111.7 409h0M103.4 400.2h0M116.3 433.2h0M111 392.4h0M108.1 424h0M107.5 405.5h0M113.8 404.3h0M102.3 386.7h0M118.5 435.5h0M105.1 430.5h0M117 380.4h0M101 419.7h0M104 410.4h0M118.4 437.6h0M103.5 409.2h0M110.5 391.6h0M108.8 432.8h0M107.2 375.5h0M102.5 387.4h0M106.3 389.2h0M100.4 383.1h0M103.4 411.3h0M113.3 407.8h0M103.4 432.9h0M105.8 438.8h0M102.7 410.7h0M107.2 402.4h0M105.7 440h0M115.1 424.9h0M108.2 391h0M108.2 382h0M118.4 421.2h0M114.7 425.1h0M102.9 412.6h0M112.1 378.7h0M114.3 410h0M102.8 376.2h0M102.7 380.7h0M102.2 436.1h0M118.4 400.7h0M101.5 403.7h0M109.2 404h0M114.8 396.2h0M119.9 431.7h0M116.3 414.4h0M115.7 381.7h0M119.8 424.3h0M109.1 378.2h0M107.5 378.4h0M107.6 390.9h0M109.5 411.9h0M107.8 412.9h0M102.9 438.2h0M115.1 403.9h0M113.5 387.8h0M104.7 426.5h0M105.7 421.7h0M115.2 416.9h0M106.6 399.1h0M103.8 435.1h0M114 390.9h0M106 399.1h0M100.8 414.8h0M111.6 425.1h0M107.1 400.9h0M111.8 431.9h0M114.2 436.9h0M119.4 428.6h0M105.2 428.7h0M119.8 422.9h0M112.2 375h0M101 406.9h0M112.1 394.6h0M106.8 420h0M100.2 440h0M101.7 428.6h0M106.8 437.6h0M100.8 379.3h0M108.8 428.4h0M119.2 381.3h0M112.8 436h0M100.7 433.8h0M112.7 435.5h0M103.2 380.9h0M106.8 419.7h0M101.9 388.2h0M113.6 405.1h0M112.4 435.5h0M105.3 402.6h0M119 386.8h0M112.9 407.1h0M100.4 381.8h0M101.5 433.6h0M113.9 387.1h0M115.7 411.6h0M103.7 440h0M119.5 425.7h0M117.3 415h0M106.3 408h0M100.3 412.2h0M104.1 393.9h0M110.1 383.2h0M117.9 420.8h0M105.7 378.5h0M102.1 439.2h0M111.6 438.6h0M110.1 412.7h0M103.2 414.6h0M116.7 399.9h0M114.6 403.2h0M104.3 386.7h0M100.4 394.8h0M104 410.3h0M119.5 405.7h0M101.3 413.2h0M113.2 438.5h0M105.2 441.1h0M107.7 408.1h0M106 397.7h0M103.6 380.7h0M119.2 408.8h0M109.4 383.9h0M105.9 387.7h0M105.8 393.4h0M106.8 401.4h0M118.5 438.7h0M110.9 416.6h0M107.1 437.6h0M105.3 400h0M102.1 396.8h0M119.2 375.6h0M116.1 430.2h0M119.4 428.6h0M117.4 382.6h0M112.5 406.9h0M104.1 407h0M105.9 433.8h0M102.7 387.8h0M118.4 432.7h0M100.4 424.4h0M102.8 429.5h0M111.7 413.6h0M108.7 428.4h0M113.3 422.7h0M108.1 410.8h0M118.1 425.6h0M114.4 421.3h0M117.9 415.5h0M110.2 382.7h0M113.5 435.9h0M103.3 427.8h0M101.9 410.2h0M111.9 420.7h0M102.3 387.2h0M116.1 404.1h0M102.9 405.5h0M112.6 413.2h0M117.3 415.8h0M110.3 434.6h0M111.3 390.2h0M114.7 424.9h0M119.8 393.4h0M108.6 414.1h0M115.6 430.4h0M112.8 393.4h0M110.4 382.9h0M109.4 410.7h0M105.8 379.8h0M106.4 395.1h0M108.3 378.7h0M101.6 408.5h0M101.1 405h0M103.8 417.3h0M106.2 401.4h0M116.5 378.6h0M119.2 434.3h0M117.4 398h0M106 389.4h0M105.9 381.5h0M101.8 434.3h0M115 411.8h0M103.1 407.4h0M106 405h0M114.9 384.1h0M101.3 402.1h0M119.7 411.1h0M115.4 435.7h0M117.5 402.8h0M117.8 388.8h0M117.4 438.5h0M114.3 429h0M105.4 420.3h0M111.9 399.6h0M107.3 386.7h0M111.1 407.5h0M115.2 397.8h0M105.9 436.4h0M109.3 382.5h0M112 438.7h0M107.8 402.7h0M111.8 377.6h0M108.2 400.6h0M117.7 394.3h0M109.5 386.9h0M102.7 385.9h0M106 384.7h0M112.2 407.7h0M101.9 388.9h0M101.5 376.7h0M106.2 433.7h0M117.7 409.7h0M102.6 408.4h0M105 414.6h0M112.8 380.1h0M116 431.4h0M109.6 408.9h0M119.8 436.4h0M110.3 380.1h0M108.1 424.5h0M111.2 420.6h0M118.5 436.6h0M104.2 436.6h0M114.3 422.4h0M118 381.6h0M118.7 424.9h0M100.2 416h0M119.2 390.4h0M101.3 394.6h0M118.3 376.5h0M117.3 385.1h0M107.3 435.6h0M114.6 433h0M110.5 377.9h0M120 380.3h0M107.4 420.1h0M102.7 380.1h0M103.8 441.7h0M112 396.6h0M110.1 438.9h0M114.8 397.6h0M112.4 439.2h0M117.9 434h0M110.7 439h0M103.6 414.5h0M111 393.5h0M118.7 392.3h0M107 437.2h0M115.5 430.4h0M109.3 406.8h0M107.9 393.7h0M109.4 414.2h0M107.4 408.8h0M105.7 425.9h0M103.1 412.4h0M106 385.4h0M117 419h0M112.4 381h0M107.3 404.6h0M108.9 398.1h0M119.2 432.9h0M119.3 397.1h0M115.9 399.1h0M117.4 420.2h0M114.2 424.4h0M110.2 396h0M104.1 438.2h0M115.8 387.3h0M113.3 420.5h0M113.2 436.6h0M113.3 403.2h0M112.4 411.9h0M104.6 393h0M109.4 391.6h0M107.4 436.4h0M110.9 400h0M118.4 382h0M101.3 389.8h0M105.3 394.9h0M107.7 420.4h0M109.8 406.3h0M113.9 399h0M113.6 416.2h0M113.6 418.9h0M112.2 411.1h0M104.5 416.1h0M101.6 397.7h0M117.9 418.2h0M102.2 400.2h0M102.7 381.7h0M102.6 417.7h0M110 434.3h0M106.5 423.6h0M115.8 432.8h0M111.6 412.9h0M105.9 386.5h0M115 433.2h0M105.9 386.6h0M119.8 400.7h0M117.4 375.4h0M112.9 427.3h0M107.5 399.9h0M118.5 421.8h0M108 440.8h0M108.9 388.1h0M104.8 397.5h0M113.5 410.8h0M103.9 414.9h0M114.9 429.5h0M101.9 410.9h0M104.8 387.9h0M116.4 378h0M113 429.6h0M116.5 392.8h0M115 394.9h0M116.6 422.1h0M113.5 407.2h0M106.8 420.1h0M103.2 408.9h0M107.5 413.7h0M117 396h0M110.2 436.1h0M115.2 383.5h0M110.2 388.1h0M108.9 418.3h0M110.2 429.1h0M106.2 421.6h0M119.8 419.6h0M104.7 378.4h0M119.3 384.3h0M113 413.2h0M104.1 435.1h0M102.2 418.6h0M108.2 379.5h0M110.8 375h0M103 404.7h0M103.3 439.7h0M106.8 429.5h0M102.2 398h0M109.3 441.6h0M105.2 389.2h0M109.8 405.9h0M109.2 396.4h0M119.8 388.1h0M101.5 408.7h0M104.8 435.4h0M104 425.5h0M119.2 391.7h0M117.1 394.8h0M106.4 415.7h0M108.9 422.4h0M108.5 389.9h0M101.6 423.5h0M109.6 396.3h0M113 393h0M102.2 430.1h0M106.3 423.2h0M100.8 422.1h0M116.1 379.5h0M111.9 418.6h0M107.2 399.3h0M117.3 419.2h0M117 399.9h0M119.8 437.6h0M107.4 388.2h0M113.3 437.8h0M108.1 399h0M113.8 411.6h0M103.9 376.6h0M114.4 406h0M101.7 426.3h0M101.4 429.4h0M104.1 414.1h0M106.5 417.7h0M116.2 406h0M108.9 424.2h0M110.9 427.3h0M117.2 386.3h0M106.5 440.7h0M106.1 397.7h0M117.2 388h0M117.3 409.1h0M116.9 411h0M105.4 409.6h0M106.8 390.2h0M116.6 432.8h0M103.4 416.3h0M109.3 377.3h0M119.3 392.7h0M113.6 424h0M107.5 442.2h0M105.6 437h0M106.4 420.4h0M117.9 384.2h0M112.6 404.3h0M104.6 382.8h0M115.2 407.5h0M103.3 427.7h0M107.7 419.8h0M101.4 414.7h0M109 422.8h0M107.8 419.7h0M107.6 400.2h0M110 428.9h0M115.9 407.4h0M109.2 393.8h0M115.1 384.6h0M116.2 396.8h0M114.4 431.7h0M114 425h0M105.3 434.2h0M108 441h0M115 389.6h0M102.7 398.7h0M105.5 410.9h0M103.6 405.7h0M107 397.8h0M110.7 395.7h0M105 394.2h0M114.7 393.2h0M101.5 378h0M105.5 412.8h0M110.4 407.1h0M105.1 424.3h0M107.4 389.2h0M108.8 439.7h0M104.1 441.5h0M106 405.8h0M107.3 438.7h0M118.7 429.7h0M108.4 416.9h0M103.5 397.3h0M115.7 390.7h0M110.4 394.5h0M107.8 411.8h0M101.1 414h0M113 431.9h0M116.8 429h0M114.1 431.3h0M117.6 428.7h0M114.7 385.3h0M105.2 436h0M111.8 408.4h0M109.7 389.2h0M109.3 408.5h0M109.8 411.4h0M108.2 431.4h0M106 424.3h0M105.1 389.1h0M102.4 428.4h0M110.6 421.1h0M104.9 417h0M110.1 396.5h0M119.4 384.3h0M108.7 411.6h0M108.4 426.1h0M119 437.7h0M104.2 397.3h0M111.8 423.4h0M118.7 414.5h0M112 436.2h0M117.8 435.3h0M108 382.1h0M118.9 380.9h0M116.6 426.5h0M100.8 411.6h0M106.6 428.5h0M100.4 408.4h0M101.7 381.1h0M113.8 417.2h0M116.8 388.1h0M106.6 384.7h0M118.6 400.2h0M107.1 381.1h0M118.8 418.7h0M101.9 383.3h0M113.3 426.6h0M111.4 421.4h0M118.4 419.1h0M104 439.4h0M119.8 427.5h0M106 386.5h0M102 379.2h0M116.7 432.6h0M111.9 404.6h0M113.9 421.5h0M107.8 426h0M105.9 430.4h0M118.1 382h0M107.3 395.2h0M109.9 423.3h0M111.6 378.1h0M116.2 434.6h0M114.7 387.5h0M116.8 376h0M119.5 423.4h0M110.5 427.8h0M101.8 412.5h0M114.4 389.4h0M100.5 378.3h0M105.9 385.7h0M117.9 392.3h0M106.7 410.9h0M116.7 418h0M116.1 389.2h0M109.4 381.4h0M107.8 391.3h0M112.8 419.8h0M110.7 401.1h0M110.8 434.8h0M118.9 406.2h0M102.6 386.5h0M108.7 393.8h0M116.6 405.7h0M101.1 386.4h0M113.9 380.4h0M105.5 388.9h0M117.5 418.2h0M108.3 419.6h0M100.3 426.6h0M106.7 435h0M115.3 413.3h0M111.4 423h0M107.3 391.1h0M109.5 401.8h0M108.5 404.5h0M117.9 424.2h0M110.4 395.6h0M101.9 376.9h0M105 390.6h0M116.3 399.5h0M118.3 436.3h0M110.6 391.8h0M118.3 398.7h0M112.1 415.9h0M111.5 404.6h0M118.1 386.1h0M114.8 379.5h0M101.5 390h0M109.3 391.2h0M106 410.6h0M116.5 440h0M109.8 384.4h0M105.5 386.4h0M105 421.7h0M111.1 397.9h0M117.6 382.5h0M105.1 391.6h0M112.7 416.1h0M115.5 381.3h0M109.7 380h0M102.7 431h0M115.3 421.6h0M111.8 408.5h0M103 391h0M114.9 432.5h0M105.3 387.9h0M118.2 383.2h0M110.1 417.4h0M109 430.4h0M110 426.6h0M103.4 416.5h0M101.4 410.4h0M114 398h0M119.5 382.1h0M112.7 381.3h0M109 388h0M105.8 406.5h0M119.6 401.6h0M110.2 388.8h0M106.3 385.8h0M100.5 426.1h0M103.7 424.8h0M111.5 394.5h0M115.5 416.3h0M104.5 384.4h0M102.6 437.9h0M104.7 408.8h0M118.8 392.8h0M111.3 406.9h0M113.9 399.7h0M106.8 436h0M104.1 389.1h0M112.7 388.1h0M101 381.1h0M107.7 379.3h0M111.9 405.1h0M116.4 399.8h0M113.5 431.6h0M112.1 418.1h0M101.6 433.3h0M109.7 424.5h0M115.3 434h0M110.3 428.1h0M104.3 415h0M115.8 439.7h0M119.8 404.3h0M107.3 426.4h0M103.8 420.4h0M117 442.1h0M114.7 396.6h0M106.4 383.8h0M104.3 413.3h0M102.4 398.4h0M101.9 430.1h0M115.3 408.3h0M113.3 392.4h0M112.2 428.9h0M114 434.5h0M105.5 411.9h0M102.4 435.1h0M113.1 391.9h0M107.5 415.8h0M104.3 406.9h0M111.7 378.8h0M114.5 386.2h0M113.1 422.7h0M112.5 382.7h0M102.3 409.7h0M100.6 384.9h0M115.6 439.2h0M113.9 433.8h0M110.6 395.5h0M106.8 408.1h0M119.5 399.1h0M110.1 437.9h0M102.6 384.5h0M114.9 385.5h0M111.6 403.2h0M110.7 392.3h0M106.7 408.6h0M109.5 397.3h0M103.7 384h0M114.4 391.3h0M109 435.4h0M109.4 383.6h0M110.2 399.4h0M107.6 432.1h0M112.6 409.4h0M107 424.8h0M114 420.7h0M111.6 424.7h0M115.1 416.8h0M109.6 379.2h0M114.4 392.3h0M106.9 385.2h0M107.8 375.1h0M113.2 385.8h0M110.9 392.5h0M102.6 375.1h0M103 425.8h0M111.6 390.5h0M119.9 391.2h0M109.8 417.7h0M102.1 436.4h0M112.6 389.7h0M118.1 417.5h0M118.7 422.2h0M118.8 379.8h0M103.2 383.8h0M114.1 394.6h0M116.8 405.8h0M110.2 417.4h0M117.3 381h0M103.3 389.8h0M105.6 429.8h0M104.1 403.4h0M105.7 425.9h0M102.1 420.3h0M112.1 439h0M118.1 374.7h0M103.5 390.4h0M109.1 430.7h0M109.7 379.6h0M117.5 415.7h0M101.4 381.1h0M119.7 407.6h0M104.6 405.4h0M114 409.5h0M107.1 425.5h0M106 439h0M119.1 441.8h0M115.8 414.8h0M112 427.3h0M113.4 394.2h0M114.7 408.9h0M119.4 383.4h0M111.5 395.9h0M105.6 378.2h0M117.9 422.7h0M119.6 435.2h0M110.7 434.8h0M103.9 390.4h0M101.5 416.3h0M103.9 384.5h0M101.8 419.5h0M117.1 395.6h0M113.3 391.7h0M115 393.8h0M101.6 436.6h0M115.5 400.7h0M101.9 391.4h0M106.9 387.4h0M102 408.7h0M102.1 389.3h0M111.3 426.4h0M119.2 396h0M106.8 384.2h0M107.7 378.2h0M119.7 438.1h0M114.7 422.5h0M108.6 399.1h0M101.1 427.1h0M102.2 392h0M104.5 408.5h0M106.7 426.3h0M118.7 407.8h0M113 394.4h0M116.4 424.4h0M101.7 410.6h0M103.5 441h0M112.6 414.2h0M102.9 390.6h0M110.7 430.5h0M119.6 377.7h0M116.5 406.2h0M106.1 398h0M103.1 400.4h0M101.5 441.4h0M106.9 394.9h0M115.6 385.5h0M112.4 384.7h0M113.2 379.3h0M117.9 439.4h0M107.9 425.2h0M103.7 382.9h0M100.6 430h0M115.2 427.2h0M105.3 376.5h0M109 433.1h0M105.5 375.6h0M101.5 394.3h0M107.6 393.4h0M106 433.5h0M100.5 422.2h0M117.2 381.7h0M113.7 391.5h0M104 418.3h0M115.5 378.8h0M106 397.9h0M107.9 410.7h0M109.3 423.4h0M100.5 390.2h0M114 385.2h0M103.2 426.2h0M112 378.6h0M104.1 401.9h0M119.1 383.3h0M118 414.4h0M105.3 383.1h0M115.8 384.4h0M107.9 422.9h0M104.9 383.1h0M118.4 417.4h0M117.5 416.4h0M109 403.8h0M104.5 424.2h0M105.4 424.7h0M110.4 435.5h0M115.6 430.5h0M109 398.7h0M102.9 414.5h0M111.3 404.9h0M117.8 388.9h0M102.5 385.7h0M111.1 396.2h0M103.3 410.2h0M114 388.1h0M116.1 427.6h0M116.7 403.7h0M113.4 384.4h0M108.2 379.8h0M117.6 387.4h0M107.7 406.4h0M103.6 390.7h0M117.8 431.4h0M114.9 395.1h0M100.9 380h0M109.7 424h0M100.7 389.2h0M106.8 407.4h0M104 401.1h0M108 387.5h0M113.4 393.3h0M105.1 438h0M117.6 378.7h0M118.4 394.3h0M112.2 413.8h0M107.2 409h0M104.6 413.3h0M110.2 440.2h0M105.8 399.2h0M116.2 400.6h0M113.3 400.6h0M105.2 416.8h0M116.9 378h0M100.4 376.9h0M112.2 386.8h0M111.9 380.8h0M105 412.1h0M113.4 427.7h0M114.3 424.5h0M114.2 387.6h0M114.3 378.2h0M118.3 438.3h0M117.8 382.7h0M112.6 413.1h0M114.1 425.8h0M113.4 395.1h0M110.9 424.7h0M100.2 429h0M116.7 427.9h0M101.6 425.6h0M110.4 402.5h0M117.5 384.2h0M119.4 382.2h0M109.1 432.7h0M119.1 426.8h0M112.5 424.4h0M116.3 428.7h0M108.5 427.4h0M117.2 400.2h0M112.7 421h0M103.6 384h0M115.3 392.4h0M119.9 404.3h0M103.7 400.9h0M105.8 407.5h0M109.3 404h0M118.4 387.2h0M108.4 386.7h0M117.2 389.7h0M111.1 381.2h0M109.9 435.1h0M105.5 397.6h0M107.7 413.6h0M108.1 429.3h0M102 439h0M106.6 411.3h0M118.7 399.7h0M116.2 390.5h0M119.1 437.8h0M107.8 377.7h0M118.9 429.8h0M101.3 381.4h0M108.3 407.8h0M118.7 427.4h0M119.3 415.4h0M105.1 426.5h0M110.4 410.6h0M103.2 401.1h0M115.6 409.7h0M112.3 398.6h0M100.5 425.6h0M119.9 419.9h0M118.9 408.9h0M106.5 412.5h0M109 405h0M119.2 440.5h0M109.6 394.3h0M106.7 417.2h0M110.4 380.5h0M106.7 436.5h0M100.9 382.4h0M106.4 434.2h0M112 384.9h0M112 432h0M108.2 424.2h0M100.5 376.7h0M102.8 382.2h0M119.7 386.8h0M105.2 429.4h0M110.6 402.7h0M117.6 376.5h0M106.9 402.5h0M102.6 407.1h0M101.6 434.8h0M102.6 421.8h0M106.3 394.4h0M101.7 434.8h0M113.2 396.6h0M114.2 393.4h0M113.3 404.8h0M114.9 436.8h0M104.3 391.9h0M104 406.2h0M105.3 413h0M116.7 397.4h0M109 423.7h0M116.1 397.7h0M108.9 383.2h0M113.9 375.6h0M118 404.9h0M114.2 385h0M101.9 410.1h0M112.2 438.4h0M115.8 393.7h0M118.7 417h0M109.5 380.3h0M108.3 385.6h0M108.5 419.4h0M105.6 427.8h0M108.7 431.4h0M101.2 442.1h0M101.6 396.1h0M106.2 428.9h0M105 395.4h0M100.5 383.5h0M111.4 426.3h0M104.3 397.8h0M112.6 420.7h0M106.8 410.8h0M118.2 405.7h0M116.8 398.8h0M111.3 409h0M113.6 408.9h0M114.5 430h0M106.5 382.9h0M108 385h0M118.7 403h0M102.2 390.9h0M113.4 422.6h0M117.3 409.5h0M101.3 437.7h0M104.7 400.9h0M116.3 435.6h0M100.6 400h0M108.3 412.3h0M116.4 379.8h0M119.3 389.3h0M100.2 432.1h0M110.4 415.4h0M108.2 424.1h0M105.5 426.1h0M102.2 404.7h0M109 393.9h0M112.8 377.5h0M117.6 416.2h0M113.3 387.6h0M108 412h0M112.7 434.8h0M110.7 435.9h0M104.6 400h0M103 407.1h0M108.9 416.5h0M115.4 394.1h0M111.3 400.1h0M111.7 396.3h0M118.5 377.9h0M117.2 435.2h0M109.1 389.2h0M106 401.1h0M101.2 428.5h0M108.1 437.6h0M108.6 426.7h0M117.2 420.7h0M107.7 387.8h0M111.2 438.9h0M112.3 428.8h0M105.1 400h0M110 424h0M111.2 399.2h0M100.9 423.7h0M106.3 382.6h0M101.2 418.7h0M104 395.1h0M116.2 438.4h0M117.3 395h0M104.5 380h0M106 388.7h0M101.6 411.3h0M110.2 381.4h0M116.7 405.2h0M101.2 413.1h0M108.2 417.5h0M115.4 435.8h0M116.4 396.7h0M108.8 394h0M108 432.6h0M108.4 438.9h0M108.9 386.2h0M104.2 408.3h0M119.6 386.1h0M118 396.4h0M111.8 402.8h0M112.1 410.7h0M107.3 426.1h0M101.4 417.2h0M115.4 404.8h0M103.4 387h0M101 379h0M113.1 404.5h0M108.3 386.2h0M106 415h0M110.8 439.4h0M113.6 435.6h0M114.8 406.1h0M113.8 392.2h0M119.8 434.3h0M119.9 409.9h0M104.1 416.9h0M107.4 381.4h0M110.5 437.8h0" stroke="#cf8f81" stroke-width="2.6" stroke-linecap="round" fill="none"/>
<line x1="41.2" y1="411.6" x2="246.6" y2="411.6" stroke="#231f20" stroke-width="1.3"/>
<line x1="110.6" y1="362.2" x2="110.6" y2="461.3" stroke="#231f20" stroke-width="1.3"/>
<line x1="107.2" y1="365" x2="110.6" y2="365" stroke="#231f20" stroke-width="1"/>
<text x="103.6" y="367.2" font-size="6.3" fill="#231f20" stroke="#231f20" stroke-width="0.12" text-anchor="end">10</text>
<line x1="107.2" y1="388.3" x2="110.6" y2="388.3" stroke="#231f20" stroke-width="1"/>
<text x="103.6" y="390.5" font-size="6.3" fill="#231f20" stroke="#231f20" stroke-width="0.12" text-anchor="end">5</text>
<line x1="107.2" y1="434.9" x2="110.6" y2="434.9" stroke="#231f20" stroke-width="1"/>
<text x="103.6" y="437.1" font-size="6.3" fill="#231f20" stroke="#231f20" stroke-width="0.12" text-anchor="end">&#8722;5</text>
<line x1="107.2" y1="458.2" x2="110.6" y2="458.2" stroke="#231f20" stroke-width="1"/>
<text x="103.6" y="460.4" font-size="6.3" fill="#231f20" stroke="#231f20" stroke-width="0.12" text-anchor="end">&#8722;10</text>
<text x="103.6" y="419.8" font-size="6.3" fill="#231f20" stroke="#231f20" stroke-width="0.12" text-anchor="end">0</text>
<line x1="43.6" y1="411.6" x2="43.6" y2="414.6" stroke="#231f20" stroke-width="1"/>
<text x="43.6" y="423.8" font-size="6.3" fill="#231f20" stroke="#231f20" stroke-width="0.12" text-anchor="middle">&#8722;5</text>
<line x1="177.6" y1="411.6" x2="177.6" y2="414.6" stroke="#231f20" stroke-width="1"/>
<text x="177.6" y="423.8" font-size="6.3" fill="#231f20" stroke="#231f20" stroke-width="0.12" text-anchor="middle">5</text>
<line x1="244.6" y1="411.6" x2="244.6" y2="414.6" stroke="#231f20" stroke-width="1"/>
<text x="244.6" y="423.8" font-size="6.3" fill="#231f20" stroke="#231f20" stroke-width="0.12" text-anchor="middle">10</text>
<text x="44.5" y="368.4" font-size="6.3" fill="#231f20" stroke="#231f20" stroke-width="0.12">Q1</text>
<text x="234.1" y="368.4" font-size="6.3" fill="#231f20" stroke="#231f20" stroke-width="0.12">Q4</text>
<text x="44.5" y="458.3" font-size="6.3" fill="#231f20" stroke="#231f20" stroke-width="0.12">Q3</text>
<text x="234.1" y="458.3" font-size="6.3" fill="#231f20" stroke="#231f20" stroke-width="0.12">Q4</text>
<text x="122.5" y="458.3" font-size="6.3" fill="#231f20" textLength="91" lengthAdjust="spacingAndGlyphs">Q2 and 4 vs Q1 and 3: <tspan font-style="italic">P</tspan>&lt;0.001</text>
<text x="7" y="410.2" font-size="6.6" fill="#231f20" stroke="#231f20" stroke-width="0.12">Gene</text>
<text x="7" y="418" font-size="6.6" fill="#231f20" stroke="#231f20" stroke-width="0.12">expression</text>
<text x="102.9" y="471.9" font-size="9.6" fill="#231f20" stroke="#231f20" stroke-width="0.12" textLength="15.7" lengthAdjust="spacingAndGlyphs">DCBs</text>
<text x="268.4" y="360.2" font-size="12" fill="#000" font-weight="bold">E</text>
<path d="M330.4 387.2l1.6 1.6l-1.6 1.6l-1.6 -1.6zM329.3 390.4l1.6 1.6l-1.6 1.6l-1.6 -1.6zM334.4 385.1l1.6 1.6l-1.6 1.6l-1.6 -1.6zM337.4 385.8l1.6 1.6l-1.6 1.6l-1.6 -1.6zM342.4 382.8l1.6 1.6l-1.6 1.6l-1.6 -1.6zM336.5 391.9l1.6 1.6l-1.6 1.6l-1.6 -1.6zM337.7 392.6l1.6 1.6l-1.6 1.6l-1.6 -1.6zM343 391.1l1.6 1.6l-1.6 1.6l-1.6 -1.6zM342.7 392.6l1.6 1.6l-1.6 1.6l-1.6 -1.6zM332.7 396.8l1.6 1.6l-1.6 1.6l-1.6 -1.6zM344.4 398.7l1.6 1.6l-1.6 1.6l-1.6 -1.6zM347.4 396.8l1.6 1.6l-1.6 1.6l-1.6 -1.6zM350.5 385.8l1.6 1.6l-1.6 1.6l-1.6 -1.6zM355.2 384.9l1.6 1.6l-1.6 1.6l-1.6 -1.6zM350.9 389.7l1.6 1.6l-1.6 1.6l-1.6 -1.6zM357 388.8l1.6 1.6l-1.6 1.6l-1.6 -1.6zM354.4 391.6l1.6 1.6l-1.6 1.6l-1.6 -1.6zM353 395.1l1.6 1.6l-1.6 1.6l-1.6 -1.6zM355 395.5l1.6 1.6l-1.6 1.6l-1.6 -1.6zM355.2 398l1.6 1.6l-1.6 1.6l-1.6 -1.6zM352.6 396.8l1.6 1.6l-1.6 1.6l-1.6 -1.6zM353.4 401.4l1.6 1.6l-1.6 1.6l-1.6 -1.6zM359.9 399.3l1.6 1.6l-1.6 1.6l-1.6 -1.6zM361.7 386.8l1.6 1.6l-1.6 1.6l-1.6 -1.6zM363.4 386.8l1.6 1.6l-1.6 1.6l-1.6 -1.6zM363 392.6l1.6 1.6l-1.6 1.6l-1.6 -1.6zM363.8 395.5l1.6 1.6l-1.6 1.6l-1.6 -1.6zM363.8 401l1.6 1.6l-1.6 1.6l-1.6 -1.6zM358 403l1.6 1.6l-1.6 1.6l-1.6 -1.6zM357.6 405.6l1.6 1.6l-1.6 1.6l-1.6 -1.6zM361.7 404.7l1.6 1.6l-1.6 1.6l-1.6 -1.6zM347.1 405.1l1.6 1.6l-1.6 1.6l-1.6 -1.6zM341.3 402.2l1.6 1.6l-1.6 1.6l-1.6 -1.6zM332.3 404.5l1.6 1.6l-1.6 1.6l-1.6 -1.6zM327.5 405.4l1.6 1.6l-1.6 1.6l-1.6 -1.6zM333.2 412.8l1.6 1.6l-1.6 1.6l-1.6 -1.6zM366.5 379.4l1.6 1.6l-1.6 1.6l-1.6 -1.6zM372.5 384.3l1.6 1.6l-1.6 1.6l-1.6 -1.6zM361.7 386.4l1.6 1.6l-1.6 1.6l-1.6 -1.6zM363.8 386.8l1.6 1.6l-1.6 1.6l-1.6 -1.6zM365 388l1.6 1.6l-1.6 1.6l-1.6 -1.6zM361.3 388.4l1.6 1.6l-1.6 1.6l-1.6 -1.6zM373.4 386.8l1.6 1.6l-1.6 1.6l-1.6 -1.6zM375 385.9l1.6 1.6l-1.6 1.6l-1.6 -1.6zM375.9 388.8l1.6 1.6l-1.6 1.6l-1.6 -1.6zM378 389.7l1.6 1.6l-1.6 1.6l-1.6 -1.6zM380 390.5l1.6 1.6l-1.6 1.6l-1.6 -1.6zM378.4 391.4l1.6 1.6l-1.6 1.6l-1.6 -1.6zM368.4 390.1l1.6 1.6l-1.6 1.6l-1.6 -1.6zM370 389.7l1.6 1.6l-1.6 1.6l-1.6 -1.6zM372.5 390.5l1.6 1.6l-1.6 1.6l-1.6 -1.6zM362.5 392.6l1.6 1.6l-1.6 1.6l-1.6 -1.6zM364.2 393l1.6 1.6l-1.6 1.6l-1.6 -1.6zM368.4 392.2l1.6 1.6l-1.6 1.6l-1.6 -1.6zM371.7 394.7l1.6 1.6l-1.6 1.6l-1.6 -1.6zM363.3 395.9l1.6 1.6l-1.6 1.6l-1.6 -1.6zM366.7 395.9l1.6 1.6l-1.6 1.6l-1.6 -1.6zM368.4 395.1l1.6 1.6l-1.6 1.6l-1.6 -1.6zM370 397.2l1.6 1.6l-1.6 1.6l-1.6 -1.6zM360.4 398.9l1.6 1.6l-1.6 1.6l-1.6 -1.6zM365 400.5l1.6 1.6l-1.6 1.6l-1.6 -1.6zM363.8 401.4l1.6 1.6l-1.6 1.6l-1.6 -1.6zM366.7 401l1.6 1.6l-1.6 1.6l-1.6 -1.6zM368.8 402.2l1.6 1.6l-1.6 1.6l-1.6 -1.6zM373.4 399.3l1.6 1.6l-1.6 1.6l-1.6 -1.6zM376.7 399.3l1.6 1.6l-1.6 1.6l-1.6 -1.6zM378.4 398.4l1.6 1.6l-1.6 1.6l-1.6 -1.6zM380 401.8l1.6 1.6l-1.6 1.6l-1.6 -1.6zM382.5 396.8l1.6 1.6l-1.6 1.6l-1.6 -1.6zM385 394.3l1.6 1.6l-1.6 1.6l-1.6 -1.6zM384.6 399.3l1.6 1.6l-1.6 1.6l-1.6 -1.6zM387.1 389.3l1.6 1.6l-1.6 1.6l-1.6 -1.6zM387.6 391.8l1.6 1.6l-1.6 1.6l-1.6 -1.6zM361.7 404.7l1.6 1.6l-1.6 1.6l-1.6 -1.6zM371.7 404.3l1.6 1.6l-1.6 1.6l-1.6 -1.6zM375.4 404.3l1.6 1.6l-1.6 1.6l-1.6 -1.6zM333.1 413.3l1.6 1.6l-1.6 1.6l-1.6 -1.6zM333.5 418.7l1.6 1.6l-1.6 1.6l-1.6 -1.6zM329.5 422.1l1.6 1.6l-1.6 1.6l-1.6 -1.6zM334.6 429.8l1.6 1.6l-1.6 1.6l-1.6 -1.6zM346.9 421.3l1.6 1.6l-1.6 1.6l-1.6 -1.6zM352 416.1l1.6 1.6l-1.6 1.6l-1.6 -1.6zM358.5 415.9l1.6 1.6l-1.6 1.6l-1.6 -1.6zM359.7 417.5l1.6 1.6l-1.6 1.6l-1.6 -1.6zM365.4 416.4l1.6 1.6l-1.6 1.6l-1.6 -1.6zM369.2 423.3l1.6 1.6l-1.6 1.6l-1.6 -1.6zM372.3 415.6l1.6 1.6l-1.6 1.6l-1.6 -1.6zM375.1 417.5l1.6 1.6l-1.6 1.6l-1.6 -1.6zM378.9 415.9l1.6 1.6l-1.6 1.6l-1.6 -1.6zM380 418.4l1.6 1.6l-1.6 1.6l-1.6 -1.6zM383.4 427.5l1.6 1.6l-1.6 1.6l-1.6 -1.6zM357.4 417.2l1.6 1.6l-1.6 1.6l-1.6 -1.6zM293.8 401.8l1.6 1.6l-1.6 1.6l-1.6 -1.6z" fill="#e48a1c"/>
<path d="M335.7 388.3l1.6 1.6l-1.6 1.6l-1.6 -1.6zM342.7 386.8l1.6 1.6l-1.6 1.6l-1.6 -1.6zM349.4 391.8l1.6 1.6l-1.6 1.6l-1.6 -1.6zM343 403.9l1.6 1.6l-1.6 1.6l-1.6 -1.6zM391.1 397.4l1.6 1.6l-1.6 1.6l-1.6 -1.6zM371.7 412.6l1.6 1.6l-1.6 1.6l-1.6 -1.6zM371.5 412.9l1.6 1.6l-1.6 1.6l-1.6 -1.6zM363.8 418.4l1.6 1.6l-1.6 1.6l-1.6 -1.6zM311.7 390.9l1.6 1.6l-1.6 1.6l-1.6 -1.6z" fill="#4fae3a"/>
<path d="M358.6 390.7l1.6 1.6l-1.6 1.6l-1.6 -1.6zM358.6 394.3l1.6 1.6l-1.6 1.6l-1.6 -1.6zM338.2 403.9l1.6 1.6l-1.6 1.6l-1.6 -1.6zM351.7 403.5l1.6 1.6l-1.6 1.6l-1.6 -1.6zM380 381.3l1.6 1.6l-1.6 1.6l-1.6 -1.6zM367.7 387.6l1.6 1.6l-1.6 1.6l-1.6 -1.6zM370.7 392.8l1.6 1.6l-1.6 1.6l-1.6 -1.6zM372.9 401.1l1.6 1.6l-1.6 1.6l-1.6 -1.6zM366.8 404.3l1.6 1.6l-1.6 1.6l-1.6 -1.6zM345.8 414.4l1.6 1.6l-1.6 1.6l-1.6 -1.6zM354.6 414.9l1.6 1.6l-1.6 1.6l-1.6 -1.6zM357.2 419.2l1.6 1.6l-1.6 1.6l-1.6 -1.6z" fill="#a3062c"/>
<line x1="283.7" y1="411.6" x2="498.2" y2="411.6" stroke="#231f20" stroke-width="1.3"/>
<line x1="443.2" y1="366.5" x2="443.2" y2="457.5" stroke="#231f20" stroke-width="1.3"/>
<line x1="439.8" y1="368.8" x2="443.2" y2="368.8" stroke="#231f20" stroke-width="1"/>
<text x="436.5" y="371" font-size="6.3" fill="#231f20" stroke="#231f20" stroke-width="0.12" text-anchor="end">10</text>
<line x1="439.8" y1="390.1" x2="443.2" y2="390.1" stroke="#231f20" stroke-width="1"/>
<text x="436.5" y="392.3" font-size="6.3" fill="#231f20" stroke="#231f20" stroke-width="0.12" text-anchor="end">5</text>
<line x1="439.8" y1="432.9" x2="443.2" y2="432.9" stroke="#231f20" stroke-width="1"/>
<text x="436.5" y="435.1" font-size="6.3" fill="#231f20" stroke="#231f20" stroke-width="0.12" text-anchor="end">&#8722;5</text>
<line x1="439.8" y1="454.2" x2="443.2" y2="454.2" stroke="#231f20" stroke-width="1"/>
<text x="436.5" y="456.4" font-size="6.3" fill="#231f20" stroke="#231f20" stroke-width="0.12" text-anchor="end">&#8722;10</text>
<text x="436.5" y="420" font-size="6.3" fill="#231f20" stroke="#231f20" stroke-width="0.12" text-anchor="end">0</text>
<line x1="286.1" y1="411.6" x2="286.1" y2="414.8" stroke="#231f20" stroke-width="1"/>
<text x="286.1" y="424" font-size="6.3" fill="#231f20" stroke="#231f20" stroke-width="0.12" text-anchor="middle">&#8722;0.15</text>
<line x1="338.5" y1="411.6" x2="338.5" y2="414.8" stroke="#231f20" stroke-width="1"/>
<text x="338.5" y="424" font-size="6.3" fill="#231f20" stroke="#231f20" stroke-width="0.12" text-anchor="middle">&#8722;0.10</text>
<line x1="390.9" y1="411.6" x2="390.9" y2="414.8" stroke="#231f20" stroke-width="1"/>
<text x="390.9" y="424" font-size="6.3" fill="#231f20" stroke="#231f20" stroke-width="0.12" text-anchor="middle">&#8722;0.05</text>
<line x1="495.7" y1="411.6" x2="495.7" y2="414.8" stroke="#231f20" stroke-width="1"/>
<text x="495.7" y="424" font-size="6.3" fill="#231f20" stroke="#231f20" stroke-width="0.12" text-anchor="middle">0.05</text>
<text x="286.3" y="373.6" font-size="6.3" fill="#231f20" stroke="#231f20" stroke-width="0.12">Q1</text>
<text x="286.5" y="454.4" font-size="6.3" fill="#231f20" stroke="#231f20" stroke-width="0.12">Q2</text>
<text x="317" y="454.4" font-size="6.3" fill="#231f20" textLength="54.5" lengthAdjust="spacingAndGlyphs">Q1 vs Q2: <tspan font-style="italic">P</tspan>&lt;0.001</text>
<text x="279.5" y="431.8" font-size="6.6" fill="#231f20" stroke="#231f20" stroke-width="0.12" textLength="27" lengthAdjust="spacingAndGlyphs">&#916;&#946;&#8722;value</text>
<text x="435" y="468.4" font-size="9.6" fill="#231f20" stroke="#231f20" stroke-width="0.12" textLength="16.4" lengthAdjust="spacingAndGlyphs">DBCs</text>
<path d="M0 0H520V1H0Z M0 0H1V479H0Z M518.7 0H520V479H518.7Z M0 477.9H520V479H0Z" fill="#000"/>
</svg>
</body></html>
